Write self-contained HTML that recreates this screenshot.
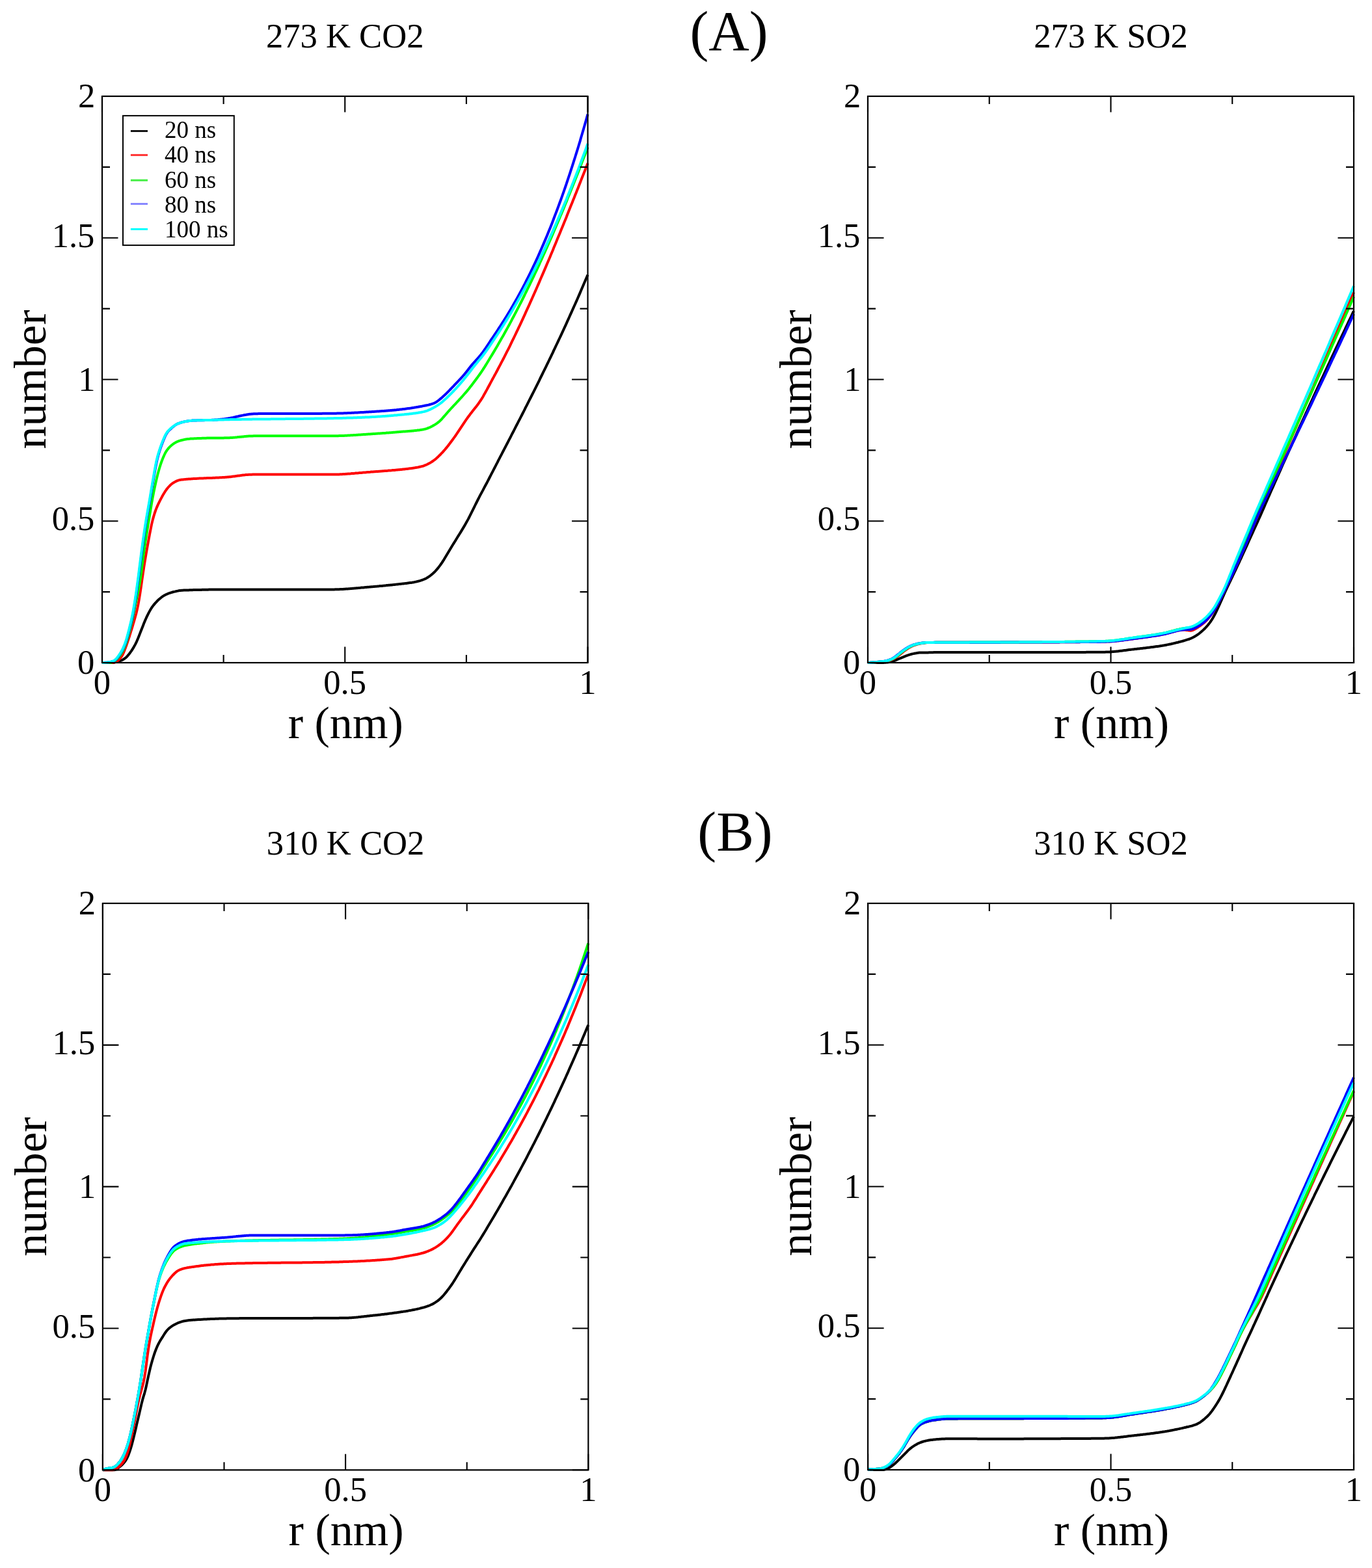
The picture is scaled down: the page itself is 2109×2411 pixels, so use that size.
<!DOCTYPE html>
<html><head><meta charset="utf-8"><title>number vs r</title>
<style>html,body{margin:0;padding:0;background:#fff;}svg{display:block;}</style></head>
<body>
<svg xmlns="http://www.w3.org/2000/svg" width="2109" height="2411" viewBox="0 0 2109 2411">
<rect width="2109" height="2411" fill="#ffffff"/>
<g fill="none" stroke-width="4" stroke-linejoin="round" stroke-linecap="butt">
<path d="M157.0,1019.0 L158.5,1019.0 L160.0,1019.0 L161.5,1019.0 L163.0,1019.0 L164.5,1019.0 L166.0,1019.0 L167.5,1019.0 L168.9,1019.0 L170.4,1019.0 L171.9,1019.0 L173.4,1018.9 L174.9,1018.7 L176.4,1018.3 L177.9,1017.9 L179.4,1017.6 L180.9,1017.2 L182.4,1016.8 L183.9,1016.4 L185.4,1015.9 L186.9,1015.3 L188.4,1014.6 L189.8,1013.7 L191.3,1012.8 L192.8,1011.7 L194.3,1010.4 L195.8,1008.8 L197.3,1007.1 L198.8,1005.2 L200.3,1003.2 L201.8,1001.1 L203.3,998.8 L204.8,996.4 L206.3,993.8 L207.8,991.1 L209.3,988.2 L210.7,985.0 L212.2,981.5 L213.7,977.8 L215.2,973.9 L216.7,970.0 L218.2,966.2 L219.7,962.4 L221.2,958.6 L222.7,954.9 L224.2,951.5 L225.7,948.2 L227.2,945.1 L228.7,942.1 L230.2,939.4 L231.7,936.8 L233.1,934.5 L234.6,932.4 L236.1,930.4 L237.6,928.6 L239.1,926.9 L240.6,925.3 L242.1,923.7 L243.6,922.3 L245.1,921.0 L246.6,919.7 L248.1,918.5 L249.6,917.4 L251.1,916.4 L252.6,915.5 L254.0,914.8 L255.5,914.0 L257.0,913.4 L258.5,912.7 L260.0,912.2 L261.5,911.6 L263.0,911.2 L264.5,910.7 L266.0,910.3 L267.5,909.9 L269.0,909.6 L270.5,909.2 L272.0,908.9 L273.5,908.6 L274.9,908.3 L276.4,908.1 L277.9,907.9 L279.4,907.8 L280.9,907.7 L282.4,907.6 L283.9,907.6 L285.4,907.5 L286.9,907.5 L288.4,907.4 L289.9,907.4 L291.4,907.3 L292.9,907.3 L294.4,907.2 L295.8,907.2 L297.3,907.1 L298.8,907.1 L300.3,907.1 L301.8,907.0 L303.3,907.0 L304.8,906.9 L306.3,906.9 L307.8,906.9 L309.3,906.9 L310.8,906.8 L312.3,906.8 L313.8,906.8 L315.3,906.7 L316.8,906.7 L318.2,906.7 L319.7,906.7 L321.2,906.6 L322.7,906.6 L324.2,906.6 L325.7,906.6 L327.2,906.6 L328.7,906.5 L330.2,906.5 L331.7,906.5 L333.2,906.5 L334.7,906.5 L336.2,906.5 L337.7,906.5 L339.1,906.4 L340.6,906.4 L342.1,906.4 L343.6,906.4 L345.1,906.4 L346.6,906.4 L348.1,906.4 L349.6,906.4 L351.1,906.4 L352.6,906.4 L354.1,906.4 L355.6,906.4 L357.1,906.4 L358.6,906.4 L360.0,906.4 L361.5,906.4 L363.0,906.4 L364.5,906.4 L366.0,906.4 L367.5,906.4 L369.0,906.4 L370.5,906.4 L372.0,906.4 L373.5,906.4 L375.0,906.4 L376.5,906.4 L378.0,906.4 L379.5,906.4 L381.0,906.4 L382.4,906.4 L383.9,906.4 L385.4,906.4 L386.9,906.4 L388.4,906.4 L389.9,906.4 L391.4,906.4 L392.9,906.4 L394.4,906.4 L395.9,906.4 L397.4,906.4 L398.9,906.4 L400.4,906.4 L401.9,906.4 L403.3,906.4 L404.8,906.4 L406.3,906.4 L407.8,906.4 L409.3,906.4 L410.8,906.4 L412.3,906.4 L413.8,906.4 L415.3,906.4 L416.8,906.4 L418.3,906.4 L419.8,906.4 L421.3,906.4 L422.8,906.4 L424.2,906.4 L425.7,906.4 L427.2,906.4 L428.7,906.4 L430.2,906.4 L431.7,906.4 L433.2,906.4 L434.7,906.4 L436.2,906.4 L437.7,906.4 L439.2,906.4 L440.7,906.4 L442.2,906.4 L443.7,906.4 L445.1,906.4 L446.6,906.4 L448.1,906.4 L449.6,906.4 L451.1,906.4 L452.6,906.4 L454.1,906.4 L455.6,906.4 L457.1,906.4 L458.6,906.4 L460.1,906.4 L461.6,906.4 L463.1,906.4 L464.6,906.4 L466.1,906.4 L467.5,906.4 L469.0,906.4 L470.5,906.4 L472.0,906.4 L473.5,906.4 L475.0,906.4 L476.5,906.4 L478.0,906.4 L479.5,906.4 L481.0,906.4 L482.5,906.4 L484.0,906.4 L485.5,906.4 L487.0,906.4 L488.4,906.4 L489.9,906.4 L491.4,906.4 L492.9,906.4 L494.4,906.4 L495.9,906.4 L497.4,906.4 L498.9,906.4 L500.4,906.4 L501.9,906.4 L503.4,906.4 L504.9,906.4 L506.4,906.4 L507.9,906.4 L509.3,906.4 L510.8,906.4 L512.3,906.4 L513.8,906.4 L515.3,906.3 L516.8,906.3 L518.3,906.3 L519.8,906.2 L521.3,906.2 L522.8,906.1 L524.3,906.0 L525.8,906.0 L527.3,905.9 L528.8,905.8 L530.3,905.7 L531.7,905.6 L533.2,905.5 L534.7,905.4 L536.2,905.3 L537.7,905.2 L539.2,905.1 L540.7,905.0 L542.2,904.8 L543.7,904.7 L545.2,904.6 L546.7,904.5 L548.2,904.3 L549.7,904.2 L551.2,904.1 L552.6,903.9 L554.1,903.8 L555.6,903.6 L557.1,903.5 L558.6,903.4 L560.1,903.2 L561.6,903.1 L563.1,903.0 L564.6,902.8 L566.1,902.7 L567.6,902.6 L569.1,902.4 L570.6,902.3 L572.1,902.2 L573.5,902.1 L575.0,901.9 L576.5,901.8 L578.0,901.7 L579.5,901.6 L581.0,901.4 L582.5,901.3 L584.0,901.1 L585.5,901.0 L587.0,900.9 L588.5,900.7 L590.0,900.6 L591.5,900.4 L593.0,900.3 L594.4,900.1 L595.9,900.0 L597.4,899.8 L598.9,899.7 L600.4,899.5 L601.9,899.4 L603.4,899.2 L604.9,899.1 L606.4,898.9 L607.9,898.7 L609.4,898.6 L610.9,898.4 L612.4,898.2 L613.9,898.1 L615.4,897.9 L616.8,897.7 L618.3,897.6 L619.8,897.4 L621.3,897.2 L622.8,897.1 L624.3,896.9 L625.8,896.7 L627.3,896.5 L628.8,896.3 L630.3,896.1 L631.8,895.9 L633.3,895.7 L634.8,895.4 L636.3,895.2 L637.7,894.9 L639.2,894.6 L640.7,894.3 L642.2,893.9 L643.7,893.5 L645.2,893.1 L646.7,892.6 L648.2,892.1 L649.7,891.6 L651.2,891.0 L652.7,890.4 L654.2,889.7 L655.7,888.9 L657.2,888.0 L658.6,887.1 L660.1,886.1 L661.6,885.0 L663.1,883.8 L664.6,882.6 L666.1,881.2 L667.6,879.8 L669.1,878.3 L670.6,876.6 L672.1,874.9 L673.6,873.1 L675.1,871.1 L676.6,869.1 L678.1,867.0 L679.6,864.9 L681.0,862.6 L682.5,860.3 L684.0,857.8 L685.5,855.3 L687.0,852.8 L688.5,850.2 L690.0,847.7 L691.5,845.2 L693.0,842.7 L694.5,840.2 L696.0,837.8 L697.5,835.4 L699.0,833.0 L700.5,830.6 L701.9,828.2 L703.4,825.8 L704.9,823.4 L706.4,821.0 L707.9,818.6 L709.4,816.1 L710.9,813.6 L712.4,811.1 L713.9,808.6 L715.4,806.0 L716.9,803.3 L718.4,800.6 L719.9,797.9 L721.4,795.0 L722.8,792.1 L724.3,789.2 L725.8,786.2 L727.3,783.2 L728.8,780.1 L730.3,777.0 L731.8,774.0 L733.3,771.0 L734.8,768.0 L736.3,765.1 L737.8,762.2 L739.3,759.4 L740.8,756.6 L742.3,753.9 L743.7,751.1 L745.2,748.3 L746.7,745.5 L748.2,742.7 L749.7,739.9 L751.2,737.0 L752.7,734.0 L754.2,731.1 L755.7,728.2 L757.2,725.3 L758.7,722.4 L760.2,719.5 L761.7,716.6 L763.2,713.7 L764.7,710.8 L766.1,707.9 L767.6,705.1 L769.1,702.2 L770.6,699.3 L772.1,696.4 L773.6,693.5 L775.1,690.6 L776.6,687.8 L778.1,684.9 L779.6,682.0 L781.1,679.1 L782.6,676.2 L784.1,673.3 L785.6,670.4 L787.0,667.5 L788.5,664.7 L790.0,661.8 L791.5,658.9 L793.0,655.9 L794.5,653.0 L796.0,650.1 L797.5,647.2 L799.0,644.3 L800.5,641.4 L802.0,638.5 L803.5,635.5 L805.0,632.6 L806.5,629.7 L807.9,626.7 L809.4,623.8 L810.9,620.8 L812.4,617.9 L813.9,614.9 L815.4,612.0 L816.9,609.0 L818.4,606.0 L819.9,603.1 L821.4,600.1 L822.9,597.1 L824.4,594.1 L825.9,591.1 L827.4,588.1 L828.9,585.1 L830.3,582.0 L831.8,579.0 L833.3,576.0 L834.8,572.9 L836.3,569.9 L837.8,566.8 L839.3,563.8 L840.8,560.7 L842.3,557.6 L843.8,554.5 L845.3,551.4 L846.8,548.3 L848.3,545.2 L849.8,542.1 L851.2,538.9 L852.7,535.8 L854.2,532.7 L855.7,529.5 L857.2,526.3 L858.7,523.1 L860.2,520.0 L861.7,516.8 L863.2,513.6 L864.7,510.3 L866.2,507.1 L867.7,503.9 L869.2,500.6 L870.7,497.3 L872.1,494.1 L873.6,490.8 L875.1,487.5 L876.6,484.2 L878.1,480.9 L879.6,477.5 L881.1,474.2 L882.6,470.8 L884.1,467.5 L885.6,464.1 L887.1,460.7 L888.6,457.3 L890.1,453.9 L891.6,450.4 L893.0,447.0 L894.5,443.5 L896.0,440.0 L897.5,436.5 L899.0,433.0 L900.5,429.5 L902.0,426.0 L903.5,422.4" stroke="#000000"/>
<path d="M157.0,1019.0 L158.5,1019.0 L160.0,1019.0 L161.5,1019.0 L163.0,1019.0 L164.5,1019.0 L166.0,1019.0 L167.5,1019.0 L168.9,1019.0 L170.4,1019.0 L171.9,1019.0 L173.4,1018.9 L174.9,1018.7 L176.4,1018.4 L177.9,1017.8 L179.4,1017.1 L180.9,1016.0 L182.4,1014.8 L183.9,1013.2 L185.4,1011.4 L186.9,1009.4 L188.4,1007.0 L189.8,1003.9 L191.3,1000.3 L192.8,996.3 L194.3,992.2 L195.8,987.9 L197.3,983.4 L198.8,978.8 L200.3,974.0 L201.8,969.2 L203.3,964.3 L204.8,959.3 L206.3,954.2 L207.8,949.0 L209.3,943.5 L210.7,937.5 L212.2,930.5 L213.7,922.4 L215.2,913.2 L216.7,903.1 L218.2,892.5 L219.7,882.1 L221.2,872.3 L222.7,863.0 L224.2,853.9 L225.7,845.2 L227.2,836.8 L228.7,828.6 L230.2,820.7 L231.7,813.1 L233.1,806.1 L234.6,799.9 L236.1,794.4 L237.6,789.5 L239.1,785.0 L240.6,781.1 L242.1,777.6 L243.6,774.4 L245.1,771.3 L246.6,768.4 L248.1,765.6 L249.6,762.8 L251.1,760.1 L252.6,757.7 L254.0,755.4 L255.5,753.3 L257.0,751.3 L258.5,749.5 L260.0,747.8 L261.5,746.3 L263.0,744.9 L264.5,743.7 L266.0,742.7 L267.5,741.8 L269.0,740.9 L270.5,740.1 L272.0,739.4 L273.5,738.8 L274.9,738.4 L276.4,738.0 L277.9,737.8 L279.4,737.6 L280.9,737.4 L282.4,737.2 L283.9,737.1 L285.4,736.9 L286.9,736.8 L288.4,736.7 L289.9,736.6 L291.4,736.5 L292.9,736.4 L294.4,736.3 L295.8,736.2 L297.3,736.1 L298.8,736.0 L300.3,735.9 L301.8,735.9 L303.3,735.8 L304.8,735.7 L306.3,735.6 L307.8,735.6 L309.3,735.5 L310.8,735.4 L312.3,735.4 L313.8,735.3 L315.3,735.3 L316.8,735.2 L318.2,735.1 L319.7,735.1 L321.2,735.0 L322.7,735.0 L324.2,734.9 L325.7,734.9 L327.2,734.8 L328.7,734.7 L330.2,734.7 L331.7,734.6 L333.2,734.5 L334.7,734.5 L336.2,734.4 L337.7,734.3 L339.1,734.3 L340.6,734.2 L342.1,734.1 L343.6,734.0 L345.1,733.9 L346.6,733.8 L348.1,733.7 L349.6,733.6 L351.1,733.5 L352.6,733.3 L354.1,733.2 L355.6,733.0 L357.1,732.8 L358.6,732.6 L360.0,732.5 L361.5,732.2 L363.0,732.0 L364.5,731.8 L366.0,731.6 L367.5,731.4 L369.0,731.2 L370.5,731.0 L372.0,730.8 L373.5,730.6 L375.0,730.4 L376.5,730.3 L378.0,730.1 L379.5,730.0 L381.0,729.9 L382.4,729.8 L383.9,729.7 L385.4,729.7 L386.9,729.7 L388.4,729.6 L389.9,729.6 L391.4,729.6 L392.9,729.6 L394.4,729.6 L395.9,729.6 L397.4,729.6 L398.9,729.6 L400.4,729.6 L401.9,729.6 L403.3,729.6 L404.8,729.6 L406.3,729.6 L407.8,729.6 L409.3,729.6 L410.8,729.6 L412.3,729.6 L413.8,729.6 L415.3,729.6 L416.8,729.6 L418.3,729.6 L419.8,729.6 L421.3,729.6 L422.8,729.6 L424.2,729.6 L425.7,729.6 L427.2,729.6 L428.7,729.6 L430.2,729.6 L431.7,729.6 L433.2,729.6 L434.7,729.6 L436.2,729.6 L437.7,729.6 L439.2,729.6 L440.7,729.6 L442.2,729.6 L443.7,729.6 L445.1,729.6 L446.6,729.6 L448.1,729.6 L449.6,729.6 L451.1,729.6 L452.6,729.6 L454.1,729.6 L455.6,729.6 L457.1,729.6 L458.6,729.6 L460.1,729.6 L461.6,729.6 L463.1,729.6 L464.6,729.6 L466.1,729.6 L467.5,729.6 L469.0,729.6 L470.5,729.6 L472.0,729.6 L473.5,729.6 L475.0,729.6 L476.5,729.6 L478.0,729.6 L479.5,729.6 L481.0,729.6 L482.5,729.6 L484.0,729.6 L485.5,729.6 L487.0,729.6 L488.4,729.6 L489.9,729.6 L491.4,729.6 L492.9,729.6 L494.4,729.6 L495.9,729.6 L497.4,729.6 L498.9,729.6 L500.4,729.6 L501.9,729.6 L503.4,729.6 L504.9,729.6 L506.4,729.6 L507.9,729.6 L509.3,729.6 L510.8,729.6 L512.3,729.6 L513.8,729.6 L515.3,729.5 L516.8,729.5 L518.3,729.5 L519.8,729.4 L521.3,729.4 L522.8,729.3 L524.3,729.2 L525.8,729.2 L527.3,729.1 L528.8,729.0 L530.3,728.9 L531.7,728.8 L533.2,728.7 L534.7,728.6 L536.2,728.5 L537.7,728.4 L539.2,728.3 L540.7,728.1 L542.2,728.0 L543.7,727.9 L545.2,727.8 L546.7,727.6 L548.2,727.5 L549.7,727.4 L551.2,727.3 L552.6,727.1 L554.1,727.0 L555.6,726.9 L557.1,726.7 L558.6,726.6 L560.1,726.5 L561.6,726.4 L563.1,726.2 L564.6,726.1 L566.1,726.0 L567.6,725.9 L569.1,725.8 L570.6,725.6 L572.1,725.5 L573.5,725.4 L575.0,725.3 L576.5,725.2 L578.0,725.1 L579.5,725.0 L581.0,724.9 L582.5,724.8 L584.0,724.7 L585.5,724.6 L587.0,724.5 L588.5,724.3 L590.0,724.2 L591.5,724.1 L593.0,724.0 L594.4,723.9 L595.9,723.8 L597.4,723.6 L598.9,723.5 L600.4,723.4 L601.9,723.3 L603.4,723.1 L604.9,723.0 L606.4,722.9 L607.9,722.7 L609.4,722.6 L610.9,722.4 L612.4,722.3 L613.9,722.2 L615.4,722.0 L616.8,721.9 L618.3,721.7 L619.8,721.5 L621.3,721.4 L622.8,721.2 L624.3,721.1 L625.8,720.9 L627.3,720.7 L628.8,720.5 L630.3,720.3 L631.8,720.2 L633.3,719.9 L634.8,719.7 L636.3,719.5 L637.7,719.3 L639.2,719.0 L640.7,718.7 L642.2,718.5 L643.7,718.2 L645.2,717.8 L646.7,717.5 L648.2,717.1 L649.7,716.8 L651.2,716.3 L652.7,715.7 L654.2,715.1 L655.7,714.5 L657.2,713.8 L658.6,713.0 L660.1,712.2 L661.6,711.4 L663.1,710.5 L664.6,709.5 L666.1,708.5 L667.6,707.4 L669.1,706.2 L670.6,704.9 L672.1,703.6 L673.6,702.2 L675.1,700.7 L676.6,699.3 L678.1,697.7 L679.6,696.2 L681.0,694.6 L682.5,692.9 L684.0,691.2 L685.5,689.4 L687.0,687.6 L688.5,685.7 L690.0,683.7 L691.5,681.8 L693.0,679.8 L694.5,677.8 L696.0,675.8 L697.5,673.7 L699.0,671.6 L700.5,669.5 L701.9,667.4 L703.4,665.2 L704.9,662.9 L706.4,660.7 L707.9,658.4 L709.4,656.1 L710.9,653.8 L712.4,651.6 L713.9,649.3 L715.4,647.1 L716.9,644.9 L718.4,642.8 L719.9,640.8 L721.4,638.8 L722.8,636.8 L724.3,634.9 L725.8,633.0 L727.3,631.1 L728.8,629.2 L730.3,627.3 L731.8,625.4 L733.3,623.5 L734.8,621.5 L736.3,619.4 L737.8,617.2 L739.3,615.0 L740.8,612.6 L742.3,610.2 L743.7,607.6 L745.2,605.0 L746.7,602.3 L748.2,599.6 L749.7,596.8 L751.2,594.0 L752.7,591.2 L754.2,588.4 L755.7,585.6 L757.2,582.8 L758.7,580.1 L760.2,577.3 L761.7,574.6 L763.2,571.8 L764.7,569.0 L766.1,566.2 L767.6,563.4 L769.1,560.6 L770.6,557.7 L772.1,554.9 L773.6,552.0 L775.1,549.1 L776.6,546.1 L778.1,543.2 L779.6,540.2 L781.1,537.3 L782.6,534.3 L784.1,531.3 L785.6,528.2 L787.0,525.2 L788.5,522.1 L790.0,519.1 L791.5,516.0 L793.0,512.9 L794.5,509.7 L796.0,506.6 L797.5,503.4 L799.0,500.3 L800.5,497.1 L802.0,493.9 L803.5,490.7 L805.0,487.4 L806.5,484.2 L807.9,480.9 L809.4,477.7 L810.9,474.4 L812.4,471.1 L813.9,467.8 L815.4,464.4 L816.9,461.1 L818.4,457.7 L819.9,454.4 L821.4,451.0 L822.9,447.6 L824.4,444.2 L825.9,440.8 L827.4,437.4 L828.9,433.9 L830.3,430.5 L831.8,427.0 L833.3,423.6 L834.8,420.1 L836.3,416.6 L837.8,413.1 L839.3,409.6 L840.8,406.0 L842.3,402.5 L843.8,399.0 L845.3,395.4 L846.8,391.8 L848.3,388.3 L849.8,384.7 L851.2,381.1 L852.7,377.5 L854.2,373.9 L855.7,370.3 L857.2,366.6 L858.7,363.0 L860.2,359.4 L861.7,355.7 L863.2,352.1 L864.7,348.4 L866.2,344.7 L867.7,341.0 L869.2,337.4 L870.7,333.7 L872.1,330.0 L873.6,326.3 L875.1,322.5 L876.6,318.8 L878.1,315.1 L879.6,311.4 L881.1,307.6 L882.6,303.9 L884.1,300.1 L885.6,296.4 L887.1,292.6 L888.6,288.9 L890.1,285.1 L891.6,281.3 L893.0,277.6 L894.5,273.8 L896.0,270.0 L897.5,266.2 L899.0,262.4 L900.5,258.6 L902.0,254.8 L903.5,251.0" stroke="#ff0000"/>
<path d="M157.0,1019.0 L158.5,1019.0 L160.0,1019.0 L161.5,1019.0 L163.0,1019.0 L164.5,1019.0 L166.0,1019.0 L167.5,1019.0 L168.9,1019.0 L170.4,1018.9 L171.9,1018.5 L173.4,1017.9 L174.9,1017.1 L176.4,1016.1 L177.9,1014.9 L179.4,1013.6 L180.9,1012.1 L182.4,1010.4 L183.9,1008.6 L185.4,1006.5 L186.9,1004.2 L188.4,1001.6 L189.8,998.6 L191.3,995.3 L192.8,991.6 L194.3,987.3 L195.8,982.6 L197.3,977.5 L198.8,972.0 L200.3,966.2 L201.8,960.0 L203.3,953.3 L204.8,946.1 L206.3,938.6 L207.8,931.1 L209.3,924.0 L210.7,917.2 L212.2,910.1 L213.7,902.3 L215.2,893.4 L216.7,883.1 L218.2,871.9 L219.7,860.3 L221.2,849.0 L222.7,838.4 L224.2,828.4 L225.7,818.9 L227.2,809.6 L228.7,800.5 L230.2,791.5 L231.7,782.5 L233.1,773.8 L234.6,765.5 L236.1,757.7 L237.6,750.3 L239.1,743.3 L240.6,736.7 L242.1,730.6 L243.6,724.9 L245.1,719.7 L246.6,714.9 L248.1,710.5 L249.6,706.5 L251.1,702.8 L252.6,699.5 L254.0,696.6 L255.5,694.0 L257.0,691.8 L258.5,689.9 L260.0,688.1 L261.5,686.6 L263.0,685.2 L264.5,684.0 L266.0,682.9 L267.5,681.8 L269.0,680.9 L270.5,680.1 L272.0,679.3 L273.5,678.7 L274.9,678.1 L276.4,677.6 L277.9,677.2 L279.4,676.8 L280.9,676.5 L282.4,676.1 L283.9,675.8 L285.4,675.5 L286.9,675.3 L288.4,675.1 L289.9,674.9 L291.4,674.8 L292.9,674.6 L294.4,674.5 L295.8,674.5 L297.3,674.4 L298.8,674.3 L300.3,674.2 L301.8,674.2 L303.3,674.1 L304.8,674.0 L306.3,674.0 L307.8,673.9 L309.3,673.9 L310.8,673.8 L312.3,673.8 L313.8,673.7 L315.3,673.7 L316.8,673.7 L318.2,673.6 L319.7,673.6 L321.2,673.6 L322.7,673.6 L324.2,673.5 L325.7,673.5 L327.2,673.5 L328.7,673.5 L330.2,673.5 L331.7,673.5 L333.2,673.4 L334.7,673.4 L336.2,673.4 L337.7,673.4 L339.1,673.4 L340.6,673.4 L342.1,673.4 L343.6,673.4 L345.1,673.3 L346.6,673.3 L348.1,673.3 L349.6,673.3 L351.1,673.2 L352.6,673.2 L354.1,673.1 L355.6,673.0 L357.1,672.9 L358.6,672.8 L360.0,672.7 L361.5,672.6 L363.0,672.4 L364.5,672.3 L366.0,672.1 L367.5,672.0 L369.0,671.8 L370.5,671.7 L372.0,671.5 L373.5,671.4 L375.0,671.2 L376.5,671.1 L378.0,671.0 L379.5,670.8 L381.0,670.7 L382.4,670.6 L383.9,670.5 L385.4,670.5 L386.9,670.4 L388.4,670.4 L389.9,670.3 L391.4,670.3 L392.9,670.3 L394.4,670.3 L395.9,670.3 L397.4,670.3 L398.9,670.3 L400.4,670.3 L401.9,670.3 L403.3,670.3 L404.8,670.3 L406.3,670.3 L407.8,670.3 L409.3,670.3 L410.8,670.3 L412.3,670.3 L413.8,670.3 L415.3,670.3 L416.8,670.3 L418.3,670.3 L419.8,670.3 L421.3,670.3 L422.8,670.3 L424.2,670.3 L425.7,670.3 L427.2,670.3 L428.7,670.3 L430.2,670.3 L431.7,670.3 L433.2,670.3 L434.7,670.3 L436.2,670.3 L437.7,670.3 L439.2,670.3 L440.7,670.3 L442.2,670.3 L443.7,670.3 L445.1,670.3 L446.6,670.3 L448.1,670.3 L449.6,670.3 L451.1,670.3 L452.6,670.3 L454.1,670.3 L455.6,670.3 L457.1,670.3 L458.6,670.3 L460.1,670.3 L461.6,670.3 L463.1,670.3 L464.6,670.3 L466.1,670.3 L467.5,670.3 L469.0,670.3 L470.5,670.3 L472.0,670.3 L473.5,670.3 L475.0,670.3 L476.5,670.3 L478.0,670.3 L479.5,670.3 L481.0,670.3 L482.5,670.3 L484.0,670.3 L485.5,670.3 L487.0,670.3 L488.4,670.3 L489.9,670.3 L491.4,670.3 L492.9,670.3 L494.4,670.3 L495.9,670.3 L497.4,670.3 L498.9,670.3 L500.4,670.3 L501.9,670.3 L503.4,670.3 L504.9,670.3 L506.4,670.3 L507.9,670.3 L509.3,670.3 L510.8,670.3 L512.3,670.3 L513.8,670.3 L515.3,670.2 L516.8,670.2 L518.3,670.2 L519.8,670.2 L521.3,670.1 L522.8,670.1 L524.3,670.0 L525.8,670.0 L527.3,669.9 L528.8,669.9 L530.3,669.8 L531.7,669.7 L533.2,669.7 L534.7,669.6 L536.2,669.5 L537.7,669.4 L539.2,669.3 L540.7,669.2 L542.2,669.2 L543.7,669.1 L545.2,669.0 L546.7,668.9 L548.2,668.8 L549.7,668.7 L551.2,668.6 L552.6,668.5 L554.1,668.4 L555.6,668.3 L557.1,668.2 L558.6,668.1 L560.1,668.0 L561.6,667.9 L563.1,667.8 L564.6,667.7 L566.1,667.6 L567.6,667.5 L569.1,667.4 L570.6,667.3 L572.1,667.2 L573.5,667.1 L575.0,667.0 L576.5,666.9 L578.0,666.8 L579.5,666.7 L581.0,666.6 L582.5,666.5 L584.0,666.4 L585.5,666.3 L587.0,666.2 L588.5,666.1 L590.0,666.0 L591.5,665.9 L593.0,665.8 L594.4,665.6 L595.9,665.5 L597.4,665.4 L598.9,665.3 L600.4,665.2 L601.9,665.1 L603.4,664.9 L604.9,664.8 L606.4,664.7 L607.9,664.6 L609.4,664.4 L610.9,664.3 L612.4,664.2 L613.9,664.1 L615.4,664.0 L616.8,663.8 L618.3,663.7 L619.8,663.6 L621.3,663.5 L622.8,663.4 L624.3,663.3 L625.8,663.2 L627.3,663.0 L628.8,662.9 L630.3,662.8 L631.8,662.7 L633.3,662.5 L634.8,662.4 L636.3,662.2 L637.7,662.1 L639.2,661.9 L640.7,661.8 L642.2,661.6 L643.7,661.4 L645.2,661.2 L646.7,660.9 L648.2,660.7 L649.7,660.5 L651.2,660.2 L652.7,659.9 L654.2,659.5 L655.7,659.1 L657.2,658.5 L658.6,658.0 L660.1,657.4 L661.6,656.7 L663.1,655.9 L664.6,655.2 L666.1,654.3 L667.6,653.5 L669.1,652.6 L670.6,651.6 L672.1,650.6 L673.6,649.4 L675.1,648.2 L676.6,646.8 L678.1,645.3 L679.6,643.8 L681.0,642.1 L682.5,640.4 L684.0,638.7 L685.5,637.0 L687.0,635.2 L688.5,633.5 L690.0,631.8 L691.5,630.2 L693.0,628.5 L694.5,626.9 L696.0,625.3 L697.5,623.7 L699.0,622.2 L700.5,620.6 L701.9,619.0 L703.4,617.4 L704.9,615.8 L706.4,614.1 L707.9,612.5 L709.4,610.9 L710.9,609.2 L712.4,607.5 L713.9,605.8 L715.4,604.1 L716.9,602.4 L718.4,600.6 L719.9,598.8 L721.4,596.9 L722.8,595.1 L724.3,593.2 L725.8,591.2 L727.3,589.3 L728.8,587.3 L730.3,585.3 L731.8,583.3 L733.3,581.3 L734.8,579.2 L736.3,577.1 L737.8,575.0 L739.3,572.8 L740.8,570.6 L742.3,568.4 L743.7,566.1 L745.2,563.8 L746.7,561.4 L748.2,559.0 L749.7,556.5 L751.2,554.0 L752.7,551.5 L754.2,549.0 L755.7,546.6 L757.2,544.1 L758.7,541.6 L760.2,539.1 L761.7,536.5 L763.2,534.0 L764.7,531.5 L766.1,528.9 L767.6,526.3 L769.1,523.7 L770.6,521.1 L772.1,518.5 L773.6,515.9 L775.1,513.2 L776.6,510.5 L778.1,507.8 L779.6,505.1 L781.1,502.4 L782.6,499.7 L784.1,496.9 L785.6,494.1 L787.0,491.3 L788.5,488.5 L790.0,485.7 L791.5,482.8 L793.0,480.0 L794.5,477.1 L796.0,474.2 L797.5,471.3 L799.0,468.4 L800.5,465.5 L802.0,462.5 L803.5,459.5 L805.0,456.5 L806.5,453.5 L807.9,450.5 L809.4,447.5 L810.9,444.4 L812.4,441.4 L813.9,438.3 L815.4,435.2 L816.9,432.1 L818.4,428.9 L819.9,425.8 L821.4,422.6 L822.9,419.5 L824.4,416.3 L825.9,413.1 L827.4,409.8 L828.9,406.6 L830.3,403.3 L831.8,400.1 L833.3,396.8 L834.8,393.5 L836.3,390.2 L837.8,386.9 L839.3,383.5 L840.8,380.2 L842.3,376.8 L843.8,373.4 L845.3,370.0 L846.8,366.6 L848.3,363.2 L849.8,359.7 L851.2,356.3 L852.7,352.8 L854.2,349.3 L855.7,345.8 L857.2,342.3 L858.7,338.7 L860.2,335.2 L861.7,331.6 L863.2,328.1 L864.7,324.5 L866.2,320.9 L867.7,317.3 L869.2,313.6 L870.7,310.0 L872.1,306.3 L873.6,302.6 L875.1,299.0 L876.6,295.3 L878.1,291.6 L879.6,287.8 L881.1,284.1 L882.6,280.3 L884.1,276.6 L885.6,272.8 L887.1,269.0 L888.6,265.2 L890.1,261.4 L891.6,257.5 L893.0,253.7 L894.5,249.8 L896.0,245.9 L897.5,242.1 L899.0,238.2 L900.5,234.2 L902.0,230.3 L903.5,226.4" stroke="#00ff00"/>
<path d="M157.0,1019.0 L158.5,1019.0 L160.0,1018.9 L161.5,1018.8 L163.0,1018.7 L164.5,1018.6 L166.0,1018.4 L167.5,1018.3 L168.9,1018.0 L170.4,1017.7 L171.9,1017.3 L173.4,1016.9 L174.9,1016.3 L176.4,1015.5 L177.9,1014.4 L179.4,1012.8 L180.9,1011.0 L182.4,1009.0 L183.9,1006.8 L185.4,1004.5 L186.9,1002.1 L188.4,999.4 L189.8,996.4 L191.3,993.0 L192.8,989.2 L194.3,984.8 L195.8,979.7 L197.3,974.2 L198.8,968.4 L200.3,962.5 L201.8,956.2 L203.3,949.5 L204.8,941.9 L206.3,933.5 L207.8,924.4 L209.3,914.9 L210.7,904.9 L212.2,894.2 L213.7,882.8 L215.2,870.8 L216.7,858.9 L218.2,847.4 L219.7,836.2 L221.2,825.4 L222.7,815.1 L224.2,805.3 L225.7,796.3 L227.2,787.6 L228.7,779.1 L230.2,770.5 L231.7,761.8 L233.1,753.0 L234.6,744.3 L236.1,735.6 L237.6,727.0 L239.1,718.7 L240.6,711.0 L242.1,704.4 L243.6,698.8 L245.1,693.9 L246.6,689.4 L248.1,685.0 L249.6,681.0 L251.1,677.2 L252.6,673.7 L254.0,670.4 L255.5,667.6 L257.0,665.2 L258.5,663.3 L260.0,661.6 L261.5,660.2 L263.0,658.9 L264.5,657.6 L266.0,656.3 L267.5,655.1 L269.0,654.0 L270.5,652.9 L272.0,652.1 L273.5,651.4 L274.9,650.8 L276.4,650.3 L277.9,649.8 L279.4,649.4 L280.9,649.0 L282.4,648.6 L283.9,648.3 L285.4,648.1 L286.9,647.8 L288.4,647.5 L289.9,647.3 L291.4,647.1 L292.9,646.9 L294.4,646.8 L295.8,646.6 L297.3,646.5 L298.8,646.5 L300.3,646.4 L301.8,646.4 L303.3,646.3 L304.8,646.3 L306.3,646.3 L307.8,646.3 L309.3,646.2 L310.8,646.2 L312.3,646.2 L313.8,646.2 L315.3,646.1 L316.8,646.1 L318.2,646.1 L319.7,646.0 L321.2,646.0 L322.7,645.9 L324.2,645.9 L325.7,645.8 L327.2,645.8 L328.7,645.7 L330.2,645.6 L331.7,645.5 L333.2,645.4 L334.7,645.3 L336.2,645.1 L337.7,645.0 L339.1,644.8 L340.6,644.7 L342.1,644.5 L343.6,644.4 L345.1,644.2 L346.6,644.0 L348.1,643.8 L349.6,643.6 L351.1,643.3 L352.6,643.1 L354.1,642.8 L355.6,642.5 L357.1,642.2 L358.6,641.9 L360.0,641.5 L361.5,641.2 L363.0,640.8 L364.5,640.5 L366.0,640.2 L367.5,639.8 L369.0,639.5 L370.5,639.2 L372.0,638.9 L373.5,638.6 L375.0,638.3 L376.5,638.0 L378.0,637.8 L379.5,637.5 L381.0,637.2 L382.4,637.0 L383.9,636.8 L385.4,636.7 L386.9,636.5 L388.4,636.4 L389.9,636.3 L391.4,636.3 L392.9,636.2 L394.4,636.2 L395.9,636.2 L397.4,636.1 L398.9,636.1 L400.4,636.1 L401.9,636.1 L403.3,636.1 L404.8,636.1 L406.3,636.1 L407.8,636.1 L409.3,636.1 L410.8,636.1 L412.3,636.0 L413.8,636.0 L415.3,636.0 L416.8,636.0 L418.3,636.0 L419.8,636.0 L421.3,636.0 L422.8,636.0 L424.2,636.0 L425.7,636.0 L427.2,636.0 L428.7,636.0 L430.2,636.0 L431.7,636.0 L433.2,636.0 L434.7,636.0 L436.2,636.0 L437.7,636.0 L439.2,636.0 L440.7,636.0 L442.2,636.0 L443.7,636.0 L445.1,636.0 L446.6,636.0 L448.1,636.0 L449.6,636.0 L451.1,636.0 L452.6,635.9 L454.1,635.9 L455.6,635.9 L457.1,635.9 L458.6,635.9 L460.1,635.9 L461.6,635.9 L463.1,635.9 L464.6,635.9 L466.1,635.9 L467.5,635.9 L469.0,635.9 L470.5,635.9 L472.0,635.9 L473.5,635.9 L475.0,635.9 L476.5,635.9 L478.0,635.9 L479.5,635.9 L481.0,635.9 L482.5,635.9 L484.0,635.9 L485.5,635.9 L487.0,635.9 L488.4,635.9 L489.9,635.9 L491.4,635.9 L492.9,635.9 L494.4,635.9 L495.9,635.8 L497.4,635.8 L498.9,635.8 L500.4,635.8 L501.9,635.8 L503.4,635.8 L504.9,635.8 L506.4,635.8 L507.9,635.8 L509.3,635.8 L510.8,635.7 L512.3,635.7 L513.8,635.7 L515.3,635.7 L516.8,635.7 L518.3,635.6 L519.8,635.6 L521.3,635.6 L522.8,635.5 L524.3,635.5 L525.8,635.4 L527.3,635.4 L528.8,635.3 L530.3,635.3 L531.7,635.2 L533.2,635.2 L534.7,635.1 L536.2,635.0 L537.7,635.0 L539.2,634.9 L540.7,634.8 L542.2,634.7 L543.7,634.7 L545.2,634.6 L546.7,634.5 L548.2,634.4 L549.7,634.4 L551.2,634.3 L552.6,634.2 L554.1,634.1 L555.6,634.0 L557.1,633.9 L558.6,633.9 L560.1,633.8 L561.6,633.7 L563.1,633.6 L564.6,633.5 L566.1,633.4 L567.6,633.3 L569.1,633.3 L570.6,633.2 L572.1,633.1 L573.5,633.0 L575.0,632.9 L576.5,632.8 L578.0,632.7 L579.5,632.6 L581.0,632.5 L582.5,632.4 L584.0,632.3 L585.5,632.2 L587.0,632.1 L588.5,632.0 L590.0,631.9 L591.5,631.8 L593.0,631.7 L594.4,631.6 L595.9,631.5 L597.4,631.3 L598.9,631.2 L600.4,631.1 L601.9,631.0 L603.4,630.8 L604.9,630.7 L606.4,630.5 L607.9,630.4 L609.4,630.3 L610.9,630.1 L612.4,630.0 L613.9,629.8 L615.4,629.6 L616.8,629.5 L618.3,629.3 L619.8,629.1 L621.3,628.9 L622.8,628.7 L624.3,628.5 L625.8,628.3 L627.3,628.1 L628.8,627.9 L630.3,627.7 L631.8,627.5 L633.3,627.2 L634.8,627.0 L636.3,626.8 L637.7,626.5 L639.2,626.3 L640.7,626.0 L642.2,625.8 L643.7,625.5 L645.2,625.2 L646.7,624.9 L648.2,624.7 L649.7,624.4 L651.2,624.1 L652.7,623.8 L654.2,623.5 L655.7,623.2 L657.2,622.9 L658.6,622.6 L660.1,622.2 L661.6,621.8 L663.1,621.4 L664.6,620.9 L666.1,620.4 L667.6,619.7 L669.1,619.0 L670.6,618.1 L672.1,617.1 L673.6,616.0 L675.1,614.9 L676.6,613.6 L678.1,612.4 L679.6,611.1 L681.0,609.8 L682.5,608.4 L684.0,607.0 L685.5,605.6 L687.0,604.1 L688.5,602.6 L690.0,601.1 L691.5,599.5 L693.0,598.0 L694.5,596.4 L696.0,594.8 L697.5,593.3 L699.0,591.7 L700.5,590.2 L701.9,588.6 L703.4,587.1 L704.9,585.5 L706.4,583.9 L707.9,582.3 L709.4,580.7 L710.9,579.0 L712.4,577.3 L713.9,575.6 L715.4,573.7 L716.9,571.9 L718.4,569.9 L719.9,568.0 L721.4,566.1 L722.8,564.2 L724.3,562.4 L725.8,560.6 L727.3,558.9 L728.8,557.2 L730.3,555.6 L731.8,553.9 L733.3,552.2 L734.8,550.5 L736.3,548.8 L737.8,547.0 L739.3,545.2 L740.8,543.3 L742.3,541.4 L743.7,539.3 L745.2,537.2 L746.7,535.1 L748.2,532.8 L749.7,530.6 L751.2,528.3 L752.7,526.0 L754.2,523.7 L755.7,521.5 L757.2,519.3 L758.7,517.1 L760.2,514.8 L761.7,512.6 L763.2,510.4 L764.7,508.2 L766.1,505.9 L767.6,503.6 L769.1,501.4 L770.6,499.0 L772.1,496.7 L773.6,494.4 L775.1,492.0 L776.6,489.6 L778.1,487.2 L779.6,484.7 L781.1,482.3 L782.6,479.8 L784.1,477.3 L785.6,474.8 L787.0,472.2 L788.5,469.7 L790.0,467.1 L791.5,464.4 L793.0,461.8 L794.5,459.1 L796.0,456.4 L797.5,453.7 L799.0,451.0 L800.5,448.2 L802.0,445.4 L803.5,442.6 L805.0,439.7 L806.5,436.9 L807.9,434.0 L809.4,431.0 L810.9,428.1 L812.4,425.1 L813.9,422.1 L815.4,419.0 L816.9,415.9 L818.4,412.8 L819.9,409.7 L821.4,406.5 L822.9,403.3 L824.4,400.1 L825.9,396.8 L827.4,393.5 L828.9,390.2 L830.3,386.8 L831.8,383.5 L833.3,380.0 L834.8,376.6 L836.3,373.1 L837.8,369.6 L839.3,366.0 L840.8,362.4 L842.3,358.8 L843.8,355.1 L845.3,351.4 L846.8,347.7 L848.3,343.9 L849.8,340.1 L851.2,336.2 L852.7,332.3 L854.2,328.4 L855.7,324.5 L857.2,320.5 L858.7,316.4 L860.2,312.3 L861.7,308.2 L863.2,304.1 L864.7,299.9 L866.2,295.6 L867.7,291.3 L869.2,287.0 L870.7,282.7 L872.1,278.3 L873.6,273.8 L875.1,269.3 L876.6,264.8 L878.1,260.2 L879.6,255.6 L881.1,250.9 L882.6,246.2 L884.1,241.5 L885.6,236.7 L887.1,231.9 L888.6,227.0 L890.1,222.0 L891.6,217.1 L893.0,212.0 L894.5,207.0 L896.0,201.9 L897.5,196.7 L899.0,191.5 L900.5,186.2 L902.0,180.9 L903.5,175.6" stroke="#0000ff"/>
<path d="M157.0,1019.0 L158.5,1019.0 L160.0,1018.9 L161.5,1018.8 L163.0,1018.7 L164.5,1018.6 L166.0,1018.4 L167.5,1018.2 L168.9,1018.0 L170.4,1017.6 L171.9,1017.2 L173.4,1016.7 L174.9,1016.0 L176.4,1015.1 L177.9,1013.8 L179.4,1012.1 L180.9,1010.2 L182.4,1008.1 L183.9,1005.9 L185.4,1003.6 L186.9,1001.0 L188.4,998.2 L189.8,995.1 L191.3,991.5 L192.8,987.5 L194.3,982.8 L195.8,977.5 L197.3,971.9 L198.8,966.1 L200.3,960.0 L201.8,953.6 L203.3,946.5 L204.8,938.7 L206.3,929.9 L207.8,920.7 L209.3,911.0 L210.7,900.7 L212.2,889.7 L213.7,878.0 L215.2,866.0 L216.7,854.2 L218.2,842.8 L219.7,831.8 L221.2,821.2 L222.7,811.1 L224.2,801.6 L225.7,792.8 L227.2,784.2 L228.7,775.7 L230.2,767.0 L231.7,758.2 L233.1,749.5 L234.6,740.8 L236.1,732.2 L237.6,723.6 L239.1,715.5 L240.6,708.2 L242.1,702.1 L243.6,696.8 L245.1,692.1 L246.6,687.6 L248.1,683.4 L249.6,679.4 L251.1,675.8 L252.6,672.4 L254.0,669.3 L255.5,666.6 L257.0,664.4 L258.5,662.6 L260.0,661.0 L261.5,659.6 L263.0,658.3 L264.5,657.1 L266.0,655.9 L267.5,654.8 L269.0,653.8 L270.5,652.8 L272.0,652.1 L273.5,651.4 L274.9,650.8 L276.4,650.3 L277.9,649.8 L279.4,649.4 L280.9,649.0 L282.4,648.6 L283.9,648.3 L285.4,648.1 L286.9,647.8 L288.4,647.5 L289.9,647.3 L291.4,647.1 L292.9,646.9 L294.4,646.8 L295.8,646.6 L297.3,646.5 L298.8,646.5 L300.3,646.4 L301.8,646.4 L303.3,646.3 L304.8,646.3 L306.3,646.3 L307.8,646.2 L309.3,646.2 L310.8,646.2 L312.3,646.1 L313.8,646.1 L315.3,646.1 L316.8,646.1 L318.2,646.0 L319.7,646.0 L321.2,646.0 L322.7,645.9 L324.2,645.9 L325.7,645.9 L327.2,645.8 L328.7,645.8 L330.2,645.8 L331.7,645.7 L333.2,645.7 L334.7,645.6 L336.2,645.6 L337.7,645.5 L339.1,645.5 L340.6,645.5 L342.1,645.4 L343.6,645.4 L345.1,645.3 L346.6,645.3 L348.1,645.3 L349.6,645.2 L351.1,645.2 L352.6,645.2 L354.1,645.1 L355.6,645.1 L357.1,645.1 L358.6,645.1 L360.0,645.0 L361.5,645.0 L363.0,645.0 L364.5,645.0 L366.0,644.9 L367.5,644.9 L369.0,644.9 L370.5,644.9 L372.0,644.8 L373.5,644.8 L375.0,644.8 L376.5,644.8 L378.0,644.8 L379.5,644.7 L381.0,644.7 L382.4,644.7 L383.9,644.7 L385.4,644.7 L386.9,644.7 L388.4,644.6 L389.9,644.6 L391.4,644.6 L392.9,644.6 L394.4,644.6 L395.9,644.6 L397.4,644.5 L398.9,644.5 L400.4,644.5 L401.9,644.5 L403.3,644.5 L404.8,644.5 L406.3,644.4 L407.8,644.4 L409.3,644.4 L410.8,644.4 L412.3,644.4 L413.8,644.4 L415.3,644.4 L416.8,644.3 L418.3,644.3 L419.8,644.3 L421.3,644.3 L422.8,644.3 L424.2,644.3 L425.7,644.3 L427.2,644.2 L428.7,644.2 L430.2,644.2 L431.7,644.2 L433.2,644.2 L434.7,644.2 L436.2,644.2 L437.7,644.2 L439.2,644.1 L440.7,644.1 L442.2,644.1 L443.7,644.1 L445.1,644.1 L446.6,644.1 L448.1,644.1 L449.6,644.0 L451.1,644.0 L452.6,644.0 L454.1,644.0 L455.6,644.0 L457.1,644.0 L458.6,643.9 L460.1,643.9 L461.6,643.9 L463.1,643.9 L464.6,643.9 L466.1,643.9 L467.5,643.8 L469.0,643.8 L470.5,643.8 L472.0,643.8 L473.5,643.8 L475.0,643.8 L476.5,643.7 L478.0,643.7 L479.5,643.7 L481.0,643.7 L482.5,643.7 L484.0,643.6 L485.5,643.6 L487.0,643.6 L488.4,643.6 L489.9,643.6 L491.4,643.5 L492.9,643.5 L494.4,643.5 L495.9,643.5 L497.4,643.4 L498.9,643.4 L500.4,643.4 L501.9,643.4 L503.4,643.3 L504.9,643.3 L506.4,643.3 L507.9,643.3 L509.3,643.2 L510.8,643.2 L512.3,643.2 L513.8,643.1 L515.3,643.1 L516.8,643.1 L518.3,643.0 L519.8,643.0 L521.3,643.0 L522.8,642.9 L524.3,642.9 L525.8,642.9 L527.3,642.8 L528.8,642.8 L530.3,642.7 L531.7,642.7 L533.2,642.6 L534.7,642.6 L536.2,642.6 L537.7,642.5 L539.2,642.5 L540.7,642.4 L542.2,642.4 L543.7,642.3 L545.2,642.3 L546.7,642.2 L548.2,642.2 L549.7,642.1 L551.2,642.0 L552.6,642.0 L554.1,641.9 L555.6,641.9 L557.1,641.8 L558.6,641.7 L560.1,641.7 L561.6,641.6 L563.1,641.6 L564.6,641.5 L566.1,641.4 L567.6,641.4 L569.1,641.3 L570.6,641.2 L572.1,641.1 L573.5,641.1 L575.0,641.0 L576.5,640.9 L578.0,640.8 L579.5,640.7 L581.0,640.6 L582.5,640.5 L584.0,640.4 L585.5,640.3 L587.0,640.2 L588.5,640.1 L590.0,640.0 L591.5,639.9 L593.0,639.8 L594.4,639.7 L595.9,639.5 L597.4,639.4 L598.9,639.3 L600.4,639.2 L601.9,639.0 L603.4,638.9 L604.9,638.8 L606.4,638.6 L607.9,638.5 L609.4,638.4 L610.9,638.2 L612.4,638.1 L613.9,638.0 L615.4,637.8 L616.8,637.7 L618.3,637.5 L619.8,637.4 L621.3,637.3 L622.8,637.1 L624.3,637.0 L625.8,636.8 L627.3,636.7 L628.8,636.5 L630.3,636.3 L631.8,636.2 L633.3,636.0 L634.8,635.8 L636.3,635.6 L637.7,635.4 L639.2,635.2 L640.7,635.0 L642.2,634.8 L643.7,634.5 L645.2,634.2 L646.7,634.0 L648.2,633.7 L649.7,633.4 L651.2,633.1 L652.7,632.7 L654.2,632.3 L655.7,631.8 L657.2,631.3 L658.6,630.7 L660.1,630.1 L661.6,629.4 L663.1,628.6 L664.6,627.9 L666.1,627.1 L667.6,626.2 L669.1,625.4 L670.6,624.5 L672.1,623.6 L673.6,622.6 L675.1,621.6 L676.6,620.5 L678.1,619.4 L679.6,618.2 L681.0,616.9 L682.5,615.6 L684.0,614.3 L685.5,612.9 L687.0,611.5 L688.5,610.0 L690.0,608.6 L691.5,607.1 L693.0,605.6 L694.5,604.1 L696.0,602.5 L697.5,601.0 L699.0,599.4 L700.5,597.9 L701.9,596.3 L703.4,594.6 L704.9,593.0 L706.4,591.2 L707.9,589.5 L709.4,587.7 L710.9,586.0 L712.4,584.2 L713.9,582.3 L715.4,580.5 L716.9,578.6 L718.4,576.7 L719.9,574.8 L721.4,572.9 L722.8,571.0 L724.3,569.0 L725.8,567.0 L727.3,565.1 L728.8,563.2 L730.3,561.3 L731.8,559.5 L733.3,557.7 L734.8,555.8 L736.3,554.0 L737.8,552.2 L739.3,550.4 L740.8,548.6 L742.3,546.7 L743.7,544.8 L745.2,542.8 L746.7,540.8 L748.2,538.7 L749.7,536.5 L751.2,534.3 L752.7,532.1 L754.2,529.9 L755.7,527.6 L757.2,525.4 L758.7,523.2 L760.2,520.9 L761.7,518.7 L763.2,516.4 L764.7,514.2 L766.1,511.9 L767.6,509.6 L769.1,507.3 L770.6,505.0 L772.1,502.6 L773.6,500.3 L775.1,497.9 L776.6,495.5 L778.1,493.1 L779.6,490.6 L781.1,488.2 L782.6,485.7 L784.1,483.2 L785.6,480.7 L787.0,478.2 L788.5,475.7 L790.0,473.1 L791.5,470.5 L793.0,467.9 L794.5,465.3 L796.0,462.7 L797.5,460.1 L799.0,457.4 L800.5,454.7 L802.0,452.0 L803.5,449.3 L805.0,446.5 L806.5,443.8 L807.9,441.0 L809.4,438.2 L810.9,435.4 L812.4,432.6 L813.9,429.7 L815.4,426.8 L816.9,423.9 L818.4,421.0 L819.9,418.1 L821.4,415.1 L822.9,412.2 L824.4,409.2 L825.9,406.2 L827.4,403.1 L828.9,400.1 L830.3,397.0 L831.8,393.9 L833.3,390.8 L834.8,387.7 L836.3,384.5 L837.8,381.4 L839.3,378.2 L840.8,375.0 L842.3,371.7 L843.8,368.5 L845.3,365.2 L846.8,361.9 L848.3,358.6 L849.8,355.3 L851.2,351.9 L852.7,348.6 L854.2,345.2 L855.7,341.7 L857.2,338.3 L858.7,334.8 L860.2,331.4 L861.7,327.9 L863.2,324.3 L864.7,320.8 L866.2,317.2 L867.7,313.6 L869.2,310.0 L870.7,306.4 L872.1,302.7 L873.6,299.1 L875.1,295.4 L876.6,291.6 L878.1,287.9 L879.6,284.1 L881.1,280.4 L882.6,276.5 L884.1,272.7 L885.6,268.9 L887.1,265.0 L888.6,261.1 L890.1,257.2 L891.6,253.2 L893.0,249.3 L894.5,245.3 L896.0,241.3 L897.5,237.2 L899.0,233.2 L900.5,229.1 L902.0,225.0 L903.5,220.8" stroke="#00ffff"/>
</g>
<rect x="157.0" y="148.0" width="746.50" height="871.00" fill="none" stroke="#000" stroke-width="2.2"/>
<path d="M157.00,1019.0v-24.5M157.00,148.0v24.5M343.62,1019.0v-12M343.62,148.0v12M530.25,1019.0v-24.5M530.25,148.0v24.5M716.88,1019.0v-12M716.88,148.0v12M903.50,1019.0v-24.5M903.50,148.0v24.5M157.0,1019.00h24.5M903.5,1019.00h-24.5M157.0,910.12h12M903.5,910.12h-12M157.0,801.25h24.5M903.5,801.25h-24.5M157.0,692.38h12M903.5,692.38h-12M157.0,583.50h24.5M903.5,583.50h-24.5M157.0,474.62h12M903.5,474.62h-12M157.0,365.75h24.5M903.5,365.75h-24.5M157.0,256.88h12M903.5,256.88h-12M157.0,148.00h24.5M903.5,148.00h-24.5" stroke="#000" stroke-width="2.1" fill="none"/>
<text x="145.3" y="1036.2" font-family="Liberation Serif, Times New Roman, serif" font-size="52.6" text-anchor="end">0</text>
<text x="145.4" y="815.2" font-family="Liberation Serif, Times New Roman, serif" font-size="52.6" text-anchor="end">0.5</text>
<text x="146.5" y="600.7" font-family="Liberation Serif, Times New Roman, serif" font-size="52.6" text-anchor="end">1</text>
<text x="145.4" y="379.8" font-family="Liberation Serif, Times New Roman, serif" font-size="52.6" text-anchor="end">1.5</text>
<text x="146.2" y="165.2" font-family="Liberation Serif, Times New Roman, serif" font-size="52.6" text-anchor="end">2</text>
<text x="157.0" y="1067.0" font-family="Liberation Serif, Times New Roman, serif" font-size="52.6" text-anchor="middle">0</text>
<text x="530.2" y="1067.0" font-family="Liberation Serif, Times New Roman, serif" font-size="52.6" text-anchor="middle">0.5</text>
<text x="903.5" y="1067.0" font-family="Liberation Serif, Times New Roman, serif" font-size="52.6" text-anchor="middle">1</text>
<text x="530.2" y="72.8" font-family="Liberation Serif, Times New Roman, serif" font-size="52.6" text-anchor="middle">273 K CO2</text>
<text x="531.2" y="1135.0" font-family="Liberation Serif, Times New Roman, serif" font-size="70.1" text-anchor="middle">r (nm)</text>
<text transform="translate(70.0,583.5) rotate(-90)" font-family="Liberation Serif, Times New Roman, serif" font-size="70.1" text-anchor="middle">number</text>
<g fill="none" stroke-width="4" stroke-linejoin="round" stroke-linecap="butt">
<path d="M1334.0,1019.0 L1335.5,1019.0 L1337.0,1019.0 L1338.5,1019.0 L1340.0,1019.0 L1341.5,1019.0 L1343.0,1019.0 L1344.5,1019.0 L1346.0,1019.0 L1347.4,1019.0 L1348.9,1019.0 L1350.4,1019.0 L1351.9,1019.0 L1353.4,1019.0 L1354.9,1019.0 L1356.4,1018.9 L1357.9,1018.9 L1359.4,1018.8 L1360.9,1018.7 L1362.4,1018.5 L1363.9,1018.4 L1365.4,1018.2 L1366.9,1018.0 L1368.4,1017.7 L1369.9,1017.5 L1371.4,1017.2 L1372.8,1016.8 L1374.3,1016.2 L1375.8,1015.6 L1377.3,1014.9 L1378.8,1014.3 L1380.3,1013.6 L1381.8,1013.0 L1383.3,1012.4 L1384.8,1011.8 L1386.3,1011.2 L1387.8,1010.6 L1389.3,1009.9 L1390.8,1009.3 L1392.3,1008.7 L1393.8,1008.1 L1395.3,1007.6 L1396.7,1007.1 L1398.2,1006.6 L1399.7,1006.2 L1401.2,1005.8 L1402.7,1005.4 L1404.2,1005.1 L1405.7,1004.8 L1407.2,1004.5 L1408.7,1004.3 L1410.2,1004.0 L1411.7,1003.8 L1413.2,1003.6 L1414.7,1003.5 L1416.2,1003.5 L1417.7,1003.5 L1419.2,1003.4 L1420.7,1003.4 L1422.1,1003.4 L1423.6,1003.4 L1425.1,1003.4 L1426.6,1003.4 L1428.1,1003.3 L1429.6,1003.3 L1431.1,1003.3 L1432.6,1003.2 L1434.1,1003.2 L1435.6,1003.1 L1437.1,1003.1 L1438.6,1003.0 L1440.1,1003.0 L1441.6,1003.0 L1443.1,1003.0 L1444.6,1003.0 L1446.1,1003.0 L1447.5,1003.0 L1449.0,1003.0 L1450.5,1003.0 L1452.0,1003.0 L1453.5,1003.0 L1455.0,1003.0 L1456.5,1003.0 L1458.0,1003.0 L1459.5,1003.0 L1461.0,1003.0 L1462.5,1003.0 L1464.0,1003.0 L1465.5,1003.0 L1467.0,1003.0 L1468.5,1003.0 L1470.0,1003.0 L1471.4,1003.0 L1472.9,1003.0 L1474.4,1003.1 L1475.9,1003.1 L1477.4,1003.1 L1478.9,1003.1 L1480.4,1003.1 L1481.9,1003.1 L1483.4,1003.1 L1484.9,1003.1 L1486.4,1003.1 L1487.9,1003.1 L1489.4,1003.1 L1490.9,1003.1 L1492.4,1003.1 L1493.9,1003.1 L1495.4,1003.1 L1496.8,1003.1 L1498.3,1003.1 L1499.8,1003.1 L1501.3,1003.1 L1502.8,1003.1 L1504.3,1003.1 L1505.8,1003.1 L1507.3,1003.1 L1508.8,1003.1 L1510.3,1003.1 L1511.8,1003.1 L1513.3,1003.1 L1514.8,1003.1 L1516.3,1003.1 L1517.8,1003.1 L1519.3,1003.1 L1520.8,1003.1 L1522.2,1003.1 L1523.7,1003.1 L1525.2,1003.1 L1526.7,1003.1 L1528.2,1003.1 L1529.7,1003.1 L1531.2,1003.1 L1532.7,1003.1 L1534.2,1003.1 L1535.7,1003.1 L1537.2,1003.1 L1538.7,1003.1 L1540.2,1003.1 L1541.7,1003.1 L1543.2,1003.1 L1544.7,1003.1 L1546.1,1003.1 L1547.6,1003.1 L1549.1,1003.1 L1550.6,1003.1 L1552.1,1003.1 L1553.6,1003.1 L1555.1,1003.1 L1556.6,1003.1 L1558.1,1003.1 L1559.6,1003.1 L1561.1,1003.1 L1562.6,1003.1 L1564.1,1003.1 L1565.6,1003.1 L1567.1,1003.1 L1568.6,1003.1 L1570.1,1003.1 L1571.5,1003.1 L1573.0,1003.1 L1574.5,1003.1 L1576.0,1003.1 L1577.5,1003.1 L1579.0,1003.1 L1580.5,1003.1 L1582.0,1003.1 L1583.5,1003.1 L1585.0,1003.1 L1586.5,1003.1 L1588.0,1003.1 L1589.5,1003.1 L1591.0,1003.1 L1592.5,1003.1 L1594.0,1003.1 L1595.5,1003.1 L1596.9,1003.0 L1598.4,1003.0 L1599.9,1003.0 L1601.4,1003.0 L1602.9,1003.0 L1604.4,1003.0 L1605.9,1003.0 L1607.4,1003.0 L1608.9,1003.0 L1610.4,1003.0 L1611.9,1003.0 L1613.4,1003.0 L1614.9,1003.0 L1616.4,1003.0 L1617.9,1003.0 L1619.4,1003.0 L1620.8,1003.0 L1622.3,1003.0 L1623.8,1003.0 L1625.3,1003.0 L1626.8,1003.0 L1628.3,1003.0 L1629.8,1003.0 L1631.3,1003.0 L1632.8,1003.0 L1634.3,1003.0 L1635.8,1003.0 L1637.3,1003.0 L1638.8,1003.0 L1640.3,1003.0 L1641.8,1002.9 L1643.3,1002.9 L1644.8,1002.9 L1646.2,1002.9 L1647.7,1002.9 L1649.2,1002.9 L1650.7,1002.9 L1652.2,1002.9 L1653.7,1002.9 L1655.2,1002.9 L1656.7,1002.9 L1658.2,1002.9 L1659.7,1002.9 L1661.2,1002.9 L1662.7,1002.9 L1664.2,1002.9 L1665.7,1002.9 L1667.2,1002.9 L1668.7,1002.9 L1670.2,1002.8 L1671.6,1002.8 L1673.1,1002.8 L1674.6,1002.8 L1676.1,1002.8 L1677.6,1002.8 L1679.1,1002.8 L1680.6,1002.8 L1682.1,1002.8 L1683.6,1002.8 L1685.1,1002.8 L1686.6,1002.8 L1688.1,1002.8 L1689.6,1002.8 L1691.1,1002.7 L1692.6,1002.7 L1694.1,1002.7 L1695.5,1002.7 L1697.0,1002.7 L1698.5,1002.7 L1700.0,1002.6 L1701.5,1002.6 L1703.0,1002.5 L1704.5,1002.5 L1706.0,1002.4 L1707.5,1002.3 L1709.0,1002.2 L1710.5,1002.1 L1712.0,1002.0 L1713.5,1001.8 L1715.0,1001.7 L1716.5,1001.5 L1718.0,1001.4 L1719.5,1001.2 L1720.9,1001.0 L1722.4,1000.8 L1723.9,1000.7 L1725.4,1000.5 L1726.9,1000.3 L1728.4,1000.1 L1729.9,999.9 L1731.4,999.7 L1732.9,999.5 L1734.4,999.3 L1735.9,999.1 L1737.4,998.9 L1738.9,998.7 L1740.4,998.6 L1741.9,998.4 L1743.4,998.2 L1744.9,998.0 L1746.3,997.9 L1747.8,997.7 L1749.3,997.5 L1750.8,997.4 L1752.3,997.2 L1753.8,997.0 L1755.3,996.9 L1756.8,996.7 L1758.3,996.5 L1759.8,996.4 L1761.3,996.2 L1762.8,996.0 L1764.3,995.8 L1765.8,995.7 L1767.3,995.5 L1768.8,995.3 L1770.2,995.1 L1771.7,994.9 L1773.2,994.7 L1774.7,994.5 L1776.2,994.3 L1777.7,994.1 L1779.2,993.9 L1780.7,993.7 L1782.2,993.5 L1783.7,993.2 L1785.2,993.0 L1786.7,992.8 L1788.2,992.5 L1789.7,992.3 L1791.2,992.0 L1792.7,991.7 L1794.2,991.4 L1795.6,991.1 L1797.1,990.8 L1798.6,990.5 L1800.1,990.2 L1801.6,989.8 L1803.1,989.5 L1804.6,989.1 L1806.1,988.8 L1807.6,988.4 L1809.1,988.0 L1810.6,987.7 L1812.1,987.3 L1813.6,986.9 L1815.1,986.5 L1816.6,986.1 L1818.1,985.7 L1819.6,985.3 L1821.0,984.8 L1822.5,984.4 L1824.0,983.9 L1825.5,983.4 L1827.0,983.0 L1828.5,982.5 L1830.0,981.9 L1831.5,981.2 L1833.0,980.5 L1834.5,979.7 L1836.0,978.9 L1837.5,978.1 L1839.0,977.1 L1840.5,976.1 L1842.0,975.1 L1843.5,974.0 L1844.9,972.8 L1846.4,971.6 L1847.9,970.3 L1849.4,968.9 L1850.9,967.5 L1852.4,966.0 L1853.9,964.4 L1855.4,962.7 L1856.9,961.0 L1858.4,959.1 L1859.9,957.1 L1861.4,955.0 L1862.9,952.7 L1864.4,950.2 L1865.9,947.6 L1867.4,944.8 L1868.9,941.9 L1870.3,938.9 L1871.8,935.7 L1873.3,932.5 L1874.8,929.2 L1876.3,925.8 L1877.8,922.4 L1879.3,919.0 L1880.8,915.6 L1882.3,912.2 L1883.8,908.9 L1885.3,905.7 L1886.8,902.5 L1888.3,899.3 L1889.8,896.2 L1891.3,893.1 L1892.8,890.0 L1894.3,886.9 L1895.7,883.8 L1897.2,880.7 L1898.7,877.6 L1900.2,874.4 L1901.7,871.2 L1903.2,868.0 L1904.7,864.8 L1906.2,861.5 L1907.7,858.3 L1909.2,855.0 L1910.7,851.7 L1912.2,848.5 L1913.7,845.2 L1915.2,841.9 L1916.7,838.6 L1918.2,835.2 L1919.6,831.9 L1921.1,828.6 L1922.6,825.3 L1924.1,822.1 L1925.6,818.8 L1927.1,815.5 L1928.6,812.2 L1930.1,808.9 L1931.6,805.6 L1933.1,802.3 L1934.6,799.0 L1936.1,795.6 L1937.6,792.3 L1939.1,788.9 L1940.6,785.5 L1942.1,782.1 L1943.6,778.7 L1945.0,775.3 L1946.5,771.9 L1948.0,768.5 L1949.5,765.0 L1951.0,761.6 L1952.5,758.2 L1954.0,754.8 L1955.5,751.4 L1957.0,748.1 L1958.5,744.7 L1960.0,741.3 L1961.5,737.9 L1963.0,734.5 L1964.5,731.2 L1966.0,727.8 L1967.5,724.4 L1969.0,721.0 L1970.4,717.7 L1971.9,714.3 L1973.4,711.0 L1974.9,707.6 L1976.4,704.3 L1977.9,700.9 L1979.4,697.6 L1980.9,694.2 L1982.4,690.9 L1983.9,687.6 L1985.4,684.3 L1986.9,680.9 L1988.4,677.6 L1989.9,674.3 L1991.4,671.0 L1992.9,667.7 L1994.3,664.4 L1995.8,661.0 L1997.3,657.7 L1998.8,654.4 L2000.3,651.2 L2001.8,647.9 L2003.3,644.6 L2004.8,641.3 L2006.3,638.0 L2007.8,634.7 L2009.3,631.5 L2010.8,628.2 L2012.3,624.9 L2013.8,621.6 L2015.3,618.4 L2016.8,615.1 L2018.3,611.9 L2019.7,608.6 L2021.2,605.4 L2022.7,602.1 L2024.2,598.9 L2025.7,595.6 L2027.2,592.4 L2028.7,589.2 L2030.2,585.9 L2031.7,582.7 L2033.2,579.5 L2034.7,576.3 L2036.2,573.1 L2037.7,569.8 L2039.2,566.6 L2040.7,563.4 L2042.2,560.2 L2043.7,557.0 L2045.1,553.8 L2046.6,550.6 L2048.1,547.4 L2049.6,544.3 L2051.1,541.1 L2052.6,537.9 L2054.1,534.7 L2055.6,531.6 L2057.1,528.4 L2058.6,525.2 L2060.1,522.1 L2061.6,518.9 L2063.1,515.7 L2064.6,512.6 L2066.1,509.4 L2067.6,506.3 L2069.0,503.1 L2070.5,500.0 L2072.0,496.9 L2073.5,493.7 L2075.0,490.6 L2076.5,487.5 L2078.0,484.4 L2079.5,481.2 L2081.0,478.1" stroke="#000000"/>
<path d="M1334.0,1019.0 L1335.5,1018.9 L1337.0,1018.9 L1338.5,1018.8 L1340.0,1018.7 L1341.5,1018.6 L1343.0,1018.5 L1344.5,1018.4 L1346.0,1018.3 L1347.4,1018.2 L1348.9,1018.1 L1350.4,1018.0 L1351.9,1017.8 L1353.4,1017.7 L1354.9,1017.6 L1356.4,1017.4 L1357.9,1017.2 L1359.4,1017.1 L1360.9,1016.9 L1362.4,1016.7 L1363.9,1016.4 L1365.4,1016.1 L1366.9,1015.7 L1368.4,1015.3 L1369.9,1014.7 L1371.4,1014.1 L1372.8,1013.5 L1374.3,1012.8 L1375.8,1011.9 L1377.3,1011.0 L1378.8,1009.9 L1380.3,1008.8 L1381.8,1007.6 L1383.3,1006.4 L1384.8,1005.2 L1386.3,1003.9 L1387.8,1002.7 L1389.3,1001.5 L1390.8,1000.4 L1392.3,999.3 L1393.8,998.3 L1395.3,997.3 L1396.7,996.4 L1398.2,995.5 L1399.7,994.7 L1401.2,993.9 L1402.7,993.2 L1404.2,992.6 L1405.7,992.0 L1407.2,991.5 L1408.7,991.0 L1410.2,990.6 L1411.7,990.2 L1413.2,989.8 L1414.7,989.5 L1416.2,989.3 L1417.7,989.0 L1419.2,988.8 L1420.7,988.6 L1422.1,988.4 L1423.6,988.2 L1425.1,988.1 L1426.6,988.1 L1428.1,988.0 L1429.6,988.0 L1431.1,988.0 L1432.6,987.9 L1434.1,987.9 L1435.6,987.9 L1437.1,987.9 L1438.6,987.8 L1440.1,987.8 L1441.6,987.8 L1443.1,987.8 L1444.6,987.8 L1446.1,987.8 L1447.5,987.8 L1449.0,987.8 L1450.5,987.8 L1452.0,987.8 L1453.5,987.8 L1455.0,987.8 L1456.5,987.8 L1458.0,987.8 L1459.5,987.8 L1461.0,987.8 L1462.5,987.8 L1464.0,987.8 L1465.5,987.8 L1467.0,987.8 L1468.5,987.8 L1470.0,987.8 L1471.4,987.8 L1472.9,987.7 L1474.4,987.7 L1475.9,987.7 L1477.4,987.7 L1478.9,987.7 L1480.4,987.7 L1481.9,987.7 L1483.4,987.7 L1484.9,987.7 L1486.4,987.7 L1487.9,987.7 L1489.4,987.7 L1490.9,987.7 L1492.4,987.7 L1493.9,987.7 L1495.4,987.7 L1496.8,987.7 L1498.3,987.7 L1499.8,987.7 L1501.3,987.7 L1502.8,987.7 L1504.3,987.7 L1505.8,987.7 L1507.3,987.7 L1508.8,987.7 L1510.3,987.7 L1511.8,987.7 L1513.3,987.7 L1514.8,987.7 L1516.3,987.7 L1517.8,987.7 L1519.3,987.7 L1520.8,987.7 L1522.2,987.7 L1523.7,987.7 L1525.2,987.7 L1526.7,987.7 L1528.2,987.7 L1529.7,987.7 L1531.2,987.7 L1532.7,987.7 L1534.2,987.7 L1535.7,987.7 L1537.2,987.7 L1538.7,987.6 L1540.2,987.6 L1541.7,987.6 L1543.2,987.6 L1544.7,987.6 L1546.1,987.6 L1547.6,987.6 L1549.1,987.6 L1550.6,987.6 L1552.1,987.6 L1553.6,987.6 L1555.1,987.6 L1556.6,987.6 L1558.1,987.6 L1559.6,987.6 L1561.1,987.6 L1562.6,987.6 L1564.1,987.6 L1565.6,987.6 L1567.1,987.6 L1568.6,987.6 L1570.1,987.6 L1571.5,987.6 L1573.0,987.6 L1574.5,987.6 L1576.0,987.6 L1577.5,987.6 L1579.0,987.5 L1580.5,987.5 L1582.0,987.5 L1583.5,987.5 L1585.0,987.5 L1586.5,987.5 L1588.0,987.5 L1589.5,987.5 L1591.0,987.5 L1592.5,987.5 L1594.0,987.5 L1595.5,987.5 L1596.9,987.5 L1598.4,987.5 L1599.9,987.5 L1601.4,987.5 L1602.9,987.5 L1604.4,987.5 L1605.9,987.5 L1607.4,987.5 L1608.9,987.4 L1610.4,987.4 L1611.9,987.4 L1613.4,987.4 L1614.9,987.4 L1616.4,987.4 L1617.9,987.4 L1619.4,987.4 L1620.8,987.4 L1622.3,987.4 L1623.8,987.4 L1625.3,987.4 L1626.8,987.4 L1628.3,987.4 L1629.8,987.3 L1631.3,987.3 L1632.8,987.3 L1634.3,987.3 L1635.8,987.3 L1637.3,987.3 L1638.8,987.3 L1640.3,987.3 L1641.8,987.3 L1643.3,987.3 L1644.8,987.3 L1646.2,987.2 L1647.7,987.2 L1649.2,987.2 L1650.7,987.2 L1652.2,987.2 L1653.7,987.2 L1655.2,987.2 L1656.7,987.2 L1658.2,987.2 L1659.7,987.2 L1661.2,987.1 L1662.7,987.1 L1664.2,987.1 L1665.7,987.1 L1667.2,987.1 L1668.7,987.1 L1670.2,987.1 L1671.6,987.1 L1673.1,987.0 L1674.6,987.0 L1676.1,987.0 L1677.6,987.0 L1679.1,987.0 L1680.6,987.0 L1682.1,987.0 L1683.6,986.9 L1685.1,986.9 L1686.6,986.9 L1688.1,986.9 L1689.6,986.9 L1691.1,986.9 L1692.6,986.8 L1694.1,986.8 L1695.5,986.8 L1697.0,986.8 L1698.5,986.7 L1700.0,986.7 L1701.5,986.6 L1703.0,986.6 L1704.5,986.5 L1706.0,986.4 L1707.5,986.3 L1709.0,986.2 L1710.5,986.1 L1712.0,986.0 L1713.5,985.8 L1715.0,985.7 L1716.5,985.5 L1718.0,985.3 L1719.5,985.2 L1720.9,985.0 L1722.4,984.8 L1723.9,984.6 L1725.4,984.4 L1726.9,984.2 L1728.4,984.0 L1729.9,983.8 L1731.4,983.6 L1732.9,983.4 L1734.4,983.2 L1735.9,983.0 L1737.4,982.8 L1738.9,982.6 L1740.4,982.4 L1741.9,982.2 L1743.4,982.0 L1744.9,981.8 L1746.3,981.6 L1747.8,981.4 L1749.3,981.2 L1750.8,981.0 L1752.3,980.8 L1753.8,980.6 L1755.3,980.4 L1756.8,980.2 L1758.3,980.0 L1759.8,979.8 L1761.3,979.6 L1762.8,979.4 L1764.3,979.2 L1765.8,979.0 L1767.3,978.8 L1768.8,978.5 L1770.2,978.3 L1771.7,978.1 L1773.2,977.9 L1774.7,977.6 L1776.2,977.4 L1777.7,977.2 L1779.2,976.9 L1780.7,976.7 L1782.2,976.4 L1783.7,976.2 L1785.2,975.9 L1786.7,975.6 L1788.2,975.3 L1789.7,975.0 L1791.2,974.7 L1792.7,974.3 L1794.2,973.9 L1795.6,973.5 L1797.1,973.1 L1798.6,972.7 L1800.1,972.3 L1801.6,971.9 L1803.1,971.5 L1804.6,971.0 L1806.1,970.6 L1807.6,970.3 L1809.1,969.9 L1810.6,969.6 L1812.1,969.3 L1813.6,969.0 L1815.1,968.8 L1816.6,968.6 L1818.1,968.5 L1819.6,968.5 L1821.0,968.6 L1822.5,968.7 L1824.0,968.9 L1825.5,969.0 L1827.0,969.4 L1828.5,969.6 L1830.0,969.7 L1831.5,969.5 L1833.0,969.1 L1834.5,968.6 L1836.0,967.8 L1837.5,967.0 L1839.0,966.1 L1840.5,965.1 L1842.0,964.2 L1843.5,963.2 L1844.9,962.2 L1846.4,961.1 L1847.9,960.0 L1849.4,958.8 L1850.9,957.5 L1852.4,956.1 L1853.9,954.6 L1855.4,953.1 L1856.9,951.4 L1858.4,949.6 L1859.9,947.7 L1861.4,945.7 L1862.9,943.7 L1864.4,941.5 L1865.9,939.2 L1867.4,936.7 L1868.9,934.2 L1870.3,931.6 L1871.8,929.0 L1873.3,926.2 L1874.8,923.4 L1876.3,920.5 L1877.8,917.5 L1879.3,914.5 L1880.8,911.5 L1882.3,908.3 L1883.8,905.2 L1885.3,902.0 L1886.8,898.8 L1888.3,895.7 L1889.8,892.6 L1891.3,889.5 L1892.8,886.5 L1894.3,883.4 L1895.7,880.3 L1897.2,877.2 L1898.7,874.0 L1900.2,870.7 L1901.7,867.4 L1903.2,864.1 L1904.7,860.7 L1906.2,857.4 L1907.7,854.0 L1909.2,850.5 L1910.7,847.1 L1912.2,843.6 L1913.7,840.1 L1915.2,836.6 L1916.7,833.0 L1918.2,829.5 L1919.6,825.9 L1921.1,822.3 L1922.6,818.7 L1924.1,815.1 L1925.6,811.5 L1927.1,807.8 L1928.6,804.2 L1930.1,800.6 L1931.6,797.0 L1933.1,793.4 L1934.6,789.9 L1936.1,786.4 L1937.6,782.9 L1939.1,779.5 L1940.6,776.0 L1942.1,772.6 L1943.6,769.1 L1945.0,765.7 L1946.5,762.3 L1948.0,758.8 L1949.5,755.4 L1951.0,752.0 L1952.5,748.5 L1954.0,745.1 L1955.5,741.6 L1957.0,738.2 L1958.5,734.8 L1960.0,731.3 L1961.5,727.9 L1963.0,724.4 L1964.5,721.0 L1966.0,717.6 L1967.5,714.1 L1969.0,710.7 L1970.4,707.2 L1971.9,703.8 L1973.4,700.3 L1974.9,696.9 L1976.4,693.4 L1977.9,690.0 L1979.4,686.5 L1980.9,683.1 L1982.4,679.6 L1983.9,676.1 L1985.4,672.7 L1986.9,669.2 L1988.4,665.8 L1989.9,662.3 L1991.4,658.9 L1992.9,655.4 L1994.3,651.9 L1995.8,648.5 L1997.3,645.0 L1998.8,641.5 L2000.3,638.1 L2001.8,634.6 L2003.3,631.1 L2004.8,627.7 L2006.3,624.2 L2007.8,620.7 L2009.3,617.2 L2010.8,613.8 L2012.3,610.3 L2013.8,606.8 L2015.3,603.3 L2016.8,599.9 L2018.3,596.4 L2019.7,592.9 L2021.2,589.4 L2022.7,585.9 L2024.2,582.5 L2025.7,579.0 L2027.2,575.5 L2028.7,572.0 L2030.2,568.5 L2031.7,565.0 L2033.2,561.5 L2034.7,558.0 L2036.2,554.6 L2037.7,551.1 L2039.2,547.6 L2040.7,544.1 L2042.2,540.6 L2043.7,537.1 L2045.1,533.6 L2046.6,530.1 L2048.1,526.6 L2049.6,523.1 L2051.1,519.6 L2052.6,516.1 L2054.1,512.6 L2055.6,509.1 L2057.1,505.6 L2058.6,502.1 L2060.1,498.6 L2061.6,495.1 L2063.1,491.5 L2064.6,488.0 L2066.1,484.5 L2067.6,481.0 L2069.0,477.5 L2070.5,474.0 L2072.0,470.5 L2073.5,467.0 L2075.0,463.4 L2076.5,459.9 L2078.0,456.4 L2079.5,452.9 L2081.0,449.4" stroke="#ff0000"/>
<path d="M1334.0,1019.0 L1335.5,1018.9 L1337.0,1018.9 L1338.5,1018.8 L1340.0,1018.7 L1341.5,1018.6 L1343.0,1018.5 L1344.5,1018.3 L1346.0,1018.2 L1347.4,1018.1 L1348.9,1018.0 L1350.4,1017.8 L1351.9,1017.7 L1353.4,1017.5 L1354.9,1017.4 L1356.4,1017.2 L1357.9,1017.1 L1359.4,1016.9 L1360.9,1016.7 L1362.4,1016.4 L1363.9,1016.1 L1365.4,1015.7 L1366.9,1015.3 L1368.4,1014.7 L1369.9,1014.1 L1371.4,1013.5 L1372.8,1012.8 L1374.3,1011.9 L1375.8,1011.0 L1377.3,1009.9 L1378.8,1008.8 L1380.3,1007.6 L1381.8,1006.4 L1383.3,1005.2 L1384.8,1003.9 L1386.3,1002.7 L1387.8,1001.5 L1389.3,1000.4 L1390.8,999.3 L1392.3,998.3 L1393.8,997.3 L1395.3,996.4 L1396.7,995.5 L1398.2,994.7 L1399.7,993.9 L1401.2,993.2 L1402.7,992.6 L1404.2,992.0 L1405.7,991.5 L1407.2,991.0 L1408.7,990.6 L1410.2,990.2 L1411.7,989.8 L1413.2,989.5 L1414.7,989.3 L1416.2,989.0 L1417.7,988.8 L1419.2,988.6 L1420.7,988.4 L1422.1,988.2 L1423.6,988.1 L1425.1,988.1 L1426.6,988.0 L1428.1,988.0 L1429.6,988.0 L1431.1,987.9 L1432.6,987.9 L1434.1,987.9 L1435.6,987.9 L1437.1,987.8 L1438.6,987.8 L1440.1,987.8 L1441.6,987.8 L1443.1,987.8 L1444.6,987.8 L1446.1,987.8 L1447.5,987.8 L1449.0,987.8 L1450.5,987.8 L1452.0,987.8 L1453.5,987.8 L1455.0,987.7 L1456.5,987.7 L1458.0,987.7 L1459.5,987.7 L1461.0,987.7 L1462.5,987.7 L1464.0,987.7 L1465.5,987.7 L1467.0,987.7 L1468.5,987.7 L1470.0,987.7 L1471.4,987.7 L1472.9,987.7 L1474.4,987.7 L1475.9,987.7 L1477.4,987.7 L1478.9,987.7 L1480.4,987.7 L1481.9,987.7 L1483.4,987.7 L1484.9,987.7 L1486.4,987.7 L1487.9,987.7 L1489.4,987.7 L1490.9,987.6 L1492.4,987.6 L1493.9,987.6 L1495.4,987.6 L1496.8,987.6 L1498.3,987.6 L1499.8,987.6 L1501.3,987.6 L1502.8,987.6 L1504.3,987.6 L1505.8,987.6 L1507.3,987.6 L1508.8,987.6 L1510.3,987.6 L1511.8,987.6 L1513.3,987.6 L1514.8,987.6 L1516.3,987.6 L1517.8,987.6 L1519.3,987.6 L1520.8,987.6 L1522.2,987.5 L1523.7,987.5 L1525.2,987.5 L1526.7,987.5 L1528.2,987.5 L1529.7,987.5 L1531.2,987.5 L1532.7,987.5 L1534.2,987.5 L1535.7,987.5 L1537.2,987.5 L1538.7,987.5 L1540.2,987.5 L1541.7,987.5 L1543.2,987.5 L1544.7,987.5 L1546.1,987.4 L1547.6,987.4 L1549.1,987.4 L1550.6,987.4 L1552.1,987.4 L1553.6,987.4 L1555.1,987.4 L1556.6,987.4 L1558.1,987.4 L1559.6,987.4 L1561.1,987.4 L1562.6,987.4 L1564.1,987.4 L1565.6,987.4 L1567.1,987.3 L1568.6,987.3 L1570.1,987.3 L1571.5,987.3 L1573.0,987.3 L1574.5,987.3 L1576.0,987.3 L1577.5,987.3 L1579.0,987.3 L1580.5,987.3 L1582.0,987.3 L1583.5,987.3 L1585.0,987.3 L1586.5,987.2 L1588.0,987.2 L1589.5,987.2 L1591.0,987.2 L1592.5,987.2 L1594.0,987.2 L1595.5,987.2 L1596.9,987.2 L1598.4,987.2 L1599.9,987.2 L1601.4,987.2 L1602.9,987.1 L1604.4,987.1 L1605.9,987.1 L1607.4,987.1 L1608.9,987.1 L1610.4,987.1 L1611.9,987.1 L1613.4,987.1 L1614.9,987.0 L1616.4,987.0 L1617.9,987.0 L1619.4,987.0 L1620.8,987.0 L1622.3,987.0 L1623.8,987.0 L1625.3,987.0 L1626.8,986.9 L1628.3,986.9 L1629.8,986.9 L1631.3,986.9 L1632.8,986.9 L1634.3,986.9 L1635.8,986.9 L1637.3,986.8 L1638.8,986.8 L1640.3,986.8 L1641.8,986.8 L1643.3,986.8 L1644.8,986.8 L1646.2,986.7 L1647.7,986.7 L1649.2,986.7 L1650.7,986.7 L1652.2,986.7 L1653.7,986.6 L1655.2,986.6 L1656.7,986.6 L1658.2,986.6 L1659.7,986.6 L1661.2,986.5 L1662.7,986.5 L1664.2,986.5 L1665.7,986.5 L1667.2,986.5 L1668.7,986.4 L1670.2,986.4 L1671.6,986.4 L1673.1,986.4 L1674.6,986.3 L1676.1,986.3 L1677.6,986.3 L1679.1,986.3 L1680.6,986.2 L1682.1,986.2 L1683.6,986.2 L1685.1,986.2 L1686.6,986.1 L1688.1,986.1 L1689.6,986.1 L1691.1,986.0 L1692.6,986.0 L1694.1,986.0 L1695.5,985.9 L1697.0,985.9 L1698.5,985.9 L1700.0,985.8 L1701.5,985.7 L1703.0,985.7 L1704.5,985.6 L1706.0,985.5 L1707.5,985.3 L1709.0,985.2 L1710.5,985.1 L1712.0,984.9 L1713.5,984.7 L1715.0,984.6 L1716.5,984.4 L1718.0,984.2 L1719.5,984.0 L1720.9,983.8 L1722.4,983.6 L1723.9,983.3 L1725.4,983.1 L1726.9,982.9 L1728.4,982.7 L1729.9,982.4 L1731.4,982.2 L1732.9,982.0 L1734.4,981.7 L1735.9,981.5 L1737.4,981.3 L1738.9,981.1 L1740.4,980.9 L1741.9,980.6 L1743.4,980.4 L1744.9,980.2 L1746.3,980.0 L1747.8,979.8 L1749.3,979.6 L1750.8,979.4 L1752.3,979.2 L1753.8,979.0 L1755.3,978.8 L1756.8,978.6 L1758.3,978.4 L1759.8,978.2 L1761.3,978.0 L1762.8,977.7 L1764.3,977.5 L1765.8,977.3 L1767.3,977.1 L1768.8,976.9 L1770.2,976.6 L1771.7,976.4 L1773.2,976.2 L1774.7,975.9 L1776.2,975.7 L1777.7,975.5 L1779.2,975.2 L1780.7,975.0 L1782.2,974.7 L1783.7,974.4 L1785.2,974.2 L1786.7,973.9 L1788.2,973.6 L1789.7,973.3 L1791.2,972.9 L1792.7,972.6 L1794.2,972.2 L1795.6,971.9 L1797.1,971.5 L1798.6,971.1 L1800.1,970.7 L1801.6,970.3 L1803.1,969.9 L1804.6,969.5 L1806.1,969.1 L1807.6,968.7 L1809.1,968.3 L1810.6,967.9 L1812.1,967.6 L1813.6,967.2 L1815.1,966.9 L1816.6,966.6 L1818.1,966.4 L1819.6,966.1 L1821.0,965.9 L1822.5,965.7 L1824.0,965.6 L1825.5,965.4 L1827.0,965.2 L1828.5,965.0 L1830.0,964.8 L1831.5,964.4 L1833.0,963.9 L1834.5,963.3 L1836.0,962.7 L1837.5,961.9 L1839.0,961.1 L1840.5,960.3 L1842.0,959.4 L1843.5,958.5 L1844.9,957.5 L1846.4,956.5 L1847.9,955.5 L1849.4,954.3 L1850.9,953.1 L1852.4,951.9 L1853.9,950.5 L1855.4,949.1 L1856.9,947.6 L1858.4,946.0 L1859.9,944.4 L1861.4,942.6 L1862.9,940.8 L1864.4,938.8 L1865.9,936.7 L1867.4,934.5 L1868.9,932.1 L1870.3,929.5 L1871.8,926.8 L1873.3,924.0 L1874.8,921.1 L1876.3,918.2 L1877.8,915.3 L1879.3,912.4 L1880.8,909.4 L1882.3,906.4 L1883.8,903.4 L1885.3,900.3 L1886.8,897.1 L1888.3,894.0 L1889.8,890.7 L1891.3,887.4 L1892.8,884.1 L1894.3,880.8 L1895.7,877.4 L1897.2,874.0 L1898.7,870.5 L1900.2,867.1 L1901.7,863.6 L1903.2,860.0 L1904.7,856.5 L1906.2,853.0 L1907.7,849.4 L1909.2,845.8 L1910.7,842.2 L1912.2,838.6 L1913.7,835.0 L1915.2,831.4 L1916.7,827.8 L1918.2,824.2 L1919.6,820.5 L1921.1,816.8 L1922.6,813.1 L1924.1,809.4 L1925.6,805.7 L1927.1,802.0 L1928.6,798.4 L1930.1,794.7 L1931.6,791.1 L1933.1,787.6 L1934.6,784.1 L1936.1,780.7 L1937.6,777.3 L1939.1,774.0 L1940.6,770.7 L1942.1,767.4 L1943.6,764.1 L1945.0,760.8 L1946.5,757.5 L1948.0,754.2 L1949.5,750.9 L1951.0,747.6 L1952.5,744.3 L1954.0,741.0 L1955.5,737.7 L1957.0,734.4 L1958.5,731.1 L1960.0,727.8 L1961.5,724.5 L1963.0,721.2 L1964.5,717.9 L1966.0,714.6 L1967.5,711.3 L1969.0,708.0 L1970.4,704.7 L1971.9,701.3 L1973.4,698.0 L1974.9,694.7 L1976.4,691.4 L1977.9,688.1 L1979.4,684.8 L1980.9,681.4 L1982.4,678.1 L1983.9,674.8 L1985.4,671.5 L1986.9,668.2 L1988.4,664.8 L1989.9,661.5 L1991.4,658.2 L1992.9,654.9 L1994.3,651.5 L1995.8,648.2 L1997.3,644.9 L1998.8,641.5 L2000.3,638.2 L2001.8,634.9 L2003.3,631.5 L2004.8,628.2 L2006.3,624.8 L2007.8,621.5 L2009.3,618.2 L2010.8,614.8 L2012.3,611.5 L2013.8,608.1 L2015.3,604.8 L2016.8,601.4 L2018.3,598.1 L2019.7,594.7 L2021.2,591.4 L2022.7,588.0 L2024.2,584.7 L2025.7,581.3 L2027.2,578.0 L2028.7,574.6 L2030.2,571.2 L2031.7,567.9 L2033.2,564.5 L2034.7,561.2 L2036.2,557.8 L2037.7,554.4 L2039.2,551.1 L2040.7,547.7 L2042.2,544.3 L2043.7,541.0 L2045.1,537.6 L2046.6,534.2 L2048.1,530.8 L2049.6,527.5 L2051.1,524.1 L2052.6,520.7 L2054.1,517.3 L2055.6,514.0 L2057.1,510.6 L2058.6,507.2 L2060.1,503.8 L2061.6,500.4 L2063.1,497.0 L2064.6,493.7 L2066.1,490.3 L2067.6,486.9 L2069.0,483.5 L2070.5,480.1 L2072.0,476.7 L2073.5,473.3 L2075.0,469.9 L2076.5,466.5 L2078.0,463.1 L2079.5,459.7 L2081.0,456.3" stroke="#00ff00"/>
<path d="M1334.0,1019.0 L1335.5,1018.9 L1337.0,1018.8 L1338.5,1018.7 L1340.0,1018.6 L1341.5,1018.5 L1343.0,1018.4 L1344.5,1018.2 L1346.0,1018.1 L1347.4,1018.0 L1348.9,1017.8 L1350.4,1017.7 L1351.9,1017.5 L1353.4,1017.4 L1354.9,1017.2 L1356.4,1017.1 L1357.9,1016.9 L1359.4,1016.6 L1360.9,1016.4 L1362.4,1016.1 L1363.9,1015.7 L1365.4,1015.3 L1366.9,1014.7 L1368.4,1014.1 L1369.9,1013.5 L1371.4,1012.8 L1372.8,1011.9 L1374.3,1011.0 L1375.8,1009.9 L1377.3,1008.8 L1378.8,1007.6 L1380.3,1006.4 L1381.8,1005.2 L1383.3,1003.9 L1384.8,1002.7 L1386.3,1001.5 L1387.8,1000.4 L1389.3,999.3 L1390.8,998.3 L1392.3,997.3 L1393.8,996.4 L1395.3,995.5 L1396.7,994.7 L1398.2,993.9 L1399.7,993.2 L1401.2,992.6 L1402.7,992.0 L1404.2,991.5 L1405.7,991.0 L1407.2,990.6 L1408.7,990.2 L1410.2,989.8 L1411.7,989.5 L1413.2,989.3 L1414.7,989.0 L1416.2,988.8 L1417.7,988.6 L1419.2,988.4 L1420.7,988.2 L1422.1,988.1 L1423.6,988.1 L1425.1,988.0 L1426.6,988.0 L1428.1,988.0 L1429.6,987.9 L1431.1,987.9 L1432.6,987.9 L1434.1,987.9 L1435.6,987.8 L1437.1,987.8 L1438.6,987.8 L1440.1,987.8 L1441.6,987.8 L1443.1,987.8 L1444.6,987.8 L1446.1,987.8 L1447.5,987.8 L1449.0,987.8 L1450.5,987.8 L1452.0,987.8 L1453.5,987.8 L1455.0,987.8 L1456.5,987.8 L1458.0,987.8 L1459.5,987.8 L1461.0,987.8 L1462.5,987.8 L1464.0,987.8 L1465.5,987.8 L1467.0,987.8 L1468.5,987.8 L1470.0,987.8 L1471.4,987.7 L1472.9,987.7 L1474.4,987.7 L1475.9,987.7 L1477.4,987.7 L1478.9,987.7 L1480.4,987.7 L1481.9,987.7 L1483.4,987.7 L1484.9,987.7 L1486.4,987.7 L1487.9,987.7 L1489.4,987.7 L1490.9,987.7 L1492.4,987.7 L1493.9,987.7 L1495.4,987.7 L1496.8,987.7 L1498.3,987.7 L1499.8,987.7 L1501.3,987.7 L1502.8,987.7 L1504.3,987.7 L1505.8,987.7 L1507.3,987.7 L1508.8,987.7 L1510.3,987.7 L1511.8,987.7 L1513.3,987.7 L1514.8,987.7 L1516.3,987.7 L1517.8,987.7 L1519.3,987.7 L1520.8,987.7 L1522.2,987.7 L1523.7,987.7 L1525.2,987.7 L1526.7,987.7 L1528.2,987.7 L1529.7,987.7 L1531.2,987.7 L1532.7,987.7 L1534.2,987.7 L1535.7,987.7 L1537.2,987.7 L1538.7,987.6 L1540.2,987.6 L1541.7,987.6 L1543.2,987.6 L1544.7,987.6 L1546.1,987.6 L1547.6,987.6 L1549.1,987.6 L1550.6,987.6 L1552.1,987.6 L1553.6,987.6 L1555.1,987.6 L1556.6,987.6 L1558.1,987.6 L1559.6,987.6 L1561.1,987.6 L1562.6,987.6 L1564.1,987.6 L1565.6,987.6 L1567.1,987.6 L1568.6,987.6 L1570.1,987.6 L1571.5,987.6 L1573.0,987.6 L1574.5,987.6 L1576.0,987.6 L1577.5,987.6 L1579.0,987.6 L1580.5,987.5 L1582.0,987.5 L1583.5,987.5 L1585.0,987.5 L1586.5,987.5 L1588.0,987.5 L1589.5,987.5 L1591.0,987.5 L1592.5,987.5 L1594.0,987.5 L1595.5,987.5 L1596.9,987.5 L1598.4,987.5 L1599.9,987.5 L1601.4,987.5 L1602.9,987.5 L1604.4,987.5 L1605.9,987.5 L1607.4,987.5 L1608.9,987.4 L1610.4,987.4 L1611.9,987.4 L1613.4,987.4 L1614.9,987.4 L1616.4,987.4 L1617.9,987.4 L1619.4,987.4 L1620.8,987.4 L1622.3,987.4 L1623.8,987.4 L1625.3,987.4 L1626.8,987.4 L1628.3,987.4 L1629.8,987.3 L1631.3,987.3 L1632.8,987.3 L1634.3,987.3 L1635.8,987.3 L1637.3,987.3 L1638.8,987.3 L1640.3,987.3 L1641.8,987.3 L1643.3,987.3 L1644.8,987.3 L1646.2,987.3 L1647.7,987.2 L1649.2,987.2 L1650.7,987.2 L1652.2,987.2 L1653.7,987.2 L1655.2,987.2 L1656.7,987.2 L1658.2,987.2 L1659.7,987.2 L1661.2,987.1 L1662.7,987.1 L1664.2,987.1 L1665.7,987.1 L1667.2,987.1 L1668.7,987.1 L1670.2,987.1 L1671.6,987.1 L1673.1,987.0 L1674.6,987.0 L1676.1,987.0 L1677.6,987.0 L1679.1,987.0 L1680.6,987.0 L1682.1,987.0 L1683.6,986.9 L1685.1,986.9 L1686.6,986.9 L1688.1,986.9 L1689.6,986.9 L1691.1,986.9 L1692.6,986.8 L1694.1,986.8 L1695.5,986.8 L1697.0,986.8 L1698.5,986.7 L1700.0,986.7 L1701.5,986.6 L1703.0,986.6 L1704.5,986.5 L1706.0,986.4 L1707.5,986.3 L1709.0,986.2 L1710.5,986.1 L1712.0,986.0 L1713.5,985.8 L1715.0,985.7 L1716.5,985.5 L1718.0,985.3 L1719.5,985.2 L1720.9,985.0 L1722.4,984.8 L1723.9,984.6 L1725.4,984.4 L1726.9,984.2 L1728.4,984.0 L1729.9,983.8 L1731.4,983.6 L1732.9,983.4 L1734.4,983.2 L1735.9,983.0 L1737.4,982.8 L1738.9,982.6 L1740.4,982.4 L1741.9,982.2 L1743.4,982.0 L1744.9,981.8 L1746.3,981.6 L1747.8,981.4 L1749.3,981.2 L1750.8,981.0 L1752.3,980.8 L1753.8,980.6 L1755.3,980.4 L1756.8,980.2 L1758.3,980.0 L1759.8,979.8 L1761.3,979.6 L1762.8,979.4 L1764.3,979.2 L1765.8,979.0 L1767.3,978.8 L1768.8,978.5 L1770.2,978.3 L1771.7,978.1 L1773.2,977.9 L1774.7,977.6 L1776.2,977.4 L1777.7,977.2 L1779.2,976.9 L1780.7,976.7 L1782.2,976.4 L1783.7,976.2 L1785.2,975.9 L1786.7,975.6 L1788.2,975.3 L1789.7,975.0 L1791.2,974.7 L1792.7,974.3 L1794.2,973.9 L1795.6,973.6 L1797.1,973.2 L1798.6,972.7 L1800.1,972.3 L1801.6,971.9 L1803.1,971.5 L1804.6,971.1 L1806.1,970.7 L1807.6,970.3 L1809.1,969.9 L1810.6,969.6 L1812.1,969.3 L1813.6,969.0 L1815.1,968.8 L1816.6,968.6 L1818.1,968.4 L1819.6,968.3 L1821.0,968.2 L1822.5,968.1 L1824.0,968.0 L1825.5,968.0 L1827.0,968.0 L1828.5,967.9 L1830.0,967.8 L1831.5,967.5 L1833.0,967.2 L1834.5,966.7 L1836.0,966.0 L1837.5,965.3 L1839.0,964.6 L1840.5,963.8 L1842.0,962.9 L1843.5,962.0 L1844.9,961.1 L1846.4,960.0 L1847.9,958.9 L1849.4,957.8 L1850.9,956.5 L1852.4,955.2 L1853.9,953.8 L1855.4,952.3 L1856.9,950.7 L1858.4,949.0 L1859.9,947.2 L1861.4,945.3 L1862.9,943.3 L1864.4,941.1 L1865.9,938.9 L1867.4,936.5 L1868.9,934.1 L1870.3,931.5 L1871.8,928.9 L1873.3,926.2 L1874.8,923.4 L1876.3,920.5 L1877.8,917.6 L1879.3,914.5 L1880.8,911.5 L1882.3,908.3 L1883.8,905.2 L1885.3,902.0 L1886.8,898.8 L1888.3,895.7 L1889.8,892.6 L1891.3,889.5 L1892.8,886.5 L1894.3,883.4 L1895.7,880.3 L1897.2,877.2 L1898.7,874.0 L1900.2,870.7 L1901.7,867.5 L1903.2,864.1 L1904.7,860.8 L1906.2,857.4 L1907.7,854.0 L1909.2,850.6 L1910.7,847.1 L1912.2,843.7 L1913.7,840.2 L1915.2,836.7 L1916.7,833.2 L1918.2,829.6 L1919.6,826.1 L1921.1,822.5 L1922.6,818.8 L1924.1,815.1 L1925.6,811.4 L1927.1,807.6 L1928.6,803.9 L1930.1,800.3 L1931.6,796.7 L1933.1,793.2 L1934.6,789.8 L1936.1,786.5 L1937.6,783.3 L1939.1,780.1 L1940.6,776.9 L1942.1,773.8 L1943.6,770.8 L1945.0,767.7 L1946.5,764.6 L1948.0,761.6 L1949.5,758.5 L1951.0,755.5 L1952.5,752.4 L1954.0,749.3 L1955.5,746.3 L1957.0,743.2 L1958.5,740.1 L1960.0,737.0 L1961.5,734.0 L1963.0,730.9 L1964.5,727.8 L1966.0,724.7 L1967.5,721.7 L1969.0,718.6 L1970.4,715.5 L1971.9,712.4 L1973.4,709.3 L1974.9,706.2 L1976.4,703.2 L1977.9,700.1 L1979.4,697.0 L1980.9,693.9 L1982.4,690.8 L1983.9,687.7 L1985.4,684.6 L1986.9,681.5 L1988.4,678.4 L1989.9,675.3 L1991.4,672.2 L1992.9,669.1 L1994.3,666.0 L1995.8,662.9 L1997.3,659.7 L1998.8,656.6 L2000.3,653.5 L2001.8,650.4 L2003.3,647.3 L2004.8,644.2 L2006.3,641.0 L2007.8,637.9 L2009.3,634.8 L2010.8,631.7 L2012.3,628.5 L2013.8,625.4 L2015.3,622.3 L2016.8,619.1 L2018.3,616.0 L2019.7,612.9 L2021.2,609.7 L2022.7,606.6 L2024.2,603.5 L2025.7,600.3 L2027.2,597.2 L2028.7,594.0 L2030.2,590.9 L2031.7,587.7 L2033.2,584.6 L2034.7,581.4 L2036.2,578.3 L2037.7,575.1 L2039.2,572.0 L2040.7,568.8 L2042.2,565.6 L2043.7,562.5 L2045.1,559.3 L2046.6,556.1 L2048.1,553.0 L2049.6,549.8 L2051.1,546.6 L2052.6,543.5 L2054.1,540.3 L2055.6,537.1 L2057.1,533.9 L2058.6,530.8 L2060.1,527.6 L2061.6,524.4 L2063.1,521.2 L2064.6,518.0 L2066.1,514.8 L2067.6,511.7 L2069.0,508.5 L2070.5,505.3 L2072.0,502.1 L2073.5,498.9 L2075.0,495.7 L2076.5,492.5 L2078.0,489.3 L2079.5,486.1 L2081.0,482.9" stroke="#0000ff"/>
<path d="M1334.0,1019.0 L1335.5,1018.9 L1337.0,1018.8 L1338.5,1018.7 L1340.0,1018.6 L1341.5,1018.5 L1343.0,1018.4 L1344.5,1018.3 L1346.0,1018.2 L1347.4,1018.0 L1348.9,1017.9 L1350.4,1017.8 L1351.9,1017.6 L1353.4,1017.5 L1354.9,1017.3 L1356.4,1017.2 L1357.9,1017.0 L1359.4,1016.8 L1360.9,1016.5 L1362.4,1016.3 L1363.9,1015.9 L1365.4,1015.5 L1366.9,1015.0 L1368.4,1014.4 L1369.9,1013.8 L1371.4,1013.1 L1372.8,1012.4 L1374.3,1011.5 L1375.8,1010.5 L1377.3,1009.4 L1378.8,1008.2 L1380.3,1007.0 L1381.8,1005.8 L1383.3,1004.5 L1384.8,1003.3 L1386.3,1002.1 L1387.8,1000.9 L1389.3,999.8 L1390.8,998.8 L1392.3,997.8 L1393.8,996.8 L1395.3,995.9 L1396.7,995.1 L1398.2,994.3 L1399.7,993.6 L1401.2,992.9 L1402.7,992.3 L1404.2,991.7 L1405.7,991.2 L1407.2,990.8 L1408.7,990.4 L1410.2,990.0 L1411.7,989.7 L1413.2,989.4 L1414.7,989.1 L1416.2,988.9 L1417.7,988.7 L1419.2,988.5 L1420.7,988.3 L1422.1,988.2 L1423.6,988.1 L1425.1,988.0 L1426.6,988.0 L1428.1,988.0 L1429.6,987.9 L1431.1,987.9 L1432.6,987.9 L1434.1,987.9 L1435.6,987.9 L1437.1,987.8 L1438.6,987.8 L1440.1,987.8 L1441.6,987.8 L1443.1,987.8 L1444.6,987.8 L1446.1,987.8 L1447.5,987.8 L1449.0,987.8 L1450.5,987.8 L1452.0,987.8 L1453.5,987.7 L1455.0,987.7 L1456.5,987.7 L1458.0,987.7 L1459.5,987.7 L1461.0,987.7 L1462.5,987.7 L1464.0,987.7 L1465.5,987.7 L1467.0,987.7 L1468.5,987.7 L1470.0,987.7 L1471.4,987.7 L1472.9,987.7 L1474.4,987.7 L1475.9,987.7 L1477.4,987.7 L1478.9,987.7 L1480.4,987.7 L1481.9,987.7 L1483.4,987.7 L1484.9,987.7 L1486.4,987.7 L1487.9,987.7 L1489.4,987.7 L1490.9,987.6 L1492.4,987.6 L1493.9,987.6 L1495.4,987.6 L1496.8,987.6 L1498.3,987.6 L1499.8,987.6 L1501.3,987.6 L1502.8,987.6 L1504.3,987.6 L1505.8,987.6 L1507.3,987.6 L1508.8,987.6 L1510.3,987.6 L1511.8,987.6 L1513.3,987.6 L1514.8,987.6 L1516.3,987.6 L1517.8,987.6 L1519.3,987.6 L1520.8,987.6 L1522.2,987.5 L1523.7,987.5 L1525.2,987.5 L1526.7,987.5 L1528.2,987.5 L1529.7,987.5 L1531.2,987.5 L1532.7,987.5 L1534.2,987.5 L1535.7,987.5 L1537.2,987.5 L1538.7,987.5 L1540.2,987.5 L1541.7,987.5 L1543.2,987.5 L1544.7,987.5 L1546.1,987.4 L1547.6,987.4 L1549.1,987.4 L1550.6,987.4 L1552.1,987.4 L1553.6,987.4 L1555.1,987.4 L1556.6,987.4 L1558.1,987.4 L1559.6,987.4 L1561.1,987.4 L1562.6,987.4 L1564.1,987.4 L1565.6,987.4 L1567.1,987.3 L1568.6,987.3 L1570.1,987.3 L1571.5,987.3 L1573.0,987.3 L1574.5,987.3 L1576.0,987.3 L1577.5,987.3 L1579.0,987.3 L1580.5,987.3 L1582.0,987.3 L1583.5,987.3 L1585.0,987.3 L1586.5,987.2 L1588.0,987.2 L1589.5,987.2 L1591.0,987.2 L1592.5,987.2 L1594.0,987.2 L1595.5,987.2 L1596.9,987.2 L1598.4,987.2 L1599.9,987.2 L1601.4,987.2 L1602.9,987.1 L1604.4,987.1 L1605.9,987.1 L1607.4,987.1 L1608.9,987.1 L1610.4,987.1 L1611.9,987.1 L1613.4,987.1 L1614.9,987.1 L1616.4,987.0 L1617.9,987.0 L1619.4,987.0 L1620.8,987.0 L1622.3,987.0 L1623.8,987.0 L1625.3,987.0 L1626.8,986.9 L1628.3,986.9 L1629.8,986.9 L1631.3,986.9 L1632.8,986.9 L1634.3,986.9 L1635.8,986.9 L1637.3,986.8 L1638.8,986.8 L1640.3,986.8 L1641.8,986.8 L1643.3,986.8 L1644.8,986.8 L1646.2,986.7 L1647.7,986.7 L1649.2,986.7 L1650.7,986.7 L1652.2,986.7 L1653.7,986.6 L1655.2,986.6 L1656.7,986.6 L1658.2,986.6 L1659.7,986.6 L1661.2,986.5 L1662.7,986.5 L1664.2,986.5 L1665.7,986.5 L1667.2,986.5 L1668.7,986.4 L1670.2,986.4 L1671.6,986.4 L1673.1,986.4 L1674.6,986.3 L1676.1,986.3 L1677.6,986.3 L1679.1,986.3 L1680.6,986.2 L1682.1,986.2 L1683.6,986.2 L1685.1,986.2 L1686.6,986.1 L1688.1,986.1 L1689.6,986.1 L1691.1,986.0 L1692.6,986.0 L1694.1,986.0 L1695.5,985.9 L1697.0,985.9 L1698.5,985.9 L1700.0,985.8 L1701.5,985.7 L1703.0,985.7 L1704.5,985.6 L1706.0,985.5 L1707.5,985.3 L1709.0,985.2 L1710.5,985.1 L1712.0,984.9 L1713.5,984.7 L1715.0,984.6 L1716.5,984.4 L1718.0,984.2 L1719.5,984.0 L1720.9,983.8 L1722.4,983.6 L1723.9,983.3 L1725.4,983.1 L1726.9,982.9 L1728.4,982.7 L1729.9,982.4 L1731.4,982.2 L1732.9,982.0 L1734.4,981.7 L1735.9,981.5 L1737.4,981.3 L1738.9,981.1 L1740.4,980.9 L1741.9,980.6 L1743.4,980.4 L1744.9,980.2 L1746.3,980.0 L1747.8,979.8 L1749.3,979.6 L1750.8,979.4 L1752.3,979.2 L1753.8,979.0 L1755.3,978.8 L1756.8,978.6 L1758.3,978.4 L1759.8,978.2 L1761.3,978.0 L1762.8,977.7 L1764.3,977.5 L1765.8,977.3 L1767.3,977.1 L1768.8,976.9 L1770.2,976.6 L1771.7,976.4 L1773.2,976.2 L1774.7,975.9 L1776.2,975.7 L1777.7,975.5 L1779.2,975.2 L1780.7,975.0 L1782.2,974.7 L1783.7,974.4 L1785.2,974.2 L1786.7,973.9 L1788.2,973.6 L1789.7,973.3 L1791.2,973.0 L1792.7,972.7 L1794.2,972.3 L1795.6,972.0 L1797.1,971.6 L1798.6,971.3 L1800.1,970.9 L1801.6,970.5 L1803.1,970.1 L1804.6,969.8 L1806.1,969.4 L1807.6,969.0 L1809.1,968.6 L1810.6,968.2 L1812.1,967.9 L1813.6,967.5 L1815.1,967.2 L1816.6,966.8 L1818.1,966.5 L1819.6,966.2 L1821.0,965.9 L1822.5,965.6 L1824.0,965.3 L1825.5,965.0 L1827.0,964.8 L1828.5,964.5 L1830.0,964.1 L1831.5,963.7 L1833.0,963.1 L1834.5,962.5 L1836.0,961.8 L1837.5,961.1 L1839.0,960.3 L1840.5,959.4 L1842.0,958.5 L1843.5,957.5 L1844.9,956.5 L1846.4,955.4 L1847.9,954.3 L1849.4,953.1 L1850.9,951.8 L1852.4,950.5 L1853.9,949.1 L1855.4,947.6 L1856.9,946.1 L1858.4,944.4 L1859.9,942.7 L1861.4,940.9 L1862.9,939.0 L1864.4,937.0 L1865.9,934.9 L1867.4,932.6 L1868.9,930.1 L1870.3,927.5 L1871.8,924.8 L1873.3,922.0 L1874.8,919.1 L1876.3,916.2 L1877.8,913.3 L1879.3,910.4 L1880.8,907.3 L1882.3,904.2 L1883.8,900.8 L1885.3,897.3 L1886.8,893.6 L1888.3,889.9 L1889.8,886.1 L1891.3,882.4 L1892.8,878.7 L1894.3,875.0 L1895.7,871.3 L1897.2,867.6 L1898.7,863.9 L1900.2,860.2 L1901.7,856.6 L1903.2,852.9 L1904.7,849.3 L1906.2,845.7 L1907.7,842.0 L1909.2,838.4 L1910.7,834.8 L1912.2,831.2 L1913.7,827.6 L1915.2,824.1 L1916.7,820.5 L1918.2,816.9 L1919.6,813.3 L1921.1,809.8 L1922.6,806.2 L1924.1,802.6 L1925.6,799.1 L1927.1,795.5 L1928.6,792.0 L1930.1,788.4 L1931.6,784.9 L1933.1,781.4 L1934.6,778.0 L1936.1,774.5 L1937.6,771.1 L1939.1,767.6 L1940.6,764.2 L1942.1,760.8 L1943.6,757.4 L1945.0,754.0 L1946.5,750.6 L1948.0,747.1 L1949.5,743.7 L1951.0,740.3 L1952.5,736.9 L1954.0,733.5 L1955.5,730.1 L1957.0,726.6 L1958.5,723.2 L1960.0,719.8 L1961.5,716.4 L1963.0,712.9 L1964.5,709.5 L1966.0,706.1 L1967.5,702.7 L1969.0,699.2 L1970.4,695.8 L1971.9,692.4 L1973.4,688.9 L1974.9,685.5 L1976.4,682.1 L1977.9,678.7 L1979.4,675.2 L1980.9,671.8 L1982.4,668.3 L1983.9,664.9 L1985.4,661.5 L1986.9,658.0 L1988.4,654.6 L1989.9,651.2 L1991.4,647.7 L1992.9,644.3 L1994.3,640.8 L1995.8,637.4 L1997.3,633.9 L1998.8,630.5 L2000.3,627.1 L2001.8,623.6 L2003.3,620.2 L2004.8,616.7 L2006.3,613.3 L2007.8,609.8 L2009.3,606.4 L2010.8,602.9 L2012.3,599.5 L2013.8,596.0 L2015.3,592.6 L2016.8,589.1 L2018.3,585.7 L2019.7,582.2 L2021.2,578.7 L2022.7,575.3 L2024.2,571.8 L2025.7,568.4 L2027.2,564.9 L2028.7,561.4 L2030.2,558.0 L2031.7,554.5 L2033.2,551.1 L2034.7,547.6 L2036.2,544.1 L2037.7,540.7 L2039.2,537.2 L2040.7,533.7 L2042.2,530.3 L2043.7,526.8 L2045.1,523.3 L2046.6,519.8 L2048.1,516.4 L2049.6,512.9 L2051.1,509.4 L2052.6,505.9 L2054.1,502.5 L2055.6,499.0 L2057.1,495.5 L2058.6,492.0 L2060.1,488.6 L2061.6,485.1 L2063.1,481.6 L2064.6,478.1 L2066.1,474.6 L2067.6,471.2 L2069.0,467.7 L2070.5,464.2 L2072.0,460.7 L2073.5,457.2 L2075.0,453.7 L2076.5,450.2 L2078.0,446.7 L2079.5,443.3 L2081.0,439.8" stroke="#00ffff"/>
</g>
<rect x="1334.0" y="148.0" width="747.00" height="871.00" fill="none" stroke="#000" stroke-width="2.2"/>
<path d="M1334.00,1019.0v-24.5M1334.00,148.0v24.5M1520.75,1019.0v-12M1520.75,148.0v12M1707.50,1019.0v-24.5M1707.50,148.0v24.5M1894.25,1019.0v-12M1894.25,148.0v12M2081.00,1019.0v-24.5M2081.00,148.0v24.5M1334.0,1019.00h24.5M2081.0,1019.00h-24.5M1334.0,910.12h12M2081.0,910.12h-12M1334.0,801.25h24.5M2081.0,801.25h-24.5M1334.0,692.38h12M2081.0,692.38h-12M1334.0,583.50h24.5M2081.0,583.50h-24.5M1334.0,474.62h12M2081.0,474.62h-12M1334.0,365.75h24.5M2081.0,365.75h-24.5M1334.0,256.88h12M2081.0,256.88h-12M1334.0,148.00h24.5M2081.0,148.00h-24.5" stroke="#000" stroke-width="2.1" fill="none"/>
<text x="1322.3" y="1036.2" font-family="Liberation Serif, Times New Roman, serif" font-size="52.6" text-anchor="end">0</text>
<text x="1322.4" y="815.2" font-family="Liberation Serif, Times New Roman, serif" font-size="52.6" text-anchor="end">0.5</text>
<text x="1323.5" y="600.7" font-family="Liberation Serif, Times New Roman, serif" font-size="52.6" text-anchor="end">1</text>
<text x="1322.4" y="379.8" font-family="Liberation Serif, Times New Roman, serif" font-size="52.6" text-anchor="end">1.5</text>
<text x="1323.2" y="165.2" font-family="Liberation Serif, Times New Roman, serif" font-size="52.6" text-anchor="end">2</text>
<text x="1334.0" y="1067.0" font-family="Liberation Serif, Times New Roman, serif" font-size="52.6" text-anchor="middle">0</text>
<text x="1707.5" y="1067.0" font-family="Liberation Serif, Times New Roman, serif" font-size="52.6" text-anchor="middle">0.5</text>
<text x="2081.0" y="1067.0" font-family="Liberation Serif, Times New Roman, serif" font-size="52.6" text-anchor="middle">1</text>
<text x="1707.5" y="72.8" font-family="Liberation Serif, Times New Roman, serif" font-size="52.6" text-anchor="middle">273 K SO2</text>
<text x="1708.5" y="1135.0" font-family="Liberation Serif, Times New Roman, serif" font-size="70.1" text-anchor="middle">r (nm)</text>
<text transform="translate(1247.0,583.5) rotate(-90)" font-family="Liberation Serif, Times New Roman, serif" font-size="70.1" text-anchor="middle">number</text>
<g fill="none" stroke-width="4" stroke-linejoin="round" stroke-linecap="butt">
<path d="M157.9,2260.3 L159.4,2260.3 L160.9,2260.3 L162.4,2260.3 L163.9,2260.3 L165.4,2260.3 L166.9,2260.3 L168.3,2260.3 L169.8,2260.3 L171.3,2260.3 L172.8,2260.3 L174.3,2260.3 L175.8,2260.2 L177.3,2259.9 L178.8,2259.2 L180.3,2258.2 L181.8,2257.1 L183.3,2256.0 L184.8,2254.8 L186.3,2253.5 L187.8,2252.2 L189.2,2250.7 L190.7,2249.0 L192.2,2247.1 L193.7,2244.9 L195.2,2242.2 L196.7,2239.0 L198.2,2235.1 L199.7,2230.8 L201.2,2226.1 L202.7,2220.9 L204.2,2215.3 L205.7,2209.3 L207.2,2203.1 L208.7,2196.7 L210.1,2190.3 L211.6,2184.0 L213.1,2177.7 L214.6,2171.4 L216.1,2164.9 L217.6,2158.4 L219.1,2152.4 L220.6,2147.1 L222.1,2142.3 L223.6,2136.8 L225.1,2130.1 L226.6,2122.9 L228.1,2115.9 L229.6,2109.4 L231.0,2103.3 L232.5,2097.6 L234.0,2092.2 L235.5,2087.2 L237.0,2082.5 L238.5,2078.2 L240.0,2074.3 L241.5,2070.7 L243.0,2067.5 L244.5,2064.6 L246.0,2061.9 L247.5,2059.5 L249.0,2057.1 L250.5,2054.8 L251.9,2052.5 L253.4,2050.2 L254.9,2048.0 L256.4,2046.0 L257.9,2044.4 L259.4,2042.9 L260.9,2041.6 L262.4,2040.5 L263.9,2039.4 L265.4,2038.4 L266.9,2037.5 L268.4,2036.7 L269.9,2035.9 L271.4,2035.2 L272.8,2034.5 L274.3,2033.9 L275.8,2033.3 L277.3,2032.8 L278.8,2032.4 L280.3,2031.9 L281.8,2031.5 L283.3,2031.2 L284.8,2030.9 L286.3,2030.7 L287.8,2030.5 L289.3,2030.3 L290.8,2030.1 L292.3,2029.9 L293.7,2029.8 L295.2,2029.7 L296.7,2029.6 L298.2,2029.5 L299.7,2029.4 L301.2,2029.3 L302.7,2029.2 L304.2,2029.1 L305.7,2029.0 L307.2,2029.0 L308.7,2028.9 L310.2,2028.8 L311.7,2028.7 L313.2,2028.6 L314.6,2028.5 L316.1,2028.5 L317.6,2028.4 L319.1,2028.3 L320.6,2028.3 L322.1,2028.2 L323.6,2028.1 L325.1,2028.1 L326.6,2028.0 L328.1,2027.9 L329.6,2027.9 L331.1,2027.8 L332.6,2027.8 L334.1,2027.7 L335.5,2027.7 L337.0,2027.6 L338.5,2027.6 L340.0,2027.5 L341.5,2027.5 L343.0,2027.5 L344.5,2027.4 L346.0,2027.4 L347.5,2027.4 L349.0,2027.3 L350.5,2027.3 L352.0,2027.3 L353.5,2027.3 L354.9,2027.3 L356.4,2027.2 L357.9,2027.2 L359.4,2027.2 L360.9,2027.2 L362.4,2027.2 L363.9,2027.2 L365.4,2027.2 L366.9,2027.2 L368.4,2027.1 L369.9,2027.1 L371.4,2027.1 L372.9,2027.1 L374.4,2027.1 L375.8,2027.1 L377.3,2027.1 L378.8,2027.1 L380.3,2027.1 L381.8,2027.1 L383.3,2027.1 L384.8,2027.1 L386.3,2027.1 L387.8,2027.0 L389.3,2027.0 L390.8,2027.0 L392.3,2027.0 L393.8,2027.0 L395.3,2027.0 L396.7,2027.0 L398.2,2027.0 L399.7,2027.0 L401.2,2027.0 L402.7,2027.0 L404.2,2027.0 L405.7,2027.0 L407.2,2027.0 L408.7,2027.0 L410.2,2027.0 L411.7,2027.0 L413.2,2027.0 L414.7,2027.0 L416.2,2027.0 L417.6,2027.0 L419.1,2027.0 L420.6,2027.0 L422.1,2027.0 L423.6,2027.0 L425.1,2027.0 L426.6,2026.9 L428.1,2026.9 L429.6,2026.9 L431.1,2026.9 L432.6,2026.9 L434.1,2026.9 L435.6,2026.9 L437.1,2026.9 L438.5,2026.9 L440.0,2026.9 L441.5,2026.9 L443.0,2026.9 L444.5,2026.9 L446.0,2026.9 L447.5,2026.9 L449.0,2026.9 L450.5,2026.9 L452.0,2026.9 L453.5,2026.9 L455.0,2026.9 L456.5,2026.9 L458.0,2026.9 L459.4,2026.9 L460.9,2026.9 L462.4,2026.9 L463.9,2026.9 L465.4,2026.9 L466.9,2026.9 L468.4,2026.9 L469.9,2026.9 L471.4,2026.9 L472.9,2026.9 L474.4,2026.9 L475.9,2026.9 L477.4,2026.9 L478.9,2026.9 L480.3,2026.9 L481.8,2026.8 L483.3,2026.8 L484.8,2026.8 L486.3,2026.8 L487.8,2026.8 L489.3,2026.8 L490.8,2026.8 L492.3,2026.8 L493.8,2026.8 L495.3,2026.8 L496.8,2026.8 L498.3,2026.8 L499.8,2026.8 L501.2,2026.8 L502.7,2026.8 L504.2,2026.8 L505.7,2026.7 L507.2,2026.7 L508.7,2026.7 L510.2,2026.7 L511.7,2026.7 L513.2,2026.7 L514.7,2026.7 L516.2,2026.7 L517.7,2026.7 L519.2,2026.7 L520.7,2026.7 L522.1,2026.6 L523.6,2026.6 L525.1,2026.6 L526.6,2026.6 L528.1,2026.6 L529.6,2026.6 L531.1,2026.5 L532.6,2026.5 L534.1,2026.5 L535.6,2026.4 L537.1,2026.3 L538.6,2026.3 L540.1,2026.2 L541.5,2026.1 L543.0,2026.0 L544.5,2025.8 L546.0,2025.7 L547.5,2025.6 L549.0,2025.4 L550.5,2025.3 L552.0,2025.1 L553.5,2025.0 L555.0,2024.8 L556.5,2024.6 L558.0,2024.5 L559.5,2024.3 L561.0,2024.1 L562.4,2024.0 L563.9,2023.8 L565.4,2023.6 L566.9,2023.5 L568.4,2023.3 L569.9,2023.1 L571.4,2023.0 L572.9,2022.8 L574.4,2022.6 L575.9,2022.5 L577.4,2022.3 L578.9,2022.2 L580.4,2022.0 L581.9,2021.8 L583.3,2021.7 L584.8,2021.5 L586.3,2021.3 L587.8,2021.1 L589.3,2021.0 L590.8,2020.8 L592.3,2020.6 L593.8,2020.4 L595.3,2020.2 L596.8,2020.0 L598.3,2019.8 L599.8,2019.6 L601.3,2019.4 L602.8,2019.2 L604.2,2019.0 L605.7,2018.8 L607.2,2018.6 L608.7,2018.4 L610.2,2018.2 L611.7,2018.0 L613.2,2017.8 L614.7,2017.6 L616.2,2017.3 L617.7,2017.1 L619.2,2016.9 L620.7,2016.6 L622.2,2016.4 L623.7,2016.2 L625.1,2015.9 L626.6,2015.7 L628.1,2015.4 L629.6,2015.1 L631.1,2014.9 L632.6,2014.6 L634.1,2014.3 L635.6,2014.0 L637.1,2013.7 L638.6,2013.4 L640.1,2013.1 L641.6,2012.8 L643.1,2012.4 L644.6,2012.1 L646.0,2011.7 L647.5,2011.3 L649.0,2010.9 L650.5,2010.5 L652.0,2010.1 L653.5,2009.6 L655.0,2009.2 L656.5,2008.7 L658.0,2008.1 L659.5,2007.6 L661.0,2007.0 L662.5,2006.3 L664.0,2005.6 L665.5,2004.9 L666.9,2004.1 L668.4,2003.2 L669.9,2002.2 L671.4,2001.2 L672.9,2000.1 L674.4,1998.9 L675.9,1997.6 L677.4,1996.2 L678.9,1994.8 L680.4,1993.2 L681.9,1991.5 L683.4,1989.7 L684.9,1987.9 L686.4,1986.1 L687.8,1984.1 L689.3,1982.2 L690.8,1980.2 L692.3,1978.1 L693.8,1976.0 L695.3,1973.8 L696.8,1971.5 L698.3,1969.1 L699.8,1966.7 L701.3,1964.3 L702.8,1961.8 L704.3,1959.3 L705.8,1956.8 L707.3,1954.3 L708.7,1951.9 L710.2,1949.4 L711.7,1947.0 L713.2,1944.6 L714.7,1942.2 L716.2,1939.8 L717.7,1937.4 L719.2,1935.0 L720.7,1932.6 L722.2,1930.3 L723.7,1927.9 L725.2,1925.5 L726.7,1923.2 L728.1,1920.9 L729.6,1918.6 L731.1,1916.3 L732.6,1914.0 L734.1,1911.7 L735.6,1909.4 L737.1,1907.1 L738.6,1904.7 L740.1,1902.3 L741.6,1899.9 L743.1,1897.4 L744.6,1895.0 L746.1,1892.5 L747.6,1890.0 L749.0,1887.5 L750.5,1885.0 L752.0,1882.5 L753.5,1880.0 L755.0,1877.5 L756.5,1875.0 L758.0,1872.5 L759.5,1869.9 L761.0,1867.4 L762.5,1864.8 L764.0,1862.3 L765.5,1859.7 L767.0,1857.1 L768.5,1854.6 L769.9,1852.0 L771.4,1849.4 L772.9,1846.7 L774.4,1844.1 L775.9,1841.5 L777.4,1838.9 L778.9,1836.2 L780.4,1833.6 L781.9,1830.9 L783.4,1828.2 L784.9,1825.5 L786.4,1822.9 L787.9,1820.1 L789.4,1817.4 L790.8,1814.7 L792.3,1812.0 L793.8,1809.3 L795.3,1806.5 L796.8,1803.7 L798.3,1801.0 L799.8,1798.2 L801.3,1795.4 L802.8,1792.6 L804.3,1789.8 L805.8,1787.0 L807.3,1784.2 L808.8,1781.3 L810.3,1778.5 L811.7,1775.6 L813.2,1772.8 L814.7,1769.9 L816.2,1767.0 L817.7,1764.1 L819.2,1761.2 L820.7,1758.3 L822.2,1755.3 L823.7,1752.4 L825.2,1749.4 L826.7,1746.5 L828.2,1743.5 L829.7,1740.5 L831.2,1737.5 L832.6,1734.5 L834.1,1731.5 L835.6,1728.5 L837.1,1725.4 L838.6,1722.4 L840.1,1719.3 L841.6,1716.2 L843.1,1713.1 L844.6,1710.0 L846.1,1706.9 L847.6,1703.8 L849.1,1700.7 L850.6,1697.5 L852.1,1694.4 L853.5,1691.2 L855.0,1688.0 L856.5,1684.8 L858.0,1681.6 L859.5,1678.4 L861.0,1675.2 L862.5,1671.9 L864.0,1668.7 L865.5,1665.4 L867.0,1662.1 L868.5,1658.8 L870.0,1655.5 L871.5,1652.2 L873.0,1648.9 L874.4,1645.5 L875.9,1642.2 L877.4,1638.8 L878.9,1635.4 L880.4,1632.0 L881.9,1628.6 L883.4,1625.2 L884.9,1621.8 L886.4,1618.3 L887.9,1614.9 L889.4,1611.4 L890.9,1607.9 L892.4,1604.4 L893.9,1600.9 L895.3,1597.3 L896.8,1593.8 L898.3,1590.2 L899.8,1586.7 L901.3,1583.1 L902.8,1579.5 L904.3,1575.9" stroke="#000000"/>
<path d="M157.9,2260.3 L159.4,2260.3 L160.9,2260.3 L162.4,2260.3 L163.9,2260.3 L165.4,2260.3 L166.9,2260.3 L168.3,2260.3 L169.8,2260.3 L171.3,2260.3 L172.8,2260.3 L174.3,2260.1 L175.8,2259.8 L177.3,2259.0 L178.8,2258.1 L180.3,2257.1 L181.8,2256.0 L183.3,2254.7 L184.8,2253.3 L186.3,2251.8 L187.8,2250.0 L189.2,2248.0 L190.7,2245.8 L192.2,2243.0 L193.7,2239.7 L195.2,2235.7 L196.7,2231.2 L198.2,2225.9 L199.7,2219.7 L201.2,2212.9 L202.7,2205.7 L204.2,2198.3 L205.7,2190.7 L207.2,2183.2 L208.7,2175.7 L210.1,2168.2 L211.6,2160.6 L213.1,2153.5 L214.6,2147.3 L216.1,2141.9 L217.6,2136.7 L219.1,2131.3 L220.6,2125.2 L222.1,2117.8 L223.6,2108.2 L225.1,2096.7 L226.6,2084.8 L228.1,2074.1 L229.6,2065.1 L231.0,2057.3 L232.5,2050.2 L234.0,2043.4 L235.5,2036.7 L237.0,2030.1 L238.5,2023.7 L240.0,2017.7 L241.5,2012.1 L243.0,2006.8 L244.5,2001.8 L246.0,1997.1 L247.5,1992.6 L249.0,1988.5 L250.5,1984.8 L251.9,1981.5 L253.4,1978.5 L254.9,1975.7 L256.4,1973.0 L257.9,1970.6 L259.4,1968.4 L260.9,1966.3 L262.4,1964.5 L263.9,1962.7 L265.4,1961.0 L266.9,1959.5 L268.4,1958.0 L269.9,1956.6 L271.4,1955.4 L272.8,1954.4 L274.3,1953.5 L275.8,1952.8 L277.3,1952.1 L278.8,1951.6 L280.3,1951.0 L281.8,1950.6 L283.3,1950.2 L284.8,1949.9 L286.3,1949.6 L287.8,1949.3 L289.3,1949.1 L290.8,1948.8 L292.3,1948.6 L293.7,1948.4 L295.2,1948.1 L296.7,1947.9 L298.2,1947.7 L299.7,1947.5 L301.2,1947.3 L302.7,1947.1 L304.2,1946.9 L305.7,1946.7 L307.2,1946.5 L308.7,1946.3 L310.2,1946.1 L311.7,1946.0 L313.2,1945.8 L314.6,1945.6 L316.1,1945.5 L317.6,1945.3 L319.1,1945.2 L320.6,1945.0 L322.1,1944.9 L323.6,1944.7 L325.1,1944.6 L326.6,1944.5 L328.1,1944.4 L329.6,1944.2 L331.1,1944.1 L332.6,1944.0 L334.1,1943.9 L335.5,1943.8 L337.0,1943.7 L338.5,1943.6 L340.0,1943.5 L341.5,1943.4 L343.0,1943.4 L344.5,1943.3 L346.0,1943.2 L347.5,1943.2 L349.0,1943.1 L350.5,1943.0 L352.0,1943.0 L353.5,1942.9 L354.9,1942.9 L356.4,1942.8 L357.9,1942.8 L359.4,1942.7 L360.9,1942.7 L362.4,1942.7 L363.9,1942.6 L365.4,1942.6 L366.9,1942.6 L368.4,1942.5 L369.9,1942.5 L371.4,1942.5 L372.9,1942.4 L374.4,1942.4 L375.8,1942.4 L377.3,1942.3 L378.8,1942.3 L380.3,1942.3 L381.8,1942.3 L383.3,1942.2 L384.8,1942.2 L386.3,1942.2 L387.8,1942.2 L389.3,1942.1 L390.8,1942.1 L392.3,1942.1 L393.8,1942.1 L395.3,1942.0 L396.7,1942.0 L398.2,1942.0 L399.7,1942.0 L401.2,1942.0 L402.7,1941.9 L404.2,1941.9 L405.7,1941.9 L407.2,1941.9 L408.7,1941.9 L410.2,1941.9 L411.7,1941.8 L413.2,1941.8 L414.7,1941.8 L416.2,1941.8 L417.6,1941.8 L419.1,1941.8 L420.6,1941.8 L422.1,1941.7 L423.6,1941.7 L425.1,1941.7 L426.6,1941.7 L428.1,1941.7 L429.6,1941.7 L431.1,1941.7 L432.6,1941.6 L434.1,1941.6 L435.6,1941.6 L437.1,1941.6 L438.5,1941.6 L440.0,1941.6 L441.5,1941.6 L443.0,1941.6 L444.5,1941.5 L446.0,1941.5 L447.5,1941.5 L449.0,1941.5 L450.5,1941.5 L452.0,1941.5 L453.5,1941.5 L455.0,1941.4 L456.5,1941.4 L458.0,1941.4 L459.4,1941.4 L460.9,1941.4 L462.4,1941.4 L463.9,1941.4 L465.4,1941.3 L466.9,1941.3 L468.4,1941.3 L469.9,1941.3 L471.4,1941.3 L472.9,1941.3 L474.4,1941.2 L475.9,1941.2 L477.4,1941.2 L478.9,1941.2 L480.3,1941.2 L481.8,1941.1 L483.3,1941.1 L484.8,1941.1 L486.3,1941.1 L487.8,1941.1 L489.3,1941.0 L490.8,1941.0 L492.3,1941.0 L493.8,1941.0 L495.3,1940.9 L496.8,1940.9 L498.3,1940.9 L499.8,1940.8 L501.2,1940.8 L502.7,1940.8 L504.2,1940.8 L505.7,1940.7 L507.2,1940.7 L508.7,1940.7 L510.2,1940.6 L511.7,1940.6 L513.2,1940.6 L514.7,1940.5 L516.2,1940.5 L517.7,1940.4 L519.2,1940.4 L520.7,1940.4 L522.1,1940.3 L523.6,1940.3 L525.1,1940.2 L526.6,1940.2 L528.1,1940.1 L529.6,1940.1 L531.1,1940.0 L532.6,1940.0 L534.1,1939.9 L535.6,1939.9 L537.1,1939.8 L538.6,1939.8 L540.1,1939.7 L541.5,1939.7 L543.0,1939.6 L544.5,1939.6 L546.0,1939.5 L547.5,1939.4 L549.0,1939.4 L550.5,1939.3 L552.0,1939.2 L553.5,1939.2 L555.0,1939.1 L556.5,1939.0 L558.0,1938.9 L559.5,1938.9 L561.0,1938.8 L562.4,1938.7 L563.9,1938.6 L565.4,1938.5 L566.9,1938.5 L568.4,1938.4 L569.9,1938.3 L571.4,1938.2 L572.9,1938.1 L574.4,1938.0 L575.9,1937.9 L577.4,1937.8 L578.9,1937.7 L580.4,1937.6 L581.9,1937.5 L583.3,1937.4 L584.8,1937.3 L586.3,1937.2 L587.8,1937.1 L589.3,1937.0 L590.8,1936.8 L592.3,1936.7 L593.8,1936.6 L595.3,1936.5 L596.8,1936.3 L598.3,1936.2 L599.8,1936.0 L601.3,1935.9 L602.8,1935.7 L604.2,1935.5 L605.7,1935.3 L607.2,1935.1 L608.7,1934.8 L610.2,1934.6 L611.7,1934.3 L613.2,1934.0 L614.7,1933.7 L616.2,1933.4 L617.7,1933.1 L619.2,1932.9 L620.7,1932.6 L622.2,1932.3 L623.7,1932.0 L625.1,1931.7 L626.6,1931.4 L628.1,1931.2 L629.6,1930.9 L631.1,1930.6 L632.6,1930.4 L634.1,1930.1 L635.6,1929.8 L637.1,1929.6 L638.6,1929.3 L640.1,1929.0 L641.6,1928.7 L643.1,1928.3 L644.6,1928.0 L646.0,1927.6 L647.5,1927.2 L649.0,1926.8 L650.5,1926.5 L652.0,1926.0 L653.5,1925.5 L655.0,1925.0 L656.5,1924.4 L658.0,1923.8 L659.5,1923.2 L661.0,1922.5 L662.5,1921.9 L664.0,1921.1 L665.5,1920.4 L666.9,1919.6 L668.4,1918.8 L669.9,1917.9 L671.4,1916.9 L672.9,1915.9 L674.4,1914.8 L675.9,1913.7 L677.4,1912.6 L678.9,1911.4 L680.4,1910.1 L681.9,1908.8 L683.4,1907.4 L684.9,1905.9 L686.4,1904.4 L687.8,1902.9 L689.3,1901.2 L690.8,1899.5 L692.3,1897.7 L693.8,1895.8 L695.3,1893.8 L696.8,1891.7 L698.3,1889.6 L699.8,1887.4 L701.3,1885.3 L702.8,1883.2 L704.3,1881.1 L705.8,1879.1 L707.3,1877.1 L708.7,1875.1 L710.2,1873.1 L711.7,1871.2 L713.2,1869.2 L714.7,1867.3 L716.2,1865.3 L717.7,1863.3 L719.2,1861.3 L720.7,1859.2 L722.2,1857.1 L723.7,1855.0 L725.2,1852.8 L726.7,1850.5 L728.1,1848.2 L729.6,1845.9 L731.1,1843.6 L732.6,1841.2 L734.1,1838.8 L735.6,1836.4 L737.1,1834.0 L738.6,1831.6 L740.1,1829.3 L741.6,1826.9 L743.1,1824.6 L744.6,1822.2 L746.1,1819.9 L747.6,1817.6 L749.0,1815.3 L750.5,1812.9 L752.0,1810.6 L753.5,1808.2 L755.0,1805.9 L756.5,1803.5 L758.0,1801.1 L759.5,1798.7 L761.0,1796.3 L762.5,1793.9 L764.0,1791.5 L765.5,1789.1 L767.0,1786.6 L768.5,1784.2 L769.9,1781.7 L771.4,1779.2 L772.9,1776.8 L774.4,1774.3 L775.9,1771.8 L777.4,1769.2 L778.9,1766.7 L780.4,1764.2 L781.9,1761.6 L783.4,1759.0 L784.9,1756.5 L786.4,1753.9 L787.9,1751.3 L789.4,1748.7 L790.8,1746.0 L792.3,1743.4 L793.8,1740.7 L795.3,1738.1 L796.8,1735.4 L798.3,1732.7 L799.8,1730.0 L801.3,1727.3 L802.8,1724.5 L804.3,1721.8 L805.8,1719.0 L807.3,1716.2 L808.8,1713.4 L810.3,1710.6 L811.7,1707.8 L813.2,1705.0 L814.7,1702.1 L816.2,1699.3 L817.7,1696.4 L819.2,1693.5 L820.7,1690.6 L822.2,1687.6 L823.7,1684.7 L825.2,1681.7 L826.7,1678.7 L828.2,1675.8 L829.7,1672.7 L831.2,1669.7 L832.6,1666.7 L834.1,1663.6 L835.6,1660.5 L837.1,1657.4 L838.6,1654.3 L840.1,1651.2 L841.6,1648.0 L843.1,1644.9 L844.6,1641.7 L846.1,1638.5 L847.6,1635.3 L849.1,1632.0 L850.6,1628.8 L852.1,1625.5 L853.5,1622.2 L855.0,1618.9 L856.5,1615.5 L858.0,1612.2 L859.5,1608.8 L861.0,1605.4 L862.5,1602.0 L864.0,1598.6 L865.5,1595.1 L867.0,1591.7 L868.5,1588.2 L870.0,1584.6 L871.5,1581.1 L873.0,1577.6 L874.4,1574.0 L875.9,1570.4 L877.4,1566.8 L878.9,1563.1 L880.4,1559.5 L881.9,1555.8 L883.4,1552.1 L884.9,1548.4 L886.4,1544.6 L887.9,1540.8 L889.4,1537.1 L890.9,1533.2 L892.4,1529.4 L893.9,1525.5 L895.3,1521.7 L896.8,1517.8 L898.3,1513.8 L899.8,1509.9 L901.3,1505.9 L902.8,1501.9 L904.3,1497.9" stroke="#ff0000"/>
<path d="M157.9,2260.1 L159.4,2259.7 L160.9,2259.2 L162.4,2258.7 L163.9,2258.2 L165.4,2257.9 L166.9,2257.6 L168.3,2257.4 L169.8,2257.2 L171.3,2256.9 L172.8,2256.7 L174.3,2256.3 L175.8,2255.7 L177.3,2254.8 L178.8,2253.5 L180.3,2252.1 L181.8,2250.4 L183.3,2248.6 L184.8,2246.6 L186.3,2244.4 L187.8,2241.9 L189.2,2239.1 L190.7,2236.0 L192.2,2232.6 L193.7,2228.8 L195.2,2224.5 L196.7,2219.8 L198.2,2214.6 L199.7,2208.8 L201.2,2202.5 L202.7,2195.7 L204.2,2188.5 L205.7,2181.1 L207.2,2173.6 L208.7,2166.1 L210.1,2158.4 L211.6,2150.3 L213.1,2141.9 L214.6,2132.9 L216.1,2123.5 L217.6,2113.6 L219.1,2103.4 L220.6,2093.2 L222.1,2083.3 L223.6,2073.8 L225.1,2064.7 L226.6,2056.0 L228.1,2047.6 L229.6,2039.2 L231.0,2031.0 L232.5,2022.9 L234.0,2015.1 L235.5,2007.4 L237.0,2000.0 L238.5,1992.6 L240.0,1985.4 L241.5,1978.6 L243.0,1972.4 L244.5,1966.9 L246.0,1962.1 L247.5,1957.8 L249.0,1953.9 L250.5,1950.3 L251.9,1947.0 L253.4,1944.0 L254.9,1941.1 L256.4,1938.5 L257.9,1935.9 L259.4,1933.4 L260.9,1931.1 L262.4,1928.9 L263.9,1926.9 L265.4,1925.1 L266.9,1923.6 L268.4,1922.3 L269.9,1921.3 L271.4,1920.4 L272.8,1919.5 L274.3,1918.7 L275.8,1918.0 L277.3,1917.4 L278.8,1916.8 L280.3,1916.2 L281.8,1915.8 L283.3,1915.4 L284.8,1915.1 L286.3,1914.8 L287.8,1914.5 L289.3,1914.2 L290.8,1914.0 L292.3,1913.8 L293.7,1913.5 L295.2,1913.3 L296.7,1913.1 L298.2,1912.8 L299.7,1912.6 L301.2,1912.4 L302.7,1912.2 L304.2,1912.0 L305.7,1911.9 L307.2,1911.7 L308.7,1911.5 L310.2,1911.4 L311.7,1911.2 L313.2,1911.0 L314.6,1910.9 L316.1,1910.7 L317.6,1910.6 L319.1,1910.5 L320.6,1910.3 L322.1,1910.2 L323.6,1910.1 L325.1,1910.0 L326.6,1909.8 L328.1,1909.7 L329.6,1909.6 L331.1,1909.5 L332.6,1909.4 L334.1,1909.3 L335.5,1909.2 L337.0,1909.2 L338.5,1909.1 L340.0,1909.0 L341.5,1908.9 L343.0,1908.8 L344.5,1908.8 L346.0,1908.7 L347.5,1908.6 L349.0,1908.6 L350.5,1908.5 L352.0,1908.4 L353.5,1908.4 L354.9,1908.3 L356.4,1908.3 L357.9,1908.2 L359.4,1908.2 L360.9,1908.1 L362.4,1908.1 L363.9,1908.0 L365.4,1908.0 L366.9,1907.9 L368.4,1907.9 L369.9,1907.8 L371.4,1907.8 L372.9,1907.7 L374.4,1907.7 L375.8,1907.7 L377.3,1907.6 L378.8,1907.6 L380.3,1907.5 L381.8,1907.5 L383.3,1907.5 L384.8,1907.4 L386.3,1907.4 L387.8,1907.4 L389.3,1907.3 L390.8,1907.3 L392.3,1907.3 L393.8,1907.2 L395.3,1907.2 L396.7,1907.2 L398.2,1907.1 L399.7,1907.1 L401.2,1907.1 L402.7,1907.1 L404.2,1907.0 L405.7,1907.0 L407.2,1907.0 L408.7,1907.0 L410.2,1906.9 L411.7,1906.9 L413.2,1906.9 L414.7,1906.9 L416.2,1906.8 L417.6,1906.8 L419.1,1906.8 L420.6,1906.8 L422.1,1906.8 L423.6,1906.7 L425.1,1906.7 L426.6,1906.7 L428.1,1906.7 L429.6,1906.6 L431.1,1906.6 L432.6,1906.6 L434.1,1906.6 L435.6,1906.6 L437.1,1906.5 L438.5,1906.5 L440.0,1906.5 L441.5,1906.5 L443.0,1906.5 L444.5,1906.4 L446.0,1906.4 L447.5,1906.4 L449.0,1906.4 L450.5,1906.4 L452.0,1906.3 L453.5,1906.3 L455.0,1906.3 L456.5,1906.3 L458.0,1906.3 L459.4,1906.2 L460.9,1906.2 L462.4,1906.2 L463.9,1906.2 L465.4,1906.2 L466.9,1906.1 L468.4,1906.1 L469.9,1906.1 L471.4,1906.1 L472.9,1906.0 L474.4,1906.0 L475.9,1906.0 L477.4,1906.0 L478.9,1905.9 L480.3,1905.9 L481.8,1905.9 L483.3,1905.8 L484.8,1905.8 L486.3,1905.8 L487.8,1905.8 L489.3,1905.7 L490.8,1905.7 L492.3,1905.7 L493.8,1905.6 L495.3,1905.6 L496.8,1905.6 L498.3,1905.5 L499.8,1905.5 L501.2,1905.5 L502.7,1905.4 L504.2,1905.4 L505.7,1905.3 L507.2,1905.3 L508.7,1905.3 L510.2,1905.2 L511.7,1905.2 L513.2,1905.1 L514.7,1905.1 L516.2,1905.0 L517.7,1905.0 L519.2,1904.9 L520.7,1904.9 L522.1,1904.8 L523.6,1904.8 L525.1,1904.7 L526.6,1904.7 L528.1,1904.6 L529.6,1904.5 L531.1,1904.5 L532.6,1904.4 L534.1,1904.3 L535.6,1904.3 L537.1,1904.2 L538.6,1904.1 L540.1,1904.0 L541.5,1903.9 L543.0,1903.8 L544.5,1903.7 L546.0,1903.6 L547.5,1903.5 L549.0,1903.4 L550.5,1903.3 L552.0,1903.1 L553.5,1903.0 L555.0,1902.9 L556.5,1902.7 L558.0,1902.6 L559.5,1902.4 L561.0,1902.3 L562.4,1902.1 L563.9,1902.0 L565.4,1901.8 L566.9,1901.7 L568.4,1901.5 L569.9,1901.3 L571.4,1901.2 L572.9,1901.0 L574.4,1900.8 L575.9,1900.7 L577.4,1900.5 L578.9,1900.3 L580.4,1900.1 L581.9,1899.9 L583.3,1899.8 L584.8,1899.6 L586.3,1899.4 L587.8,1899.2 L589.3,1899.0 L590.8,1898.8 L592.3,1898.6 L593.8,1898.4 L595.3,1898.2 L596.8,1898.0 L598.3,1897.8 L599.8,1897.6 L601.3,1897.4 L602.8,1897.2 L604.2,1897.0 L605.7,1896.7 L607.2,1896.5 L608.7,1896.3 L610.2,1896.0 L611.7,1895.8 L613.2,1895.5 L614.7,1895.2 L616.2,1895.0 L617.7,1894.7 L619.2,1894.4 L620.7,1894.2 L622.2,1893.9 L623.7,1893.6 L625.1,1893.4 L626.6,1893.1 L628.1,1892.9 L629.6,1892.6 L631.1,1892.4 L632.6,1892.1 L634.1,1891.9 L635.6,1891.7 L637.1,1891.4 L638.6,1891.1 L640.1,1890.9 L641.6,1890.6 L643.1,1890.3 L644.6,1890.0 L646.0,1889.7 L647.5,1889.3 L649.0,1888.9 L650.5,1888.6 L652.0,1888.2 L653.5,1887.7 L655.0,1887.3 L656.5,1886.7 L658.0,1886.2 L659.5,1885.6 L661.0,1885.0 L662.5,1884.4 L664.0,1883.8 L665.5,1883.1 L666.9,1882.4 L668.4,1881.7 L669.9,1880.9 L671.4,1880.1 L672.9,1879.2 L674.4,1878.3 L675.9,1877.3 L677.4,1876.3 L678.9,1875.3 L680.4,1874.3 L681.9,1873.2 L683.4,1872.1 L684.9,1870.9 L686.4,1869.7 L687.8,1868.5 L689.3,1867.2 L690.8,1865.9 L692.3,1864.5 L693.8,1863.1 L695.3,1861.6 L696.8,1860.1 L698.3,1858.5 L699.8,1856.9 L701.3,1855.2 L702.8,1853.5 L704.3,1851.7 L705.8,1849.8 L707.3,1847.9 L708.7,1846.0 L710.2,1844.0 L711.7,1841.9 L713.2,1839.8 L714.7,1837.7 L716.2,1835.6 L717.7,1833.4 L719.2,1831.3 L720.7,1829.2 L722.2,1827.1 L723.7,1825.0 L725.2,1822.9 L726.7,1820.8 L728.1,1818.6 L729.6,1816.4 L731.1,1814.2 L732.6,1812.0 L734.1,1809.7 L735.6,1807.3 L737.1,1805.0 L738.6,1802.6 L740.1,1800.2 L741.6,1797.8 L743.1,1795.4 L744.6,1793.0 L746.1,1790.6 L747.6,1788.3 L749.0,1786.0 L750.5,1783.6 L752.0,1781.3 L753.5,1779.0 L755.0,1776.6 L756.5,1774.3 L758.0,1771.9 L759.5,1769.5 L761.0,1767.1 L762.5,1764.7 L764.0,1762.3 L765.5,1759.9 L767.0,1757.5 L768.5,1755.0 L769.9,1752.5 L771.4,1750.1 L772.9,1747.6 L774.4,1745.1 L775.9,1742.6 L777.4,1740.1 L778.9,1737.5 L780.4,1735.0 L781.9,1732.4 L783.4,1729.9 L784.9,1727.3 L786.4,1724.7 L787.9,1722.0 L789.4,1719.4 L790.8,1716.8 L792.3,1714.1 L793.8,1711.4 L795.3,1708.7 L796.8,1706.0 L798.3,1703.3 L799.8,1700.5 L801.3,1697.7 L802.8,1695.0 L804.3,1692.1 L805.8,1689.3 L807.3,1686.5 L808.8,1683.6 L810.3,1680.8 L811.7,1677.9 L813.2,1674.9 L814.7,1672.0 L816.2,1669.1 L817.7,1666.1 L819.2,1663.1 L820.7,1660.1 L822.2,1657.0 L823.7,1654.0 L825.2,1650.9 L826.7,1647.8 L828.2,1644.7 L829.7,1641.5 L831.2,1638.4 L832.6,1635.2 L834.1,1632.0 L835.6,1628.7 L837.1,1625.5 L838.6,1622.2 L840.1,1618.9 L841.6,1615.5 L843.1,1612.2 L844.6,1608.8 L846.1,1605.4 L847.6,1602.0 L849.1,1598.5 L850.6,1595.0 L852.1,1591.5 L853.5,1588.0 L855.0,1584.4 L856.5,1580.8 L858.0,1577.2 L859.5,1573.6 L861.0,1569.9 L862.5,1566.2 L864.0,1562.5 L865.5,1558.7 L867.0,1554.9 L868.5,1551.1 L870.0,1547.3 L871.5,1543.4 L873.0,1539.5 L874.4,1535.6 L875.9,1531.6 L877.4,1527.6 L878.9,1523.6 L880.4,1519.6 L881.9,1515.5 L883.4,1511.4 L884.9,1507.2 L886.4,1503.1 L887.9,1498.9 L889.4,1494.6 L890.9,1490.3 L892.4,1486.0 L893.9,1481.7 L895.3,1477.3 L896.8,1472.9 L898.3,1468.5 L899.8,1464.0 L901.3,1459.5 L902.8,1454.9 L904.3,1450.4" stroke="#00ff00"/>
<path d="M157.9,2260.1 L159.4,2259.7 L160.9,2259.2 L162.4,2258.7 L163.9,2258.2 L165.4,2257.9 L166.9,2257.6 L168.3,2257.4 L169.8,2257.2 L171.3,2256.9 L172.8,2256.7 L174.3,2256.3 L175.8,2255.7 L177.3,2254.8 L178.8,2253.5 L180.3,2252.1 L181.8,2250.4 L183.3,2248.6 L184.8,2246.6 L186.3,2244.4 L187.8,2241.9 L189.2,2239.1 L190.7,2236.0 L192.2,2232.6 L193.7,2228.8 L195.2,2224.5 L196.7,2219.8 L198.2,2214.6 L199.7,2208.8 L201.2,2202.5 L202.7,2195.7 L204.2,2188.5 L205.7,2181.1 L207.2,2173.6 L208.7,2166.1 L210.1,2158.4 L211.6,2150.3 L213.1,2141.9 L214.6,2132.9 L216.1,2123.5 L217.6,2113.6 L219.1,2103.4 L220.6,2093.2 L222.1,2083.3 L223.6,2073.8 L225.1,2064.7 L226.6,2056.0 L228.1,2047.6 L229.6,2039.2 L231.0,2031.0 L232.5,2023.0 L234.0,2015.1 L235.5,2007.4 L237.0,1999.7 L238.5,1992.1 L240.0,1984.7 L241.5,1977.6 L243.0,1971.1 L244.5,1965.3 L246.0,1960.1 L247.5,1955.5 L249.0,1951.2 L250.5,1947.3 L251.9,1943.6 L253.4,1940.2 L254.9,1937.0 L256.4,1934.1 L257.9,1931.2 L259.4,1928.5 L260.9,1925.9 L262.4,1923.5 L263.9,1921.2 L265.4,1919.3 L266.9,1917.6 L268.4,1916.3 L269.9,1915.1 L271.4,1914.1 L272.8,1913.2 L274.3,1912.3 L275.8,1911.5 L277.3,1910.8 L278.8,1910.1 L280.3,1909.6 L281.8,1909.1 L283.3,1908.7 L284.8,1908.4 L286.3,1908.1 L287.8,1907.8 L289.3,1907.6 L290.8,1907.4 L292.3,1907.2 L293.7,1907.0 L295.2,1906.8 L296.7,1906.6 L298.2,1906.4 L299.7,1906.2 L301.2,1906.1 L302.7,1905.9 L304.2,1905.8 L305.7,1905.6 L307.2,1905.5 L308.7,1905.4 L310.2,1905.2 L311.7,1905.1 L313.2,1905.0 L314.6,1904.9 L316.1,1904.8 L317.6,1904.7 L319.1,1904.6 L320.6,1904.5 L322.1,1904.4 L323.6,1904.3 L325.1,1904.2 L326.6,1904.1 L328.1,1904.0 L329.6,1903.9 L331.1,1903.8 L332.6,1903.7 L334.1,1903.6 L335.5,1903.5 L337.0,1903.4 L338.5,1903.3 L340.0,1903.2 L341.5,1903.1 L343.0,1903.0 L344.5,1902.9 L346.0,1902.8 L347.5,1902.7 L349.0,1902.6 L350.5,1902.4 L352.0,1902.3 L353.5,1902.2 L354.9,1902.0 L356.4,1901.9 L357.9,1901.7 L359.4,1901.6 L360.9,1901.4 L362.4,1901.3 L363.9,1901.1 L365.4,1901.0 L366.9,1900.8 L368.4,1900.7 L369.9,1900.6 L371.4,1900.4 L372.9,1900.3 L374.4,1900.2 L375.8,1900.0 L377.3,1899.9 L378.8,1899.8 L380.3,1899.7 L381.8,1899.7 L383.3,1899.6 L384.8,1899.5 L386.3,1899.5 L387.8,1899.4 L389.3,1899.4 L390.8,1899.4 L392.3,1899.4 L393.8,1899.4 L395.3,1899.4 L396.7,1899.4 L398.2,1899.4 L399.7,1899.4 L401.2,1899.4 L402.7,1899.4 L404.2,1899.4 L405.7,1899.4 L407.2,1899.4 L408.7,1899.4 L410.2,1899.4 L411.7,1899.4 L413.2,1899.4 L414.7,1899.4 L416.2,1899.4 L417.6,1899.4 L419.1,1899.4 L420.6,1899.4 L422.1,1899.4 L423.6,1899.4 L425.1,1899.4 L426.6,1899.4 L428.1,1899.4 L429.6,1899.4 L431.1,1899.4 L432.6,1899.4 L434.1,1899.4 L435.6,1899.4 L437.1,1899.4 L438.5,1899.4 L440.0,1899.4 L441.5,1899.4 L443.0,1899.4 L444.5,1899.4 L446.0,1899.4 L447.5,1899.4 L449.0,1899.4 L450.5,1899.4 L452.0,1899.4 L453.5,1899.4 L455.0,1899.4 L456.5,1899.4 L458.0,1899.4 L459.4,1899.4 L460.9,1899.4 L462.4,1899.4 L463.9,1899.4 L465.4,1899.4 L466.9,1899.4 L468.4,1899.4 L469.9,1899.4 L471.4,1899.4 L472.9,1899.4 L474.4,1899.4 L475.9,1899.4 L477.4,1899.4 L478.9,1899.4 L480.3,1899.4 L481.8,1899.4 L483.3,1899.4 L484.8,1899.4 L486.3,1899.4 L487.8,1899.4 L489.3,1899.4 L490.8,1899.4 L492.3,1899.4 L493.8,1899.4 L495.3,1899.4 L496.8,1899.4 L498.3,1899.4 L499.8,1899.4 L501.2,1899.4 L502.7,1899.4 L504.2,1899.4 L505.7,1899.4 L507.2,1899.4 L508.7,1899.4 L510.2,1899.4 L511.7,1899.4 L513.2,1899.4 L514.7,1899.4 L516.2,1899.4 L517.7,1899.4 L519.2,1899.4 L520.7,1899.4 L522.1,1899.4 L523.6,1899.4 L525.1,1899.4 L526.6,1899.4 L528.1,1899.4 L529.6,1899.4 L531.1,1899.3 L532.6,1899.3 L534.1,1899.3 L535.6,1899.3 L537.1,1899.3 L538.6,1899.3 L540.1,1899.2 L541.5,1899.2 L543.0,1899.1 L544.5,1899.1 L546.0,1899.0 L547.5,1899.0 L549.0,1898.9 L550.5,1898.8 L552.0,1898.8 L553.5,1898.7 L555.0,1898.6 L556.5,1898.5 L558.0,1898.4 L559.5,1898.3 L561.0,1898.2 L562.4,1898.1 L563.9,1898.0 L565.4,1897.9 L566.9,1897.8 L568.4,1897.7 L569.9,1897.5 L571.4,1897.4 L572.9,1897.3 L574.4,1897.2 L575.9,1897.0 L577.4,1896.9 L578.9,1896.7 L580.4,1896.6 L581.9,1896.5 L583.3,1896.3 L584.8,1896.2 L586.3,1896.0 L587.8,1895.9 L589.3,1895.7 L590.8,1895.6 L592.3,1895.4 L593.8,1895.3 L595.3,1895.1 L596.8,1894.9 L598.3,1894.8 L599.8,1894.6 L601.3,1894.4 L602.8,1894.2 L604.2,1894.0 L605.7,1893.8 L607.2,1893.5 L608.7,1893.3 L610.2,1893.0 L611.7,1892.7 L613.2,1892.4 L614.7,1892.2 L616.2,1891.9 L617.7,1891.6 L619.2,1891.3 L620.7,1891.0 L622.2,1890.7 L623.7,1890.5 L625.1,1890.2 L626.6,1890.0 L628.1,1889.7 L629.6,1889.5 L631.1,1889.2 L632.6,1889.0 L634.1,1888.8 L635.6,1888.5 L637.1,1888.3 L638.6,1888.0 L640.1,1887.8 L641.6,1887.5 L643.1,1887.2 L644.6,1886.9 L646.0,1886.6 L647.5,1886.3 L649.0,1885.9 L650.5,1885.6 L652.0,1885.2 L653.5,1884.7 L655.0,1884.2 L656.5,1883.7 L658.0,1883.2 L659.5,1882.6 L661.0,1882.0 L662.5,1881.4 L664.0,1880.8 L665.5,1880.1 L666.9,1879.4 L668.4,1878.7 L669.9,1877.9 L671.4,1877.0 L672.9,1876.2 L674.4,1875.2 L675.9,1874.3 L677.4,1873.3 L678.9,1872.3 L680.4,1871.2 L681.9,1870.2 L683.4,1869.0 L684.9,1867.9 L686.4,1866.7 L687.8,1865.5 L689.3,1864.1 L690.8,1862.7 L692.3,1861.3 L693.8,1859.7 L695.3,1858.0 L696.8,1856.3 L698.3,1854.5 L699.8,1852.6 L701.3,1850.7 L702.8,1848.7 L704.3,1846.8 L705.8,1844.8 L707.3,1842.8 L708.7,1840.8 L710.2,1838.7 L711.7,1836.6 L713.2,1834.5 L714.7,1832.4 L716.2,1830.3 L717.7,1828.2 L719.2,1826.1 L720.7,1824.0 L722.2,1821.9 L723.7,1819.8 L725.2,1817.7 L726.7,1815.6 L728.1,1813.6 L729.6,1811.4 L731.1,1809.3 L732.6,1807.1 L734.1,1804.8 L735.6,1802.5 L737.1,1800.1 L738.6,1797.7 L740.1,1795.3 L741.6,1792.8 L743.1,1790.4 L744.6,1787.9 L746.1,1785.5 L747.6,1783.0 L749.0,1780.6 L750.5,1778.2 L752.0,1775.7 L753.5,1773.3 L755.0,1770.8 L756.5,1768.4 L758.0,1765.9 L759.5,1763.4 L761.0,1760.9 L762.5,1758.4 L764.0,1755.9 L765.5,1753.4 L767.0,1750.8 L768.5,1748.2 L769.9,1745.7 L771.4,1743.1 L772.9,1740.5 L774.4,1737.9 L775.9,1735.3 L777.4,1732.6 L778.9,1730.0 L780.4,1727.3 L781.9,1724.7 L783.4,1722.0 L784.9,1719.3 L786.4,1716.6 L787.9,1713.9 L789.4,1711.1 L790.8,1708.4 L792.3,1705.6 L793.8,1702.9 L795.3,1700.1 L796.8,1697.3 L798.3,1694.5 L799.8,1691.7 L801.3,1688.8 L802.8,1686.0 L804.3,1683.1 L805.8,1680.3 L807.3,1677.4 L808.8,1674.5 L810.3,1671.6 L811.7,1668.7 L813.2,1665.8 L814.7,1662.8 L816.2,1659.9 L817.7,1656.9 L819.2,1653.9 L820.7,1650.9 L822.2,1647.9 L823.7,1644.9 L825.2,1641.9 L826.7,1638.8 L828.2,1635.8 L829.7,1632.7 L831.2,1629.7 L832.6,1626.6 L834.1,1623.5 L835.6,1620.4 L837.1,1617.2 L838.6,1614.1 L840.1,1610.9 L841.6,1607.8 L843.1,1604.6 L844.6,1601.4 L846.1,1598.2 L847.6,1595.0 L849.1,1591.8 L850.6,1588.5 L852.1,1585.3 L853.5,1582.0 L855.0,1578.7 L856.5,1575.4 L858.0,1572.1 L859.5,1568.8 L861.0,1565.5 L862.5,1562.2 L864.0,1558.8 L865.5,1555.4 L867.0,1552.1 L868.5,1548.7 L870.0,1545.3 L871.5,1541.9 L873.0,1538.4 L874.4,1535.0 L875.9,1531.5 L877.4,1528.1 L878.9,1524.6 L880.4,1521.1 L881.9,1517.6 L883.4,1514.1 L884.9,1510.5 L886.4,1507.0 L887.9,1503.4 L889.4,1499.9 L890.9,1496.3 L892.4,1492.7 L893.9,1489.1 L895.3,1485.5 L896.8,1481.9 L898.3,1478.2 L899.8,1474.6 L901.3,1470.9 L902.8,1467.2 L904.3,1463.5" stroke="#0000ff"/>
<path d="M157.9,2260.1 L159.4,2259.7 L160.9,2259.2 L162.4,2258.7 L163.9,2258.2 L165.4,2257.9 L166.9,2257.6 L168.3,2257.4 L169.8,2257.2 L171.3,2256.9 L172.8,2256.7 L174.3,2256.3 L175.8,2255.7 L177.3,2254.8 L178.8,2253.5 L180.3,2252.1 L181.8,2250.4 L183.3,2248.6 L184.8,2246.6 L186.3,2244.4 L187.8,2241.9 L189.2,2239.1 L190.7,2236.0 L192.2,2232.6 L193.7,2228.8 L195.2,2224.5 L196.7,2219.8 L198.2,2214.6 L199.7,2208.8 L201.2,2202.5 L202.7,2195.7 L204.2,2188.5 L205.7,2181.1 L207.2,2173.6 L208.7,2166.1 L210.1,2158.4 L211.6,2150.3 L213.1,2141.9 L214.6,2132.9 L216.1,2123.5 L217.6,2113.6 L219.1,2103.4 L220.6,2093.2 L222.1,2083.3 L223.6,2073.8 L225.1,2064.7 L226.6,2056.0 L228.1,2047.6 L229.6,2039.2 L231.0,2031.0 L232.5,2022.9 L234.0,2015.1 L235.5,2007.4 L237.0,1999.8 L238.5,1992.4 L240.0,1985.1 L241.5,1978.1 L243.0,1971.8 L244.5,1966.1 L246.0,1961.1 L247.5,1956.6 L249.0,1952.4 L250.5,1948.6 L251.9,1945.0 L253.4,1941.8 L254.9,1938.8 L256.4,1936.0 L257.9,1933.3 L259.4,1930.8 L260.9,1928.3 L262.4,1926.1 L263.9,1924.0 L265.4,1922.2 L266.9,1920.7 L268.4,1919.4 L269.9,1918.4 L271.4,1917.4 L272.8,1916.5 L274.3,1915.7 L275.8,1914.9 L277.3,1914.2 L278.8,1913.6 L280.3,1913.1 L281.8,1912.6 L283.3,1912.3 L284.8,1912.1 L286.3,1911.9 L287.8,1911.7 L289.3,1911.6 L290.8,1911.4 L292.3,1911.3 L293.7,1911.1 L295.2,1911.0 L296.7,1910.9 L298.2,1910.7 L299.7,1910.6 L301.2,1910.5 L302.7,1910.4 L304.2,1910.3 L305.7,1910.2 L307.2,1910.1 L308.7,1910.0 L310.2,1909.9 L311.7,1909.8 L313.2,1909.8 L314.6,1909.7 L316.1,1909.6 L317.6,1909.5 L319.1,1909.4 L320.6,1909.4 L322.1,1909.3 L323.6,1909.3 L325.1,1909.2 L326.6,1909.1 L328.1,1909.1 L329.6,1909.0 L331.1,1909.0 L332.6,1908.9 L334.1,1908.9 L335.5,1908.8 L337.0,1908.8 L338.5,1908.7 L340.0,1908.7 L341.5,1908.7 L343.0,1908.6 L344.5,1908.6 L346.0,1908.5 L347.5,1908.5 L349.0,1908.5 L350.5,1908.4 L352.0,1908.4 L353.5,1908.4 L354.9,1908.3 L356.4,1908.3 L357.9,1908.3 L359.4,1908.2 L360.9,1908.2 L362.4,1908.2 L363.9,1908.2 L365.4,1908.1 L366.9,1908.1 L368.4,1908.1 L369.9,1908.0 L371.4,1908.0 L372.9,1908.0 L374.4,1908.0 L375.8,1907.9 L377.3,1907.9 L378.8,1907.9 L380.3,1907.9 L381.8,1907.8 L383.3,1907.8 L384.8,1907.8 L386.3,1907.8 L387.8,1907.8 L389.3,1907.7 L390.8,1907.7 L392.3,1907.7 L393.8,1907.7 L395.3,1907.7 L396.7,1907.7 L398.2,1907.6 L399.7,1907.6 L401.2,1907.6 L402.7,1907.6 L404.2,1907.6 L405.7,1907.6 L407.2,1907.5 L408.7,1907.5 L410.2,1907.5 L411.7,1907.5 L413.2,1907.5 L414.7,1907.5 L416.2,1907.5 L417.6,1907.4 L419.1,1907.4 L420.6,1907.4 L422.1,1907.4 L423.6,1907.4 L425.1,1907.4 L426.6,1907.4 L428.1,1907.4 L429.6,1907.3 L431.1,1907.3 L432.6,1907.3 L434.1,1907.3 L435.6,1907.3 L437.1,1907.3 L438.5,1907.3 L440.0,1907.3 L441.5,1907.3 L443.0,1907.2 L444.5,1907.2 L446.0,1907.2 L447.5,1907.2 L449.0,1907.2 L450.5,1907.2 L452.0,1907.2 L453.5,1907.2 L455.0,1907.2 L456.5,1907.1 L458.0,1907.1 L459.4,1907.1 L460.9,1907.1 L462.4,1907.1 L463.9,1907.1 L465.4,1907.1 L466.9,1907.1 L468.4,1907.0 L469.9,1907.0 L471.4,1907.0 L472.9,1907.0 L474.4,1907.0 L475.9,1907.0 L477.4,1907.0 L478.9,1906.9 L480.3,1906.9 L481.8,1906.9 L483.3,1906.9 L484.8,1906.9 L486.3,1906.9 L487.8,1906.8 L489.3,1906.8 L490.8,1906.8 L492.3,1906.8 L493.8,1906.8 L495.3,1906.8 L496.8,1906.7 L498.3,1906.7 L499.8,1906.7 L501.2,1906.7 L502.7,1906.6 L504.2,1906.6 L505.7,1906.6 L507.2,1906.6 L508.7,1906.6 L510.2,1906.5 L511.7,1906.5 L513.2,1906.5 L514.7,1906.4 L516.2,1906.4 L517.7,1906.4 L519.2,1906.4 L520.7,1906.3 L522.1,1906.3 L523.6,1906.3 L525.1,1906.2 L526.6,1906.2 L528.1,1906.2 L529.6,1906.1 L531.1,1906.1 L532.6,1906.1 L534.1,1906.0 L535.6,1906.0 L537.1,1905.9 L538.6,1905.9 L540.1,1905.8 L541.5,1905.8 L543.0,1905.7 L544.5,1905.6 L546.0,1905.6 L547.5,1905.5 L549.0,1905.4 L550.5,1905.3 L552.0,1905.2 L553.5,1905.2 L555.0,1905.1 L556.5,1905.0 L558.0,1904.9 L559.5,1904.8 L561.0,1904.7 L562.4,1904.6 L563.9,1904.5 L565.4,1904.4 L566.9,1904.3 L568.4,1904.1 L569.9,1904.0 L571.4,1903.9 L572.9,1903.8 L574.4,1903.7 L575.9,1903.6 L577.4,1903.4 L578.9,1903.3 L580.4,1903.2 L581.9,1903.0 L583.3,1902.9 L584.8,1902.8 L586.3,1902.6 L587.8,1902.5 L589.3,1902.4 L590.8,1902.2 L592.3,1902.1 L593.8,1901.9 L595.3,1901.8 L596.8,1901.6 L598.3,1901.5 L599.8,1901.3 L601.3,1901.2 L602.8,1901.0 L604.2,1900.8 L605.7,1900.6 L607.2,1900.4 L608.7,1900.2 L610.2,1900.0 L611.7,1899.8 L613.2,1899.5 L614.7,1899.3 L616.2,1899.1 L617.7,1898.8 L619.2,1898.6 L620.7,1898.3 L622.2,1898.1 L623.7,1897.8 L625.1,1897.6 L626.6,1897.3 L628.1,1897.0 L629.6,1896.8 L631.1,1896.5 L632.6,1896.2 L634.1,1895.9 L635.6,1895.6 L637.1,1895.3 L638.6,1895.0 L640.1,1894.7 L641.6,1894.4 L643.1,1894.1 L644.6,1893.7 L646.0,1893.4 L647.5,1893.1 L649.0,1892.7 L650.5,1892.4 L652.0,1892.1 L653.5,1891.7 L655.0,1891.4 L656.5,1891.0 L658.0,1890.6 L659.5,1890.2 L661.0,1889.8 L662.5,1889.4 L664.0,1888.9 L665.5,1888.4 L666.9,1887.9 L668.4,1887.3 L669.9,1886.6 L671.4,1885.9 L672.9,1885.1 L674.4,1884.3 L675.9,1883.4 L677.4,1882.5 L678.9,1881.5 L680.4,1880.5 L681.9,1879.5 L683.4,1878.4 L684.9,1877.2 L686.4,1876.0 L687.8,1874.7 L689.3,1873.3 L690.8,1871.9 L692.3,1870.3 L693.8,1868.7 L695.3,1867.1 L696.8,1865.4 L698.3,1863.7 L699.8,1862.0 L701.3,1860.2 L702.8,1858.5 L704.3,1856.7 L705.8,1854.9 L707.3,1853.1 L708.7,1851.3 L710.2,1849.5 L711.7,1847.6 L713.2,1845.7 L714.7,1843.8 L716.2,1841.9 L717.7,1839.9 L719.2,1838.0 L720.7,1836.0 L722.2,1834.0 L723.7,1832.0 L725.2,1830.0 L726.7,1827.9 L728.1,1825.8 L729.6,1823.7 L731.1,1821.6 L732.6,1819.5 L734.1,1817.3 L735.6,1815.2 L737.1,1813.0 L738.6,1810.8 L740.1,1808.7 L741.6,1806.5 L743.1,1804.3 L744.6,1802.1 L746.1,1799.9 L747.6,1797.7 L749.0,1795.5 L750.5,1793.2 L752.0,1791.0 L753.5,1788.8 L755.0,1786.5 L756.5,1784.2 L758.0,1781.9 L759.5,1779.6 L761.0,1777.3 L762.5,1775.0 L764.0,1772.6 L765.5,1770.3 L767.0,1767.9 L768.5,1765.6 L769.9,1763.2 L771.4,1760.8 L772.9,1758.3 L774.4,1755.9 L775.9,1753.5 L777.4,1751.0 L778.9,1748.6 L780.4,1746.1 L781.9,1743.6 L783.4,1741.1 L784.9,1738.5 L786.4,1736.0 L787.9,1733.4 L789.4,1730.9 L790.8,1728.3 L792.3,1725.7 L793.8,1723.1 L795.3,1720.5 L796.8,1717.8 L798.3,1715.2 L799.8,1712.5 L801.3,1709.8 L802.8,1707.1 L804.3,1704.4 L805.8,1701.7 L807.3,1698.9 L808.8,1696.2 L810.3,1693.4 L811.7,1690.6 L813.2,1687.8 L814.7,1685.0 L816.2,1682.1 L817.7,1679.3 L819.2,1676.4 L820.7,1673.5 L822.2,1670.6 L823.7,1667.7 L825.2,1664.8 L826.7,1661.8 L828.2,1658.9 L829.7,1655.9 L831.2,1652.9 L832.6,1649.8 L834.1,1646.8 L835.6,1643.8 L837.1,1640.7 L838.6,1637.6 L840.1,1634.5 L841.6,1631.4 L843.1,1628.2 L844.6,1625.1 L846.1,1621.9 L847.6,1618.7 L849.1,1615.5 L850.6,1612.3 L852.1,1609.0 L853.5,1605.8 L855.0,1602.5 L856.5,1599.2 L858.0,1595.9 L859.5,1592.5 L861.0,1589.2 L862.5,1585.8 L864.0,1582.4 L865.5,1579.0 L867.0,1575.6 L868.5,1572.1 L870.0,1568.7 L871.5,1565.2 L873.0,1561.7 L874.4,1558.1 L875.9,1554.6 L877.4,1551.0 L878.9,1547.4 L880.4,1543.8 L881.9,1540.2 L883.4,1536.6 L884.9,1532.9 L886.4,1529.2 L887.9,1525.5 L889.4,1521.8 L890.9,1518.0 L892.4,1514.3 L893.9,1510.5 L895.3,1506.7 L896.8,1502.8 L898.3,1499.0 L899.8,1495.1 L901.3,1491.2 L902.8,1487.3 L904.3,1483.4" stroke="#00ffff"/>
</g>
<rect x="157.9" y="1389.0" width="746.40" height="871.30" fill="none" stroke="#000" stroke-width="2.2"/>
<path d="M157.90,2260.3v-24.5M157.90,1389.0v24.5M344.50,2260.3v-12M344.50,1389.0v12M531.10,2260.3v-24.5M531.10,1389.0v24.5M717.70,2260.3v-12M717.70,1389.0v12M904.30,2260.3v-24.5M904.30,1389.0v24.5M157.9,2260.30h24.5M904.3,2260.30h-24.5M157.9,2151.39h12M904.3,2151.39h-12M157.9,2042.48h24.5M904.3,2042.48h-24.5M157.9,1933.56h12M904.3,1933.56h-12M157.9,1824.65h24.5M904.3,1824.65h-24.5M157.9,1715.74h12M904.3,1715.74h-12M157.9,1606.83h24.5M904.3,1606.83h-24.5M157.9,1497.91h12M904.3,1497.91h-12M157.9,1389.00h24.5M904.3,1389.00h-24.5" stroke="#000" stroke-width="2.1" fill="none"/>
<text x="146.2" y="2277.5" font-family="Liberation Serif, Times New Roman, serif" font-size="52.6" text-anchor="end">0</text>
<text x="146.3" y="2056.5" font-family="Liberation Serif, Times New Roman, serif" font-size="52.6" text-anchor="end">0.5</text>
<text x="147.4" y="1841.9" font-family="Liberation Serif, Times New Roman, serif" font-size="52.6" text-anchor="end">1</text>
<text x="146.3" y="1620.8" font-family="Liberation Serif, Times New Roman, serif" font-size="52.6" text-anchor="end">1.5</text>
<text x="147.1" y="1406.2" font-family="Liberation Serif, Times New Roman, serif" font-size="52.6" text-anchor="end">2</text>
<text x="157.9" y="2308.3" font-family="Liberation Serif, Times New Roman, serif" font-size="52.6" text-anchor="middle">0</text>
<text x="531.1" y="2308.3" font-family="Liberation Serif, Times New Roman, serif" font-size="52.6" text-anchor="middle">0.5</text>
<text x="904.3" y="2308.3" font-family="Liberation Serif, Times New Roman, serif" font-size="52.6" text-anchor="middle">1</text>
<text x="531.1" y="1313.8" font-family="Liberation Serif, Times New Roman, serif" font-size="52.6" text-anchor="middle">310 K CO2</text>
<text x="532.1" y="2376.3" font-family="Liberation Serif, Times New Roman, serif" font-size="70.1" text-anchor="middle">r (nm)</text>
<text transform="translate(70.9,1824.7) rotate(-90)" font-family="Liberation Serif, Times New Roman, serif" font-size="70.1" text-anchor="middle">number</text>
<g fill="none" stroke-width="4" stroke-linejoin="round" stroke-linecap="butt">
<path d="M1334.1,2260.0 L1335.6,2260.0 L1337.1,2260.0 L1338.6,2260.0 L1340.1,2260.0 L1341.6,2260.0 L1343.1,2260.0 L1344.6,2260.0 L1346.1,2260.0 L1347.5,2260.0 L1349.0,2260.0 L1350.5,2260.0 L1352.0,2260.0 L1353.5,2260.0 L1355.0,2260.0 L1356.5,2260.0 L1358.0,2259.9 L1359.5,2259.7 L1361.0,2259.4 L1362.5,2259.0 L1364.0,2258.5 L1365.5,2257.8 L1367.0,2256.9 L1368.5,2255.9 L1370.0,2254.9 L1371.4,2253.8 L1372.9,2252.7 L1374.4,2251.4 L1375.9,2250.2 L1377.4,2248.8 L1378.9,2247.4 L1380.4,2245.9 L1381.9,2244.3 L1383.4,2242.8 L1384.9,2241.3 L1386.4,2239.8 L1387.9,2238.3 L1389.4,2236.8 L1390.9,2235.3 L1392.4,2233.8 L1393.9,2232.3 L1395.3,2230.8 L1396.8,2229.4 L1398.3,2228.1 L1399.8,2226.9 L1401.3,2225.7 L1402.8,2224.6 L1404.3,2223.6 L1405.8,2222.6 L1407.3,2221.7 L1408.8,2220.9 L1410.3,2220.1 L1411.8,2219.3 L1413.3,2218.7 L1414.8,2218.0 L1416.3,2217.5 L1417.8,2217.0 L1419.2,2216.5 L1420.7,2216.1 L1422.2,2215.8 L1423.7,2215.4 L1425.2,2215.1 L1426.7,2214.8 L1428.2,2214.5 L1429.7,2214.3 L1431.2,2214.1 L1432.7,2213.9 L1434.2,2213.7 L1435.7,2213.5 L1437.2,2213.4 L1438.7,2213.2 L1440.2,2213.1 L1441.7,2213.0 L1443.1,2212.9 L1444.6,2212.8 L1446.1,2212.7 L1447.6,2212.6 L1449.1,2212.5 L1450.6,2212.5 L1452.1,2212.4 L1453.6,2212.3 L1455.1,2212.3 L1456.6,2212.2 L1458.1,2212.2 L1459.6,2212.2 L1461.1,2212.2 L1462.6,2212.2 L1464.1,2212.2 L1465.6,2212.2 L1467.0,2212.2 L1468.5,2212.2 L1470.0,2212.2 L1471.5,2212.2 L1473.0,2212.2 L1474.5,2212.2 L1476.0,2212.2 L1477.5,2212.2 L1479.0,2212.2 L1480.5,2212.2 L1482.0,2212.2 L1483.5,2212.3 L1485.0,2212.3 L1486.5,2212.3 L1488.0,2212.3 L1489.5,2212.3 L1490.9,2212.3 L1492.4,2212.3 L1493.9,2212.3 L1495.4,2212.3 L1496.9,2212.3 L1498.4,2212.3 L1499.9,2212.3 L1501.4,2212.3 L1502.9,2212.4 L1504.4,2212.4 L1505.9,2212.4 L1507.4,2212.4 L1508.9,2212.4 L1510.4,2212.4 L1511.9,2212.4 L1513.4,2212.4 L1514.8,2212.4 L1516.3,2212.4 L1517.8,2212.4 L1519.3,2212.4 L1520.8,2212.4 L1522.3,2212.4 L1523.8,2212.4 L1525.3,2212.4 L1526.8,2212.4 L1528.3,2212.4 L1529.8,2212.4 L1531.3,2212.4 L1532.8,2212.4 L1534.3,2212.4 L1535.8,2212.4 L1537.3,2212.4 L1538.8,2212.4 L1540.2,2212.4 L1541.7,2212.4 L1543.2,2212.4 L1544.7,2212.4 L1546.2,2212.4 L1547.7,2212.4 L1549.2,2212.4 L1550.7,2212.4 L1552.2,2212.4 L1553.7,2212.4 L1555.2,2212.4 L1556.7,2212.4 L1558.2,2212.4 L1559.7,2212.4 L1561.2,2212.4 L1562.7,2212.4 L1564.1,2212.4 L1565.6,2212.4 L1567.1,2212.4 L1568.6,2212.4 L1570.1,2212.4 L1571.6,2212.4 L1573.1,2212.4 L1574.6,2212.3 L1576.1,2212.3 L1577.6,2212.3 L1579.1,2212.3 L1580.6,2212.3 L1582.1,2212.3 L1583.6,2212.3 L1585.1,2212.3 L1586.6,2212.3 L1588.0,2212.3 L1589.5,2212.3 L1591.0,2212.3 L1592.5,2212.3 L1594.0,2212.3 L1595.5,2212.3 L1597.0,2212.3 L1598.5,2212.3 L1600.0,2212.3 L1601.5,2212.3 L1603.0,2212.3 L1604.5,2212.3 L1606.0,2212.3 L1607.5,2212.3 L1609.0,2212.2 L1610.5,2212.2 L1611.9,2212.2 L1613.4,2212.2 L1614.9,2212.2 L1616.4,2212.2 L1617.9,2212.2 L1619.4,2212.2 L1620.9,2212.2 L1622.4,2212.2 L1623.9,2212.2 L1625.4,2212.2 L1626.9,2212.2 L1628.4,2212.2 L1629.9,2212.2 L1631.4,2212.1 L1632.9,2212.1 L1634.4,2212.1 L1635.8,2212.1 L1637.3,2212.1 L1638.8,2212.1 L1640.3,2212.1 L1641.8,2212.1 L1643.3,2212.1 L1644.8,2212.1 L1646.3,2212.1 L1647.8,2212.1 L1649.3,2212.0 L1650.8,2212.0 L1652.3,2212.0 L1653.8,2212.0 L1655.3,2212.0 L1656.8,2212.0 L1658.3,2212.0 L1659.7,2212.0 L1661.2,2212.0 L1662.7,2212.0 L1664.2,2211.9 L1665.7,2211.9 L1667.2,2211.9 L1668.7,2211.9 L1670.2,2211.9 L1671.7,2211.9 L1673.2,2211.9 L1674.7,2211.9 L1676.2,2211.9 L1677.7,2211.8 L1679.2,2211.8 L1680.7,2211.8 L1682.2,2211.8 L1683.6,2211.8 L1685.1,2211.8 L1686.6,2211.8 L1688.1,2211.8 L1689.6,2211.7 L1691.1,2211.7 L1692.6,2211.7 L1694.1,2211.7 L1695.6,2211.7 L1697.1,2211.7 L1698.6,2211.6 L1700.1,2211.6 L1701.6,2211.5 L1703.1,2211.5 L1704.6,2211.4 L1706.1,2211.3 L1707.6,2211.2 L1709.0,2211.1 L1710.5,2211.0 L1712.0,2210.9 L1713.5,2210.8 L1715.0,2210.6 L1716.5,2210.5 L1718.0,2210.3 L1719.5,2210.1 L1721.0,2210.0 L1722.5,2209.8 L1724.0,2209.6 L1725.5,2209.4 L1727.0,2209.2 L1728.5,2209.0 L1730.0,2208.9 L1731.5,2208.7 L1732.9,2208.5 L1734.4,2208.3 L1735.9,2208.1 L1737.4,2207.9 L1738.9,2207.7 L1740.4,2207.6 L1741.9,2207.4 L1743.4,2207.2 L1744.9,2207.0 L1746.4,2206.9 L1747.9,2206.7 L1749.4,2206.5 L1750.9,2206.4 L1752.4,2206.2 L1753.9,2206.0 L1755.4,2205.9 L1756.8,2205.7 L1758.3,2205.5 L1759.8,2205.4 L1761.3,2205.2 L1762.8,2205.0 L1764.3,2204.8 L1765.8,2204.7 L1767.3,2204.5 L1768.8,2204.3 L1770.3,2204.1 L1771.8,2203.9 L1773.3,2203.7 L1774.8,2203.5 L1776.3,2203.3 L1777.8,2203.1 L1779.3,2202.9 L1780.7,2202.7 L1782.2,2202.5 L1783.7,2202.3 L1785.2,2202.1 L1786.7,2201.8 L1788.2,2201.6 L1789.7,2201.4 L1791.2,2201.1 L1792.7,2200.9 L1794.2,2200.6 L1795.7,2200.4 L1797.2,2200.1 L1798.7,2199.8 L1800.2,2199.5 L1801.7,2199.2 L1803.2,2198.9 L1804.6,2198.6 L1806.1,2198.3 L1807.6,2198.0 L1809.1,2197.7 L1810.6,2197.4 L1812.1,2197.1 L1813.6,2196.7 L1815.1,2196.4 L1816.6,2196.1 L1818.1,2195.7 L1819.6,2195.4 L1821.1,2195.0 L1822.6,2194.7 L1824.1,2194.3 L1825.6,2194.0 L1827.1,2193.7 L1828.5,2193.3 L1830.0,2192.9 L1831.5,2192.6 L1833.0,2192.2 L1834.5,2191.7 L1836.0,2191.2 L1837.5,2190.7 L1839.0,2190.1 L1840.5,2189.4 L1842.0,2188.6 L1843.5,2187.8 L1845.0,2186.8 L1846.5,2185.7 L1848.0,2184.6 L1849.5,2183.4 L1851.0,2182.2 L1852.4,2180.9 L1853.9,2179.6 L1855.4,2178.2 L1856.9,2176.8 L1858.4,2175.2 L1859.9,2173.5 L1861.4,2171.6 L1862.9,2169.6 L1864.4,2167.5 L1865.9,2165.4 L1867.4,2163.2 L1868.9,2160.9 L1870.4,2158.5 L1871.9,2156.1 L1873.4,2153.6 L1874.9,2151.0 L1876.3,2148.3 L1877.8,2145.5 L1879.3,2142.5 L1880.8,2139.5 L1882.3,2136.3 L1883.8,2133.2 L1885.3,2130.0 L1886.8,2126.7 L1888.3,2123.4 L1889.8,2120.1 L1891.3,2116.8 L1892.8,2113.5 L1894.3,2110.3 L1895.8,2107.0 L1897.3,2103.7 L1898.8,2100.4 L1900.3,2097.2 L1901.7,2093.9 L1903.2,2090.6 L1904.7,2087.3 L1906.2,2083.9 L1907.7,2080.6 L1909.2,2077.2 L1910.7,2073.8 L1912.2,2070.4 L1913.7,2067.1 L1915.2,2063.8 L1916.7,2060.6 L1918.2,2057.4 L1919.7,2054.2 L1921.2,2051.1 L1922.7,2047.9 L1924.2,2044.7 L1925.6,2041.5 L1927.1,2038.2 L1928.6,2035.0 L1930.1,2031.7 L1931.6,2028.4 L1933.1,2025.1 L1934.6,2021.8 L1936.1,2018.5 L1937.6,2015.2 L1939.1,2011.8 L1940.6,2008.5 L1942.1,2005.1 L1943.6,2001.8 L1945.1,1998.5 L1946.6,1995.1 L1948.1,1991.8 L1949.5,1988.5 L1951.0,1985.2 L1952.5,1981.9 L1954.0,1978.7 L1955.5,1975.4 L1957.0,1972.2 L1958.5,1968.9 L1960.0,1965.7 L1961.5,1962.5 L1963.0,1959.2 L1964.5,1956.0 L1966.0,1952.8 L1967.5,1949.6 L1969.0,1946.4 L1970.5,1943.2 L1972.0,1939.9 L1973.4,1936.7 L1974.9,1933.6 L1976.4,1930.4 L1977.9,1927.2 L1979.4,1924.0 L1980.9,1920.8 L1982.4,1917.6 L1983.9,1914.5 L1985.4,1911.3 L1986.9,1908.1 L1988.4,1905.0 L1989.9,1901.8 L1991.4,1898.7 L1992.9,1895.5 L1994.4,1892.4 L1995.9,1889.2 L1997.3,1886.1 L1998.8,1883.0 L2000.3,1879.8 L2001.8,1876.7 L2003.3,1873.6 L2004.8,1870.5 L2006.3,1867.4 L2007.8,1864.2 L2009.3,1861.1 L2010.8,1858.0 L2012.3,1854.9 L2013.8,1851.9 L2015.3,1848.8 L2016.8,1845.7 L2018.3,1842.6 L2019.8,1839.5 L2021.2,1836.4 L2022.7,1833.4 L2024.2,1830.3 L2025.7,1827.3 L2027.2,1824.2 L2028.7,1821.1 L2030.2,1818.1 L2031.7,1815.1 L2033.2,1812.0 L2034.7,1809.0 L2036.2,1805.9 L2037.7,1802.9 L2039.2,1799.9 L2040.7,1796.9 L2042.2,1793.9 L2043.7,1790.8 L2045.1,1787.8 L2046.6,1784.8 L2048.1,1781.8 L2049.6,1778.8 L2051.1,1775.8 L2052.6,1772.9 L2054.1,1769.9 L2055.6,1766.9 L2057.1,1763.9 L2058.6,1760.9 L2060.1,1758.0 L2061.6,1755.0 L2063.1,1752.0 L2064.6,1749.1 L2066.1,1746.1 L2067.6,1743.2 L2069.0,1740.2 L2070.5,1737.3 L2072.0,1734.4 L2073.5,1731.4 L2075.0,1728.5 L2076.5,1725.6 L2078.0,1722.7 L2079.5,1719.7 L2081.0,1716.8" stroke="#000000"/>
<path d="M1334.1,2259.6 L1335.6,2259.4 L1337.1,2259.3 L1338.6,2259.3 L1340.1,2259.2 L1341.6,2259.2 L1343.1,2259.1 L1344.6,2259.0 L1346.1,2258.9 L1347.5,2258.8 L1349.0,2258.7 L1350.5,2258.5 L1352.0,2258.4 L1353.5,2258.2 L1355.0,2257.9 L1356.5,2257.5 L1358.0,2257.0 L1359.5,2256.4 L1361.0,2255.7 L1362.5,2255.0 L1364.0,2254.1 L1365.5,2253.2 L1367.0,2252.1 L1368.5,2250.9 L1370.0,2249.4 L1371.4,2247.8 L1372.9,2246.1 L1374.4,2244.3 L1375.9,2242.5 L1377.4,2240.8 L1378.9,2239.0 L1380.4,2237.1 L1381.9,2235.2 L1383.4,2233.2 L1384.9,2231.1 L1386.4,2229.0 L1387.9,2226.7 L1389.4,2224.4 L1390.9,2221.8 L1392.4,2219.3 L1393.9,2216.7 L1395.3,2214.3 L1396.8,2211.9 L1398.3,2209.6 L1399.8,2207.4 L1401.3,2205.3 L1402.8,2203.3 L1404.3,2201.4 L1405.8,2199.6 L1407.3,2197.8 L1408.8,2196.1 L1410.3,2194.4 L1411.8,2192.9 L1413.3,2191.6 L1414.8,2190.5 L1416.3,2189.6 L1417.8,2188.8 L1419.2,2188.1 L1420.7,2187.5 L1422.2,2186.9 L1423.7,2186.4 L1425.2,2186.0 L1426.7,2185.5 L1428.2,2185.1 L1429.7,2184.8 L1431.2,2184.4 L1432.7,2184.1 L1434.2,2183.9 L1435.7,2183.6 L1437.2,2183.4 L1438.7,2183.2 L1440.2,2183.0 L1441.7,2182.8 L1443.1,2182.6 L1444.6,2182.5 L1446.1,2182.3 L1447.6,2182.1 L1449.1,2182.0 L1450.6,2181.9 L1452.1,2181.7 L1453.6,2181.6 L1455.1,2181.5 L1456.6,2181.5 L1458.1,2181.4 L1459.6,2181.4 L1461.1,2181.4 L1462.6,2181.4 L1464.1,2181.4 L1465.6,2181.4 L1467.0,2181.4 L1468.5,2181.4 L1470.0,2181.4 L1471.5,2181.4 L1473.0,2181.3 L1474.5,2181.3 L1476.0,2181.3 L1477.5,2181.3 L1479.0,2181.3 L1480.5,2181.3 L1482.0,2181.3 L1483.5,2181.3 L1485.0,2181.3 L1486.5,2181.3 L1488.0,2181.3 L1489.5,2181.3 L1490.9,2181.3 L1492.4,2181.3 L1493.9,2181.3 L1495.4,2181.3 L1496.9,2181.3 L1498.4,2181.3 L1499.9,2181.3 L1501.4,2181.3 L1502.9,2181.3 L1504.4,2181.3 L1505.9,2181.3 L1507.4,2181.3 L1508.9,2181.3 L1510.4,2181.3 L1511.9,2181.3 L1513.4,2181.3 L1514.8,2181.3 L1516.3,2181.3 L1517.8,2181.3 L1519.3,2181.3 L1520.8,2181.3 L1522.3,2181.3 L1523.8,2181.3 L1525.3,2181.3 L1526.8,2181.3 L1528.3,2181.3 L1529.8,2181.3 L1531.3,2181.3 L1532.8,2181.3 L1534.3,2181.3 L1535.8,2181.2 L1537.3,2181.2 L1538.8,2181.2 L1540.2,2181.2 L1541.7,2181.2 L1543.2,2181.2 L1544.7,2181.2 L1546.2,2181.2 L1547.7,2181.2 L1549.2,2181.2 L1550.7,2181.2 L1552.2,2181.2 L1553.7,2181.2 L1555.2,2181.2 L1556.7,2181.2 L1558.2,2181.2 L1559.7,2181.2 L1561.2,2181.2 L1562.7,2181.2 L1564.1,2181.2 L1565.6,2181.2 L1567.1,2181.2 L1568.6,2181.2 L1570.1,2181.2 L1571.6,2181.2 L1573.1,2181.2 L1574.6,2181.1 L1576.1,2181.1 L1577.6,2181.1 L1579.1,2181.1 L1580.6,2181.1 L1582.1,2181.1 L1583.6,2181.1 L1585.1,2181.1 L1586.6,2181.1 L1588.0,2181.1 L1589.5,2181.1 L1591.0,2181.1 L1592.5,2181.1 L1594.0,2181.1 L1595.5,2181.1 L1597.0,2181.1 L1598.5,2181.1 L1600.0,2181.1 L1601.5,2181.1 L1603.0,2181.1 L1604.5,2181.0 L1606.0,2181.0 L1607.5,2181.0 L1609.0,2181.0 L1610.5,2181.0 L1611.9,2181.0 L1613.4,2181.0 L1614.9,2181.0 L1616.4,2181.0 L1617.9,2181.0 L1619.4,2181.0 L1620.9,2181.0 L1622.4,2181.0 L1623.9,2181.0 L1625.4,2181.0 L1626.9,2180.9 L1628.4,2180.9 L1629.9,2180.9 L1631.4,2180.9 L1632.9,2180.9 L1634.4,2180.9 L1635.8,2180.9 L1637.3,2180.9 L1638.8,2180.9 L1640.3,2180.9 L1641.8,2180.9 L1643.3,2180.8 L1644.8,2180.8 L1646.3,2180.8 L1647.8,2180.8 L1649.3,2180.8 L1650.8,2180.8 L1652.3,2180.8 L1653.8,2180.8 L1655.3,2180.8 L1656.8,2180.7 L1658.3,2180.7 L1659.7,2180.7 L1661.2,2180.7 L1662.7,2180.7 L1664.2,2180.7 L1665.7,2180.7 L1667.2,2180.7 L1668.7,2180.6 L1670.2,2180.6 L1671.7,2180.6 L1673.2,2180.6 L1674.7,2180.6 L1676.2,2180.6 L1677.7,2180.6 L1679.2,2180.5 L1680.7,2180.5 L1682.2,2180.5 L1683.6,2180.5 L1685.1,2180.5 L1686.6,2180.5 L1688.1,2180.4 L1689.6,2180.4 L1691.1,2180.4 L1692.6,2180.4 L1694.1,2180.4 L1695.6,2180.3 L1697.1,2180.3 L1698.6,2180.3 L1700.1,2180.2 L1701.6,2180.1 L1703.1,2180.1 L1704.6,2180.0 L1706.1,2179.9 L1707.6,2179.7 L1709.0,2179.6 L1710.5,2179.4 L1712.0,2179.2 L1713.5,2179.1 L1715.0,2178.8 L1716.5,2178.6 L1718.0,2178.4 L1719.5,2178.2 L1721.0,2177.9 L1722.5,2177.7 L1724.0,2177.4 L1725.5,2177.2 L1727.0,2176.9 L1728.5,2176.7 L1730.0,2176.4 L1731.5,2176.2 L1732.9,2175.9 L1734.4,2175.6 L1735.9,2175.4 L1737.4,2175.1 L1738.9,2174.9 L1740.4,2174.7 L1741.9,2174.4 L1743.4,2174.2 L1744.9,2174.0 L1746.4,2173.7 L1747.9,2173.5 L1749.4,2173.3 L1750.9,2173.1 L1752.4,2172.9 L1753.9,2172.6 L1755.4,2172.4 L1756.8,2172.2 L1758.3,2172.0 L1759.8,2171.8 L1761.3,2171.5 L1762.8,2171.3 L1764.3,2171.1 L1765.8,2170.9 L1767.3,2170.6 L1768.8,2170.4 L1770.3,2170.2 L1771.8,2169.9 L1773.3,2169.7 L1774.8,2169.5 L1776.3,2169.2 L1777.8,2169.0 L1779.3,2168.7 L1780.7,2168.5 L1782.2,2168.2 L1783.7,2168.0 L1785.2,2167.7 L1786.7,2167.4 L1788.2,2167.2 L1789.7,2166.9 L1791.2,2166.6 L1792.7,2166.4 L1794.2,2166.1 L1795.7,2165.8 L1797.2,2165.5 L1798.7,2165.2 L1800.2,2165.0 L1801.7,2164.7 L1803.2,2164.4 L1804.6,2164.1 L1806.1,2163.8 L1807.6,2163.4 L1809.1,2163.1 L1810.6,2162.8 L1812.1,2162.5 L1813.6,2162.1 L1815.1,2161.8 L1816.6,2161.4 L1818.1,2161.0 L1819.6,2160.7 L1821.1,2160.3 L1822.6,2159.9 L1824.1,2159.5 L1825.6,2159.1 L1827.1,2158.7 L1828.5,2158.3 L1830.0,2157.8 L1831.5,2157.3 L1833.0,2156.8 L1834.5,2156.3 L1836.0,2155.7 L1837.5,2155.1 L1839.0,2154.4 L1840.5,2153.6 L1842.0,2152.7 L1843.5,2151.7 L1845.0,2150.7 L1846.5,2149.6 L1848.0,2148.4 L1849.5,2147.3 L1851.0,2146.1 L1852.4,2145.0 L1853.9,2143.7 L1855.4,2142.5 L1856.9,2141.1 L1858.4,2139.8 L1859.9,2138.3 L1861.4,2136.8 L1862.9,2135.1 L1864.4,2133.4 L1865.9,2131.6 L1867.4,2129.6 L1868.9,2127.5 L1870.4,2125.3 L1871.9,2122.9 L1873.4,2120.4 L1874.9,2117.7 L1876.3,2115.0 L1877.8,2112.1 L1879.3,2109.2 L1880.8,2106.3 L1882.3,2103.2 L1883.8,2100.2 L1885.3,2097.1 L1886.8,2093.9 L1888.3,2090.8 L1889.8,2087.6 L1891.3,2084.5 L1892.8,2081.4 L1894.3,2078.2 L1895.8,2075.1 L1897.3,2072.0 L1898.8,2068.8 L1900.3,2065.6 L1901.7,2062.3 L1903.2,2059.1 L1904.7,2055.9 L1906.2,2052.7 L1907.7,2049.6 L1909.2,2046.7 L1910.7,2043.8 L1912.2,2041.0 L1913.7,2038.3 L1915.2,2035.6 L1916.7,2033.0 L1918.2,2030.4 L1919.7,2027.9 L1921.2,2025.4 L1922.7,2022.9 L1924.2,2020.5 L1925.6,2018.0 L1927.1,2015.5 L1928.6,2013.0 L1930.1,2010.5 L1931.6,2008.0 L1933.1,2005.4 L1934.6,2002.7 L1936.1,2000.0 L1937.6,1997.2 L1939.1,1994.3 L1940.6,1991.2 L1942.1,1988.0 L1943.6,1984.8 L1945.1,1981.5 L1946.6,1978.1 L1948.1,1974.7 L1949.5,1971.3 L1951.0,1967.9 L1952.5,1964.6 L1954.0,1961.2 L1955.5,1957.8 L1957.0,1954.5 L1958.5,1951.1 L1960.0,1947.8 L1961.5,1944.4 L1963.0,1941.1 L1964.5,1937.7 L1966.0,1934.4 L1967.5,1931.0 L1969.0,1927.7 L1970.5,1924.4 L1972.0,1921.0 L1973.4,1917.7 L1974.9,1914.3 L1976.4,1911.0 L1977.9,1907.6 L1979.4,1904.3 L1980.9,1900.9 L1982.4,1897.6 L1983.9,1894.3 L1985.4,1890.9 L1986.9,1887.6 L1988.4,1884.2 L1989.9,1880.9 L1991.4,1877.6 L1992.9,1874.2 L1994.4,1870.9 L1995.9,1867.6 L1997.3,1864.2 L1998.8,1860.9 L2000.3,1857.6 L2001.8,1854.2 L2003.3,1850.9 L2004.8,1847.6 L2006.3,1844.2 L2007.8,1840.9 L2009.3,1837.6 L2010.8,1834.2 L2012.3,1830.9 L2013.8,1827.6 L2015.3,1824.2 L2016.8,1820.9 L2018.3,1817.6 L2019.8,1814.3 L2021.2,1810.9 L2022.7,1807.6 L2024.2,1804.3 L2025.7,1801.0 L2027.2,1797.6 L2028.7,1794.3 L2030.2,1791.0 L2031.7,1787.7 L2033.2,1784.4 L2034.7,1781.0 L2036.2,1777.7 L2037.7,1774.4 L2039.2,1771.1 L2040.7,1767.8 L2042.2,1764.5 L2043.7,1761.1 L2045.1,1757.8 L2046.6,1754.5 L2048.1,1751.2 L2049.6,1747.9 L2051.1,1744.6 L2052.6,1741.3 L2054.1,1737.9 L2055.6,1734.6 L2057.1,1731.3 L2058.6,1728.0 L2060.1,1724.7 L2061.6,1721.4 L2063.1,1718.1 L2064.6,1714.8 L2066.1,1711.5 L2067.6,1708.2 L2069.0,1704.9 L2070.5,1701.6 L2072.0,1698.3 L2073.5,1695.0 L2075.0,1691.7 L2076.5,1688.4 L2078.0,1685.1 L2079.5,1681.8 L2081.0,1678.5" stroke="#ff0000"/>
<path d="M1334.1,2259.6 L1335.6,2259.4 L1337.1,2259.3 L1338.6,2259.3 L1340.1,2259.2 L1341.6,2259.2 L1343.1,2259.1 L1344.6,2259.0 L1346.1,2258.9 L1347.5,2258.8 L1349.0,2258.7 L1350.5,2258.5 L1352.0,2258.4 L1353.5,2258.2 L1355.0,2257.9 L1356.5,2257.5 L1358.0,2257.0 L1359.5,2256.4 L1361.0,2255.7 L1362.5,2255.0 L1364.0,2254.1 L1365.5,2253.2 L1367.0,2252.1 L1368.5,2250.9 L1370.0,2249.4 L1371.4,2247.8 L1372.9,2246.1 L1374.4,2244.3 L1375.9,2242.5 L1377.4,2240.8 L1378.9,2239.0 L1380.4,2237.1 L1381.9,2235.2 L1383.4,2233.2 L1384.9,2231.1 L1386.4,2229.0 L1387.9,2226.7 L1389.4,2224.4 L1390.9,2221.8 L1392.4,2219.3 L1393.9,2216.7 L1395.3,2214.3 L1396.8,2211.9 L1398.3,2209.6 L1399.8,2207.4 L1401.3,2205.3 L1402.8,2203.3 L1404.3,2201.4 L1405.8,2199.6 L1407.3,2197.8 L1408.8,2196.1 L1410.3,2194.4 L1411.8,2192.9 L1413.3,2191.6 L1414.8,2190.5 L1416.3,2189.6 L1417.8,2188.8 L1419.2,2188.1 L1420.7,2187.5 L1422.2,2186.9 L1423.7,2186.4 L1425.2,2186.0 L1426.7,2185.5 L1428.2,2185.1 L1429.7,2184.8 L1431.2,2184.4 L1432.7,2184.1 L1434.2,2183.9 L1435.7,2183.6 L1437.2,2183.4 L1438.7,2183.2 L1440.2,2183.0 L1441.7,2182.8 L1443.1,2182.6 L1444.6,2182.5 L1446.1,2182.3 L1447.6,2182.1 L1449.1,2182.0 L1450.6,2181.9 L1452.1,2181.7 L1453.6,2181.6 L1455.1,2181.5 L1456.6,2181.5 L1458.1,2181.4 L1459.6,2181.4 L1461.1,2181.4 L1462.6,2181.4 L1464.1,2181.4 L1465.6,2181.4 L1467.0,2181.4 L1468.5,2181.4 L1470.0,2181.4 L1471.5,2181.4 L1473.0,2181.3 L1474.5,2181.3 L1476.0,2181.3 L1477.5,2181.3 L1479.0,2181.3 L1480.5,2181.3 L1482.0,2181.3 L1483.5,2181.3 L1485.0,2181.3 L1486.5,2181.3 L1488.0,2181.3 L1489.5,2181.3 L1490.9,2181.3 L1492.4,2181.3 L1493.9,2181.3 L1495.4,2181.3 L1496.9,2181.3 L1498.4,2181.3 L1499.9,2181.3 L1501.4,2181.3 L1502.9,2181.3 L1504.4,2181.3 L1505.9,2181.3 L1507.4,2181.3 L1508.9,2181.3 L1510.4,2181.3 L1511.9,2181.3 L1513.4,2181.3 L1514.8,2181.3 L1516.3,2181.3 L1517.8,2181.3 L1519.3,2181.3 L1520.8,2181.3 L1522.3,2181.3 L1523.8,2181.3 L1525.3,2181.3 L1526.8,2181.3 L1528.3,2181.3 L1529.8,2181.3 L1531.3,2181.3 L1532.8,2181.3 L1534.3,2181.3 L1535.8,2181.2 L1537.3,2181.2 L1538.8,2181.2 L1540.2,2181.2 L1541.7,2181.2 L1543.2,2181.2 L1544.7,2181.2 L1546.2,2181.2 L1547.7,2181.2 L1549.2,2181.2 L1550.7,2181.2 L1552.2,2181.2 L1553.7,2181.2 L1555.2,2181.2 L1556.7,2181.2 L1558.2,2181.2 L1559.7,2181.2 L1561.2,2181.2 L1562.7,2181.2 L1564.1,2181.2 L1565.6,2181.2 L1567.1,2181.2 L1568.6,2181.2 L1570.1,2181.2 L1571.6,2181.2 L1573.1,2181.2 L1574.6,2181.1 L1576.1,2181.1 L1577.6,2181.1 L1579.1,2181.1 L1580.6,2181.1 L1582.1,2181.1 L1583.6,2181.1 L1585.1,2181.1 L1586.6,2181.1 L1588.0,2181.1 L1589.5,2181.1 L1591.0,2181.1 L1592.5,2181.1 L1594.0,2181.1 L1595.5,2181.1 L1597.0,2181.1 L1598.5,2181.1 L1600.0,2181.1 L1601.5,2181.1 L1603.0,2181.1 L1604.5,2181.0 L1606.0,2181.0 L1607.5,2181.0 L1609.0,2181.0 L1610.5,2181.0 L1611.9,2181.0 L1613.4,2181.0 L1614.9,2181.0 L1616.4,2181.0 L1617.9,2181.0 L1619.4,2181.0 L1620.9,2181.0 L1622.4,2181.0 L1623.9,2181.0 L1625.4,2181.0 L1626.9,2180.9 L1628.4,2180.9 L1629.9,2180.9 L1631.4,2180.9 L1632.9,2180.9 L1634.4,2180.9 L1635.8,2180.9 L1637.3,2180.9 L1638.8,2180.9 L1640.3,2180.9 L1641.8,2180.9 L1643.3,2180.8 L1644.8,2180.8 L1646.3,2180.8 L1647.8,2180.8 L1649.3,2180.8 L1650.8,2180.8 L1652.3,2180.8 L1653.8,2180.8 L1655.3,2180.8 L1656.8,2180.7 L1658.3,2180.7 L1659.7,2180.7 L1661.2,2180.7 L1662.7,2180.7 L1664.2,2180.7 L1665.7,2180.7 L1667.2,2180.7 L1668.7,2180.6 L1670.2,2180.6 L1671.7,2180.6 L1673.2,2180.6 L1674.7,2180.6 L1676.2,2180.6 L1677.7,2180.6 L1679.2,2180.5 L1680.7,2180.5 L1682.2,2180.5 L1683.6,2180.5 L1685.1,2180.5 L1686.6,2180.5 L1688.1,2180.4 L1689.6,2180.4 L1691.1,2180.4 L1692.6,2180.4 L1694.1,2180.4 L1695.6,2180.3 L1697.1,2180.3 L1698.6,2180.3 L1700.1,2180.2 L1701.6,2180.1 L1703.1,2180.1 L1704.6,2180.0 L1706.1,2179.9 L1707.6,2179.7 L1709.0,2179.6 L1710.5,2179.4 L1712.0,2179.2 L1713.5,2179.1 L1715.0,2178.8 L1716.5,2178.6 L1718.0,2178.4 L1719.5,2178.2 L1721.0,2177.9 L1722.5,2177.7 L1724.0,2177.4 L1725.5,2177.2 L1727.0,2176.9 L1728.5,2176.7 L1730.0,2176.4 L1731.5,2176.2 L1732.9,2175.9 L1734.4,2175.6 L1735.9,2175.4 L1737.4,2175.1 L1738.9,2174.9 L1740.4,2174.7 L1741.9,2174.4 L1743.4,2174.2 L1744.9,2174.0 L1746.4,2173.7 L1747.9,2173.5 L1749.4,2173.3 L1750.9,2173.1 L1752.4,2172.9 L1753.9,2172.6 L1755.4,2172.4 L1756.8,2172.2 L1758.3,2172.0 L1759.8,2171.8 L1761.3,2171.5 L1762.8,2171.3 L1764.3,2171.1 L1765.8,2170.9 L1767.3,2170.6 L1768.8,2170.4 L1770.3,2170.2 L1771.8,2169.9 L1773.3,2169.7 L1774.8,2169.5 L1776.3,2169.2 L1777.8,2169.0 L1779.3,2168.7 L1780.7,2168.5 L1782.2,2168.2 L1783.7,2168.0 L1785.2,2167.7 L1786.7,2167.4 L1788.2,2167.2 L1789.7,2166.9 L1791.2,2166.6 L1792.7,2166.4 L1794.2,2166.1 L1795.7,2165.8 L1797.2,2165.5 L1798.7,2165.2 L1800.2,2165.0 L1801.7,2164.7 L1803.2,2164.4 L1804.6,2164.1 L1806.1,2163.8 L1807.6,2163.4 L1809.1,2163.1 L1810.6,2162.8 L1812.1,2162.5 L1813.6,2162.1 L1815.1,2161.8 L1816.6,2161.4 L1818.1,2161.0 L1819.6,2160.7 L1821.1,2160.3 L1822.6,2159.9 L1824.1,2159.5 L1825.6,2159.1 L1827.1,2158.7 L1828.5,2158.3 L1830.0,2157.8 L1831.5,2157.3 L1833.0,2156.8 L1834.5,2156.3 L1836.0,2155.7 L1837.5,2155.1 L1839.0,2154.4 L1840.5,2153.6 L1842.0,2152.7 L1843.5,2151.7 L1845.0,2150.7 L1846.5,2149.6 L1848.0,2148.4 L1849.5,2147.3 L1851.0,2146.1 L1852.4,2145.0 L1853.9,2143.7 L1855.4,2142.5 L1856.9,2141.1 L1858.4,2139.8 L1859.9,2138.3 L1861.4,2136.8 L1862.9,2135.1 L1864.4,2133.4 L1865.9,2131.6 L1867.4,2129.6 L1868.9,2127.5 L1870.4,2125.3 L1871.9,2122.9 L1873.4,2120.4 L1874.9,2117.7 L1876.3,2115.0 L1877.8,2112.1 L1879.3,2109.2 L1880.8,2106.3 L1882.3,2103.2 L1883.8,2100.2 L1885.3,2097.1 L1886.8,2093.9 L1888.3,2090.8 L1889.8,2087.6 L1891.3,2084.5 L1892.8,2081.4 L1894.3,2078.2 L1895.8,2075.1 L1897.3,2072.0 L1898.8,2068.8 L1900.3,2065.6 L1901.7,2062.4 L1903.2,2059.1 L1904.7,2055.9 L1906.2,2052.7 L1907.7,2049.6 L1909.2,2046.6 L1910.7,2043.6 L1912.2,2040.7 L1913.7,2037.9 L1915.2,2035.2 L1916.7,2032.4 L1918.2,2029.7 L1919.7,2027.1 L1921.2,2024.5 L1922.7,2021.8 L1924.2,2019.2 L1925.6,2016.6 L1927.1,2013.9 L1928.6,2011.3 L1930.1,2008.6 L1931.6,2005.9 L1933.1,2003.1 L1934.6,2000.3 L1936.1,1997.4 L1937.6,1994.4 L1939.1,1991.3 L1940.6,1988.1 L1942.1,1984.8 L1943.6,1981.5 L1945.1,1978.1 L1946.6,1974.7 L1948.1,1971.3 L1949.5,1967.9 L1951.0,1964.5 L1952.5,1961.2 L1954.0,1957.8 L1955.5,1954.4 L1957.0,1951.0 L1958.5,1947.7 L1960.0,1944.3 L1961.5,1941.0 L1963.0,1937.6 L1964.5,1934.2 L1966.0,1930.9 L1967.5,1927.5 L1969.0,1924.2 L1970.5,1920.8 L1972.0,1917.5 L1973.4,1914.1 L1974.9,1910.8 L1976.4,1907.4 L1977.9,1904.1 L1979.4,1900.7 L1980.9,1897.4 L1982.4,1894.0 L1983.9,1890.7 L1985.4,1887.4 L1986.9,1884.0 L1988.4,1880.7 L1989.9,1877.4 L1991.4,1874.0 L1992.9,1870.7 L1994.4,1867.4 L1995.9,1864.0 L1997.3,1860.7 L1998.8,1857.4 L2000.3,1854.1 L2001.8,1850.7 L2003.3,1847.4 L2004.8,1844.1 L2006.3,1840.8 L2007.8,1837.5 L2009.3,1834.2 L2010.8,1830.8 L2012.3,1827.5 L2013.8,1824.2 L2015.3,1820.9 L2016.8,1817.6 L2018.3,1814.3 L2019.8,1811.0 L2021.2,1807.7 L2022.7,1804.4 L2024.2,1801.1 L2025.7,1797.8 L2027.2,1794.5 L2028.7,1791.2 L2030.2,1787.9 L2031.7,1784.6 L2033.2,1781.3 L2034.7,1778.1 L2036.2,1774.8 L2037.7,1771.5 L2039.2,1768.2 L2040.7,1764.9 L2042.2,1761.6 L2043.7,1758.4 L2045.1,1755.1 L2046.6,1751.8 L2048.1,1748.5 L2049.6,1745.3 L2051.1,1742.0 L2052.6,1738.7 L2054.1,1735.5 L2055.6,1732.2 L2057.1,1728.9 L2058.6,1725.7 L2060.1,1722.4 L2061.6,1719.2 L2063.1,1715.9 L2064.6,1712.6 L2066.1,1709.4 L2067.6,1706.1 L2069.0,1702.9 L2070.5,1699.6 L2072.0,1696.4 L2073.5,1693.1 L2075.0,1689.9 L2076.5,1686.6 L2078.0,1683.4 L2079.5,1680.2 L2081.0,1676.9" stroke="#00ff00"/>
<path d="M1334.1,2259.6 L1335.6,2259.4 L1337.1,2259.3 L1338.6,2259.3 L1340.1,2259.2 L1341.6,2259.2 L1343.1,2259.1 L1344.6,2259.0 L1346.1,2258.9 L1347.5,2258.8 L1349.0,2258.7 L1350.5,2258.5 L1352.0,2258.4 L1353.5,2258.2 L1355.0,2257.9 L1356.5,2257.5 L1358.0,2257.0 L1359.5,2256.4 L1361.0,2255.7 L1362.5,2255.0 L1364.0,2254.1 L1365.5,2253.2 L1367.0,2252.1 L1368.5,2250.9 L1370.0,2249.4 L1371.4,2247.8 L1372.9,2246.1 L1374.4,2244.3 L1375.9,2242.5 L1377.4,2240.8 L1378.9,2239.0 L1380.4,2237.1 L1381.9,2235.2 L1383.4,2233.2 L1384.9,2231.1 L1386.4,2229.0 L1387.9,2226.7 L1389.4,2224.4 L1390.9,2221.8 L1392.4,2219.3 L1393.9,2216.7 L1395.3,2214.3 L1396.8,2211.9 L1398.3,2209.6 L1399.8,2207.4 L1401.3,2205.3 L1402.8,2203.3 L1404.3,2201.4 L1405.8,2199.6 L1407.3,2197.8 L1408.8,2196.1 L1410.3,2194.4 L1411.8,2192.9 L1413.3,2191.6 L1414.8,2190.5 L1416.3,2189.6 L1417.8,2188.8 L1419.2,2188.1 L1420.7,2187.5 L1422.2,2186.9 L1423.7,2186.4 L1425.2,2186.0 L1426.7,2185.5 L1428.2,2185.1 L1429.7,2184.8 L1431.2,2184.4 L1432.7,2184.1 L1434.2,2183.9 L1435.7,2183.6 L1437.2,2183.4 L1438.7,2183.2 L1440.2,2183.0 L1441.7,2182.8 L1443.1,2182.6 L1444.6,2182.5 L1446.1,2182.3 L1447.6,2182.1 L1449.1,2182.0 L1450.6,2181.9 L1452.1,2181.7 L1453.6,2181.6 L1455.1,2181.5 L1456.6,2181.5 L1458.1,2181.4 L1459.6,2181.4 L1461.1,2181.4 L1462.6,2181.4 L1464.1,2181.4 L1465.6,2181.4 L1467.0,2181.4 L1468.5,2181.4 L1470.0,2181.4 L1471.5,2181.4 L1473.0,2181.3 L1474.5,2181.3 L1476.0,2181.3 L1477.5,2181.3 L1479.0,2181.3 L1480.5,2181.3 L1482.0,2181.3 L1483.5,2181.3 L1485.0,2181.3 L1486.5,2181.3 L1488.0,2181.3 L1489.5,2181.3 L1490.9,2181.3 L1492.4,2181.3 L1493.9,2181.3 L1495.4,2181.3 L1496.9,2181.3 L1498.4,2181.3 L1499.9,2181.3 L1501.4,2181.3 L1502.9,2181.3 L1504.4,2181.3 L1505.9,2181.3 L1507.4,2181.3 L1508.9,2181.3 L1510.4,2181.3 L1511.9,2181.3 L1513.4,2181.3 L1514.8,2181.3 L1516.3,2181.3 L1517.8,2181.3 L1519.3,2181.3 L1520.8,2181.3 L1522.3,2181.3 L1523.8,2181.3 L1525.3,2181.3 L1526.8,2181.3 L1528.3,2181.3 L1529.8,2181.3 L1531.3,2181.3 L1532.8,2181.3 L1534.3,2181.3 L1535.8,2181.2 L1537.3,2181.2 L1538.8,2181.2 L1540.2,2181.2 L1541.7,2181.2 L1543.2,2181.2 L1544.7,2181.2 L1546.2,2181.2 L1547.7,2181.2 L1549.2,2181.2 L1550.7,2181.2 L1552.2,2181.2 L1553.7,2181.2 L1555.2,2181.2 L1556.7,2181.2 L1558.2,2181.2 L1559.7,2181.2 L1561.2,2181.2 L1562.7,2181.2 L1564.1,2181.2 L1565.6,2181.2 L1567.1,2181.2 L1568.6,2181.2 L1570.1,2181.2 L1571.6,2181.2 L1573.1,2181.2 L1574.6,2181.1 L1576.1,2181.1 L1577.6,2181.1 L1579.1,2181.1 L1580.6,2181.1 L1582.1,2181.1 L1583.6,2181.1 L1585.1,2181.1 L1586.6,2181.1 L1588.0,2181.1 L1589.5,2181.1 L1591.0,2181.1 L1592.5,2181.1 L1594.0,2181.1 L1595.5,2181.1 L1597.0,2181.1 L1598.5,2181.1 L1600.0,2181.1 L1601.5,2181.1 L1603.0,2181.1 L1604.5,2181.0 L1606.0,2181.0 L1607.5,2181.0 L1609.0,2181.0 L1610.5,2181.0 L1611.9,2181.0 L1613.4,2181.0 L1614.9,2181.0 L1616.4,2181.0 L1617.9,2181.0 L1619.4,2181.0 L1620.9,2181.0 L1622.4,2181.0 L1623.9,2181.0 L1625.4,2181.0 L1626.9,2180.9 L1628.4,2180.9 L1629.9,2180.9 L1631.4,2180.9 L1632.9,2180.9 L1634.4,2180.9 L1635.8,2180.9 L1637.3,2180.9 L1638.8,2180.9 L1640.3,2180.9 L1641.8,2180.9 L1643.3,2180.8 L1644.8,2180.8 L1646.3,2180.8 L1647.8,2180.8 L1649.3,2180.8 L1650.8,2180.8 L1652.3,2180.8 L1653.8,2180.8 L1655.3,2180.8 L1656.8,2180.7 L1658.3,2180.7 L1659.7,2180.7 L1661.2,2180.7 L1662.7,2180.7 L1664.2,2180.7 L1665.7,2180.7 L1667.2,2180.7 L1668.7,2180.6 L1670.2,2180.6 L1671.7,2180.6 L1673.2,2180.6 L1674.7,2180.6 L1676.2,2180.6 L1677.7,2180.6 L1679.2,2180.5 L1680.7,2180.5 L1682.2,2180.5 L1683.6,2180.5 L1685.1,2180.5 L1686.6,2180.5 L1688.1,2180.4 L1689.6,2180.4 L1691.1,2180.4 L1692.6,2180.4 L1694.1,2180.4 L1695.6,2180.3 L1697.1,2180.3 L1698.6,2180.3 L1700.1,2180.2 L1701.6,2180.1 L1703.1,2180.1 L1704.6,2180.0 L1706.1,2179.9 L1707.6,2179.7 L1709.0,2179.6 L1710.5,2179.4 L1712.0,2179.2 L1713.5,2179.1 L1715.0,2178.8 L1716.5,2178.6 L1718.0,2178.4 L1719.5,2178.2 L1721.0,2177.9 L1722.5,2177.7 L1724.0,2177.4 L1725.5,2177.2 L1727.0,2176.9 L1728.5,2176.7 L1730.0,2176.4 L1731.5,2176.2 L1732.9,2175.9 L1734.4,2175.6 L1735.9,2175.4 L1737.4,2175.1 L1738.9,2174.9 L1740.4,2174.7 L1741.9,2174.4 L1743.4,2174.2 L1744.9,2174.0 L1746.4,2173.7 L1747.9,2173.5 L1749.4,2173.3 L1750.9,2173.1 L1752.4,2172.9 L1753.9,2172.6 L1755.4,2172.4 L1756.8,2172.2 L1758.3,2172.0 L1759.8,2171.8 L1761.3,2171.5 L1762.8,2171.3 L1764.3,2171.1 L1765.8,2170.9 L1767.3,2170.6 L1768.8,2170.4 L1770.3,2170.2 L1771.8,2169.9 L1773.3,2169.7 L1774.8,2169.5 L1776.3,2169.2 L1777.8,2169.0 L1779.3,2168.7 L1780.7,2168.5 L1782.2,2168.2 L1783.7,2168.0 L1785.2,2167.7 L1786.7,2167.4 L1788.2,2167.2 L1789.7,2166.9 L1791.2,2166.6 L1792.7,2166.4 L1794.2,2166.1 L1795.7,2165.8 L1797.2,2165.5 L1798.7,2165.2 L1800.2,2165.0 L1801.7,2164.7 L1803.2,2164.4 L1804.6,2164.1 L1806.1,2163.8 L1807.6,2163.4 L1809.1,2163.1 L1810.6,2162.8 L1812.1,2162.5 L1813.6,2162.1 L1815.1,2161.8 L1816.6,2161.4 L1818.1,2161.0 L1819.6,2160.7 L1821.1,2160.3 L1822.6,2159.9 L1824.1,2159.5 L1825.6,2159.1 L1827.1,2158.7 L1828.5,2158.3 L1830.0,2157.8 L1831.5,2157.3 L1833.0,2156.8 L1834.5,2156.3 L1836.0,2155.7 L1837.5,2155.1 L1839.0,2154.4 L1840.5,2153.6 L1842.0,2152.7 L1843.5,2151.7 L1845.0,2150.7 L1846.5,2149.6 L1848.0,2148.5 L1849.5,2147.3 L1851.0,2146.2 L1852.4,2145.0 L1853.9,2143.8 L1855.4,2142.5 L1856.9,2141.0 L1858.4,2139.4 L1859.9,2137.6 L1861.4,2135.6 L1862.9,2133.5 L1864.4,2131.3 L1865.9,2129.0 L1867.4,2126.6 L1868.9,2124.1 L1870.4,2121.6 L1871.9,2119.0 L1873.4,2116.3 L1874.9,2113.5 L1876.3,2110.7 L1877.8,2107.7 L1879.3,2104.8 L1880.8,2101.7 L1882.3,2098.6 L1883.8,2095.5 L1885.3,2092.4 L1886.8,2089.2 L1888.3,2086.1 L1889.8,2082.9 L1891.3,2079.8 L1892.8,2076.7 L1894.3,2073.5 L1895.8,2070.4 L1897.3,2067.2 L1898.8,2064.0 L1900.3,2060.8 L1901.7,2057.6 L1903.2,2054.3 L1904.7,2051.0 L1906.2,2047.7 L1907.7,2044.4 L1909.2,2041.1 L1910.7,2037.8 L1912.2,2034.5 L1913.7,2031.2 L1915.2,2027.9 L1916.7,2024.6 L1918.2,2021.3 L1919.7,2017.9 L1921.2,2014.6 L1922.7,2011.3 L1924.2,2007.9 L1925.6,2004.5 L1927.1,2001.2 L1928.6,1997.8 L1930.1,1994.4 L1931.6,1991.0 L1933.1,1987.5 L1934.6,1984.1 L1936.1,1980.6 L1937.6,1977.2 L1939.1,1973.8 L1940.6,1970.4 L1942.1,1967.0 L1943.6,1963.7 L1945.1,1960.4 L1946.6,1957.1 L1948.1,1953.7 L1949.5,1950.4 L1951.0,1947.1 L1952.5,1943.8 L1954.0,1940.4 L1955.5,1937.0 L1957.0,1933.7 L1958.5,1930.3 L1960.0,1926.9 L1961.5,1923.6 L1963.0,1920.2 L1964.5,1916.8 L1966.0,1913.5 L1967.5,1910.1 L1969.0,1906.8 L1970.5,1903.4 L1972.0,1900.0 L1973.4,1896.7 L1974.9,1893.3 L1976.4,1890.0 L1977.9,1886.6 L1979.4,1883.2 L1980.9,1879.9 L1982.4,1876.5 L1983.9,1873.2 L1985.4,1869.8 L1986.9,1866.5 L1988.4,1863.1 L1989.9,1859.8 L1991.4,1856.4 L1992.9,1853.1 L1994.4,1849.7 L1995.9,1846.4 L1997.3,1843.0 L1998.8,1839.7 L2000.3,1836.3 L2001.8,1833.0 L2003.3,1829.6 L2004.8,1826.3 L2006.3,1823.0 L2007.8,1819.6 L2009.3,1816.3 L2010.8,1812.9 L2012.3,1809.6 L2013.8,1806.2 L2015.3,1802.9 L2016.8,1799.6 L2018.3,1796.2 L2019.8,1792.9 L2021.2,1789.6 L2022.7,1786.2 L2024.2,1782.9 L2025.7,1779.6 L2027.2,1776.2 L2028.7,1772.9 L2030.2,1769.6 L2031.7,1766.2 L2033.2,1762.9 L2034.7,1759.6 L2036.2,1756.2 L2037.7,1752.9 L2039.2,1749.6 L2040.7,1746.2 L2042.2,1742.9 L2043.7,1739.6 L2045.1,1736.3 L2046.6,1732.9 L2048.1,1729.6 L2049.6,1726.3 L2051.1,1723.0 L2052.6,1719.7 L2054.1,1716.3 L2055.6,1713.0 L2057.1,1709.7 L2058.6,1706.4 L2060.1,1703.1 L2061.6,1699.7 L2063.1,1696.4 L2064.6,1693.1 L2066.1,1689.8 L2067.6,1686.5 L2069.0,1683.2 L2070.5,1679.9 L2072.0,1676.5 L2073.5,1673.2 L2075.0,1669.9 L2076.5,1666.6 L2078.0,1663.3 L2079.5,1660.0 L2081.0,1656.7" stroke="#0000ff"/>
<path d="M1334.1,2259.6 L1335.6,2259.4 L1337.1,2259.3 L1338.6,2259.3 L1340.1,2259.2 L1341.6,2259.2 L1343.1,2259.1 L1344.6,2259.0 L1346.1,2258.9 L1347.5,2258.8 L1349.0,2258.7 L1350.5,2258.5 L1352.0,2258.4 L1353.5,2258.2 L1355.0,2257.8 L1356.5,2257.4 L1358.0,2256.8 L1359.5,2256.1 L1361.0,2255.3 L1362.5,2254.5 L1364.0,2253.5 L1365.5,2252.4 L1367.0,2251.2 L1368.5,2249.8 L1370.0,2248.2 L1371.4,2246.5 L1372.9,2244.7 L1374.4,2243.0 L1375.9,2241.2 L1377.4,2239.4 L1378.9,2237.6 L1380.4,2235.7 L1381.9,2233.7 L1383.4,2231.7 L1384.9,2229.5 L1386.4,2227.3 L1387.9,2225.0 L1389.4,2222.5 L1390.9,2220.0 L1392.4,2217.4 L1393.9,2214.8 L1395.3,2212.2 L1396.8,2209.6 L1398.3,2207.0 L1399.8,2204.6 L1401.3,2202.3 L1402.8,2200.1 L1404.3,2198.0 L1405.8,2196.0 L1407.3,2194.2 L1408.8,2192.5 L1410.3,2190.9 L1411.8,2189.5 L1413.3,2188.2 L1414.8,2187.1 L1416.3,2186.1 L1417.8,2185.2 L1419.2,2184.4 L1420.7,2183.6 L1422.2,2183.0 L1423.7,2182.4 L1425.2,2181.9 L1426.7,2181.5 L1428.2,2181.1 L1429.7,2180.7 L1431.2,2180.4 L1432.7,2180.1 L1434.2,2179.8 L1435.7,2179.6 L1437.2,2179.4 L1438.7,2179.2 L1440.2,2179.0 L1441.7,2178.9 L1443.1,2178.7 L1444.6,2178.6 L1446.1,2178.4 L1447.6,2178.3 L1449.1,2178.2 L1450.6,2178.1 L1452.1,2178.0 L1453.6,2177.9 L1455.1,2177.8 L1456.6,2177.8 L1458.1,2177.7 L1459.6,2177.7 L1461.1,2177.7 L1462.6,2177.7 L1464.1,2177.7 L1465.6,2177.7 L1467.0,2177.7 L1468.5,2177.7 L1470.0,2177.7 L1471.5,2177.7 L1473.0,2177.7 L1474.5,2177.7 L1476.0,2177.7 L1477.5,2177.7 L1479.0,2177.7 L1480.5,2177.7 L1482.0,2177.7 L1483.5,2177.7 L1485.0,2177.7 L1486.5,2177.7 L1488.0,2177.7 L1489.5,2177.7 L1490.9,2177.7 L1492.4,2177.7 L1493.9,2177.7 L1495.4,2177.7 L1496.9,2177.7 L1498.4,2177.7 L1499.9,2177.7 L1501.4,2177.7 L1502.9,2177.7 L1504.4,2177.7 L1505.9,2177.7 L1507.4,2177.7 L1508.9,2177.7 L1510.4,2177.7 L1511.9,2177.7 L1513.4,2177.7 L1514.8,2177.7 L1516.3,2177.7 L1517.8,2177.7 L1519.3,2177.7 L1520.8,2177.7 L1522.3,2177.7 L1523.8,2177.7 L1525.3,2177.7 L1526.8,2177.7 L1528.3,2177.7 L1529.8,2177.7 L1531.3,2177.7 L1532.8,2177.7 L1534.3,2177.7 L1535.8,2177.7 L1537.3,2177.7 L1538.8,2177.7 L1540.2,2177.7 L1541.7,2177.7 L1543.2,2177.7 L1544.7,2177.7 L1546.2,2177.7 L1547.7,2177.7 L1549.2,2177.7 L1550.7,2177.7 L1552.2,2177.7 L1553.7,2177.7 L1555.2,2177.7 L1556.7,2177.7 L1558.2,2177.7 L1559.7,2177.7 L1561.2,2177.7 L1562.7,2177.7 L1564.1,2177.7 L1565.6,2177.7 L1567.1,2177.7 L1568.6,2177.7 L1570.1,2177.7 L1571.6,2177.7 L1573.1,2177.7 L1574.6,2177.7 L1576.1,2177.7 L1577.6,2177.7 L1579.1,2177.7 L1580.6,2177.7 L1582.1,2177.7 L1583.6,2177.7 L1585.1,2177.7 L1586.6,2177.7 L1588.0,2177.8 L1589.5,2177.8 L1591.0,2177.8 L1592.5,2177.8 L1594.0,2177.8 L1595.5,2177.8 L1597.0,2177.8 L1598.5,2177.8 L1600.0,2177.8 L1601.5,2177.8 L1603.0,2177.8 L1604.5,2177.8 L1606.0,2177.8 L1607.5,2177.8 L1609.0,2177.8 L1610.5,2177.8 L1611.9,2177.8 L1613.4,2177.8 L1614.9,2177.8 L1616.4,2177.8 L1617.9,2177.8 L1619.4,2177.8 L1620.9,2177.8 L1622.4,2177.8 L1623.9,2177.8 L1625.4,2177.8 L1626.9,2177.8 L1628.4,2177.8 L1629.9,2177.8 L1631.4,2177.8 L1632.9,2177.8 L1634.4,2177.8 L1635.8,2177.8 L1637.3,2177.8 L1638.8,2177.8 L1640.3,2177.8 L1641.8,2177.9 L1643.3,2177.9 L1644.8,2177.9 L1646.3,2177.9 L1647.8,2177.9 L1649.3,2177.9 L1650.8,2177.9 L1652.3,2177.9 L1653.8,2177.9 L1655.3,2177.9 L1656.8,2177.9 L1658.3,2177.9 L1659.7,2177.9 L1661.2,2177.9 L1662.7,2177.9 L1664.2,2177.9 L1665.7,2177.9 L1667.2,2177.9 L1668.7,2177.9 L1670.2,2177.9 L1671.7,2177.9 L1673.2,2177.9 L1674.7,2177.9 L1676.2,2177.9 L1677.7,2177.9 L1679.2,2177.9 L1680.7,2177.9 L1682.2,2177.9 L1683.6,2177.9 L1685.1,2177.9 L1686.6,2177.9 L1688.1,2177.9 L1689.6,2177.9 L1691.1,2177.9 L1692.6,2177.9 L1694.1,2177.9 L1695.6,2177.9 L1697.1,2177.9 L1698.6,2177.9 L1700.1,2177.8 L1701.6,2177.8 L1703.1,2177.7 L1704.6,2177.7 L1706.1,2177.6 L1707.6,2177.5 L1709.0,2177.4 L1710.5,2177.2 L1712.0,2177.1 L1713.5,2176.9 L1715.0,2176.7 L1716.5,2176.6 L1718.0,2176.4 L1719.5,2176.2 L1721.0,2175.9 L1722.5,2175.7 L1724.0,2175.5 L1725.5,2175.3 L1727.0,2175.1 L1728.5,2174.8 L1730.0,2174.6 L1731.5,2174.4 L1732.9,2174.1 L1734.4,2173.9 L1735.9,2173.7 L1737.4,2173.4 L1738.9,2173.2 L1740.4,2173.0 L1741.9,2172.8 L1743.4,2172.6 L1744.9,2172.4 L1746.4,2172.2 L1747.9,2172.0 L1749.4,2171.8 L1750.9,2171.6 L1752.4,2171.3 L1753.9,2171.1 L1755.4,2170.9 L1756.8,2170.7 L1758.3,2170.5 L1759.8,2170.3 L1761.3,2170.1 L1762.8,2169.9 L1764.3,2169.6 L1765.8,2169.4 L1767.3,2169.2 L1768.8,2169.0 L1770.3,2168.7 L1771.8,2168.5 L1773.3,2168.3 L1774.8,2168.0 L1776.3,2167.8 L1777.8,2167.6 L1779.3,2167.3 L1780.7,2167.1 L1782.2,2166.8 L1783.7,2166.6 L1785.2,2166.3 L1786.7,2166.1 L1788.2,2165.8 L1789.7,2165.6 L1791.2,2165.3 L1792.7,2165.0 L1794.2,2164.8 L1795.7,2164.5 L1797.2,2164.2 L1798.7,2164.0 L1800.2,2163.7 L1801.7,2163.4 L1803.2,2163.1 L1804.6,2162.8 L1806.1,2162.5 L1807.6,2162.2 L1809.1,2161.9 L1810.6,2161.6 L1812.1,2161.3 L1813.6,2161.0 L1815.1,2160.6 L1816.6,2160.3 L1818.1,2159.9 L1819.6,2159.6 L1821.1,2159.2 L1822.6,2158.8 L1824.1,2158.4 L1825.6,2158.0 L1827.1,2157.7 L1828.5,2157.3 L1830.0,2156.8 L1831.5,2156.4 L1833.0,2155.9 L1834.5,2155.4 L1836.0,2154.8 L1837.5,2154.2 L1839.0,2153.5 L1840.5,2152.7 L1842.0,2151.8 L1843.5,2150.9 L1845.0,2149.8 L1846.5,2148.7 L1848.0,2147.6 L1849.5,2146.5 L1851.0,2145.4 L1852.4,2144.3 L1853.9,2143.2 L1855.4,2141.9 L1856.9,2140.6 L1858.4,2139.2 L1859.9,2137.6 L1861.4,2135.9 L1862.9,2134.1 L1864.4,2132.1 L1865.9,2130.0 L1867.4,2127.9 L1868.9,2125.6 L1870.4,2123.1 L1871.9,2120.6 L1873.4,2118.0 L1874.9,2115.2 L1876.3,2112.4 L1877.8,2109.5 L1879.3,2106.6 L1880.8,2103.5 L1882.3,2100.5 L1883.8,2097.4 L1885.3,2094.3 L1886.8,2091.1 L1888.3,2088.0 L1889.8,2084.8 L1891.3,2081.7 L1892.8,2078.5 L1894.3,2075.4 L1895.8,2072.3 L1897.3,2069.1 L1898.8,2065.9 L1900.3,2062.7 L1901.7,2059.5 L1903.2,2056.2 L1904.7,2053.0 L1906.2,2049.8 L1907.7,2046.7 L1909.2,2043.6 L1910.7,2040.6 L1912.2,2037.6 L1913.7,2034.6 L1915.2,2031.7 L1916.7,2028.7 L1918.2,2025.8 L1919.7,2022.9 L1921.2,2020.0 L1922.7,2017.1 L1924.2,2014.2 L1925.6,2011.3 L1927.1,2008.4 L1928.6,2005.4 L1930.1,2002.4 L1931.6,1999.3 L1933.1,1996.2 L1934.6,1993.1 L1936.1,1989.9 L1937.6,1986.6 L1939.1,1983.2 L1940.6,1979.9 L1942.1,1976.4 L1943.6,1973.0 L1945.1,1969.6 L1946.6,1966.1 L1948.1,1962.7 L1949.5,1959.3 L1951.0,1955.9 L1952.5,1952.4 L1954.0,1949.0 L1955.5,1945.6 L1957.0,1942.1 L1958.5,1938.7 L1960.0,1935.3 L1961.5,1931.9 L1963.0,1928.4 L1964.5,1925.0 L1966.0,1921.6 L1967.5,1918.2 L1969.0,1914.8 L1970.5,1911.3 L1972.0,1907.9 L1973.4,1904.5 L1974.9,1901.1 L1976.4,1897.7 L1977.9,1894.3 L1979.4,1890.9 L1980.9,1887.5 L1982.4,1884.1 L1983.9,1880.7 L1985.4,1877.3 L1986.9,1873.9 L1988.4,1870.6 L1989.9,1867.2 L1991.4,1863.8 L1992.9,1860.4 L1994.4,1857.0 L1995.9,1853.7 L1997.3,1850.3 L1998.8,1846.9 L2000.3,1843.5 L2001.8,1840.2 L2003.3,1836.8 L2004.8,1833.4 L2006.3,1830.1 L2007.8,1826.7 L2009.3,1823.4 L2010.8,1820.0 L2012.3,1816.7 L2013.8,1813.3 L2015.3,1810.0 L2016.8,1806.6 L2018.3,1803.3 L2019.8,1799.9 L2021.2,1796.6 L2022.7,1793.3 L2024.2,1789.9 L2025.7,1786.6 L2027.2,1783.3 L2028.7,1779.9 L2030.2,1776.6 L2031.7,1773.3 L2033.2,1770.0 L2034.7,1766.6 L2036.2,1763.3 L2037.7,1760.0 L2039.2,1756.7 L2040.7,1753.4 L2042.2,1750.1 L2043.7,1746.8 L2045.1,1743.5 L2046.6,1740.2 L2048.1,1736.9 L2049.6,1733.6 L2051.1,1730.3 L2052.6,1727.0 L2054.1,1723.7 L2055.6,1720.4 L2057.1,1717.1 L2058.6,1713.8 L2060.1,1710.6 L2061.6,1707.3 L2063.1,1704.0 L2064.6,1700.7 L2066.1,1697.4 L2067.6,1694.2 L2069.0,1690.9 L2070.5,1687.6 L2072.0,1684.4 L2073.5,1681.1 L2075.0,1677.9 L2076.5,1674.6 L2078.0,1671.3 L2079.5,1668.1 L2081.0,1664.8" stroke="#00ffff"/>
</g>
<rect x="1334.1" y="1389.0" width="746.90" height="871.00" fill="none" stroke="#000" stroke-width="2.2"/>
<path d="M1334.10,2260.0v-24.5M1334.10,1389.0v24.5M1520.82,2260.0v-12M1520.82,1389.0v12M1707.55,2260.0v-24.5M1707.55,1389.0v24.5M1894.28,2260.0v-12M1894.28,1389.0v12M2081.00,2260.0v-24.5M2081.00,1389.0v24.5M1334.1,2260.00h24.5M2081.0,2260.00h-24.5M1334.1,2151.12h12M2081.0,2151.12h-12M1334.1,2042.25h24.5M2081.0,2042.25h-24.5M1334.1,1933.38h12M2081.0,1933.38h-12M1334.1,1824.50h24.5M2081.0,1824.50h-24.5M1334.1,1715.62h12M2081.0,1715.62h-12M1334.1,1606.75h24.5M2081.0,1606.75h-24.5M1334.1,1497.88h12M2081.0,1497.88h-12M1334.1,1389.00h24.5M2081.0,1389.00h-24.5" stroke="#000" stroke-width="2.1" fill="none"/>
<text x="1322.4" y="2277.2" font-family="Liberation Serif, Times New Roman, serif" font-size="52.6" text-anchor="end">0</text>
<text x="1322.5" y="2056.2" font-family="Liberation Serif, Times New Roman, serif" font-size="52.6" text-anchor="end">0.5</text>
<text x="1323.6" y="1841.7" font-family="Liberation Serif, Times New Roman, serif" font-size="52.6" text-anchor="end">1</text>
<text x="1322.5" y="1620.8" font-family="Liberation Serif, Times New Roman, serif" font-size="52.6" text-anchor="end">1.5</text>
<text x="1323.3" y="1406.2" font-family="Liberation Serif, Times New Roman, serif" font-size="52.6" text-anchor="end">2</text>
<text x="1334.1" y="2308.0" font-family="Liberation Serif, Times New Roman, serif" font-size="52.6" text-anchor="middle">0</text>
<text x="1707.5" y="2308.0" font-family="Liberation Serif, Times New Roman, serif" font-size="52.6" text-anchor="middle">0.5</text>
<text x="2081.0" y="2308.0" font-family="Liberation Serif, Times New Roman, serif" font-size="52.6" text-anchor="middle">1</text>
<text x="1707.5" y="1313.8" font-family="Liberation Serif, Times New Roman, serif" font-size="52.6" text-anchor="middle">310 K SO2</text>
<text x="1708.5" y="2376.0" font-family="Liberation Serif, Times New Roman, serif" font-size="70.1" text-anchor="middle">r (nm)</text>
<text transform="translate(1247.1,1824.5) rotate(-90)" font-family="Liberation Serif, Times New Roman, serif" font-size="70.1" text-anchor="middle">number</text>
<rect x="189" y="177.9" width="170.8" height="199.2" fill="#fff" stroke="#000" stroke-width="2"/>
<path d="M200.9,201.5H227" stroke="#141414" stroke-width="3"/>
<text x="253" y="212.3" font-family="Liberation Serif, Times New Roman, serif" font-size="37.0">20 ns</text>
<path d="M200.9,238.4H227" stroke="#ff3333" stroke-width="3"/>
<text x="253" y="249.6" font-family="Liberation Serif, Times New Roman, serif" font-size="37.0">40 ns</text>
<path d="M200.9,277.2H227" stroke="#44ee44" stroke-width="3"/>
<text x="253" y="288.5" font-family="Liberation Serif, Times New Roman, serif" font-size="37.0">60 ns</text>
<path d="M200.9,313.5H227" stroke="#8888ff" stroke-width="3"/>
<text x="253" y="326.9" font-family="Liberation Serif, Times New Roman, serif" font-size="37.0">80 ns</text>
<path d="M200.9,352.4H227" stroke="#00ffff" stroke-width="3"/>
<text x="253" y="365.0" font-family="Liberation Serif, Times New Roman, serif" font-size="37.0">100 ns</text>
<text x="1120.5" y="76.6" font-family="Liberation Serif, Times New Roman, serif" font-size="86.5" text-anchor="middle">(A)</text>
<text x="1130" y="1308" font-family="Liberation Serif, Times New Roman, serif" font-size="86.5" text-anchor="middle">(B)</text>
</svg>
</body></html>
